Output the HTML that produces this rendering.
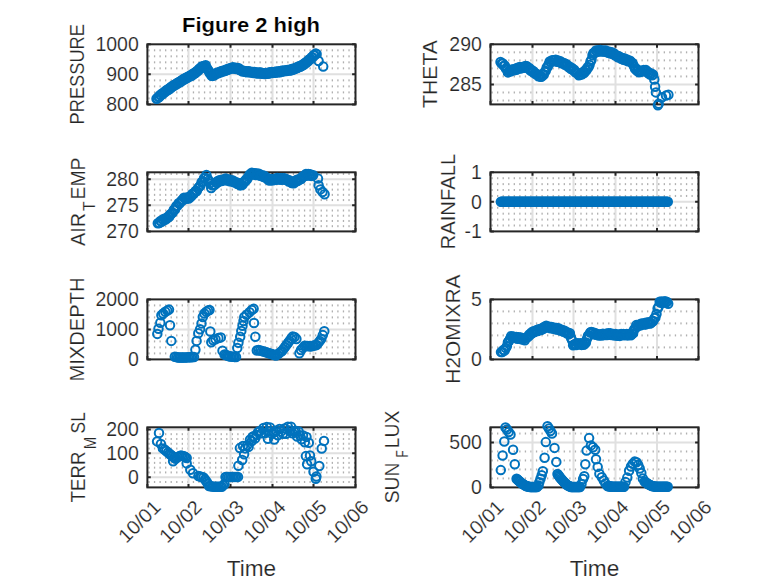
<!DOCTYPE html><html><head><meta charset="utf-8"><style>html,body{margin:0;padding:0;background:#fff;width:778px;height:583px;overflow:hidden}svg{display:block}</style></head><body>
<svg width="778" height="583" viewBox="0 0 778 583" font-family='"Liberation Sans", sans-serif'>
<rect width="778" height="583" fill="#fff"/>
<g fill="#b0b0b0"><rect x="148.35" y="97.39" width="1.3" height="2.0"/><rect x="153.91" y="97.39" width="1.3" height="2.0"/><rect x="159.46" y="97.39" width="1.3" height="2.0"/><rect x="165.02" y="97.39" width="1.3" height="2.0"/><rect x="170.57" y="97.39" width="1.3" height="2.0"/><rect x="176.13" y="97.39" width="1.3" height="2.0"/><rect x="181.69" y="97.39" width="1.3" height="2.0"/><rect x="187.24" y="97.39" width="1.3" height="2.0"/><rect x="192.80" y="97.39" width="1.3" height="2.0"/><rect x="198.35" y="97.39" width="1.3" height="2.0"/><rect x="203.91" y="97.39" width="1.3" height="2.0"/><rect x="209.47" y="97.39" width="1.3" height="2.0"/><rect x="215.02" y="97.39" width="1.3" height="2.0"/><rect x="220.58" y="97.39" width="1.3" height="2.0"/><rect x="226.13" y="97.39" width="1.3" height="2.0"/><rect x="231.69" y="97.39" width="1.3" height="2.0"/><rect x="237.25" y="97.39" width="1.3" height="2.0"/><rect x="242.80" y="97.39" width="1.3" height="2.0"/><rect x="248.36" y="97.39" width="1.3" height="2.0"/><rect x="253.91" y="97.39" width="1.3" height="2.0"/><rect x="259.47" y="97.39" width="1.3" height="2.0"/><rect x="265.03" y="97.39" width="1.3" height="2.0"/><rect x="270.58" y="97.39" width="1.3" height="2.0"/><rect x="276.14" y="97.39" width="1.3" height="2.0"/><rect x="281.69" y="97.39" width="1.3" height="2.0"/><rect x="287.25" y="97.39" width="1.3" height="2.0"/><rect x="292.81" y="97.39" width="1.3" height="2.0"/><rect x="298.36" y="97.39" width="1.3" height="2.0"/><rect x="303.92" y="97.39" width="1.3" height="2.0"/><rect x="309.47" y="97.39" width="1.3" height="2.0"/><rect x="315.03" y="97.39" width="1.3" height="2.0"/><rect x="320.59" y="97.39" width="1.3" height="2.0"/><rect x="326.14" y="97.39" width="1.3" height="2.0"/><rect x="331.70" y="97.39" width="1.3" height="2.0"/><rect x="337.25" y="97.39" width="1.3" height="2.0"/><rect x="342.81" y="97.39" width="1.3" height="2.0"/><rect x="348.37" y="97.39" width="1.3" height="2.0"/><rect x="353.92" y="97.39" width="1.3" height="2.0"/><rect x="148.35" y="91.38" width="1.3" height="2.0"/><rect x="153.91" y="91.38" width="1.3" height="2.0"/><rect x="159.46" y="91.38" width="1.3" height="2.0"/><rect x="165.02" y="91.38" width="1.3" height="2.0"/><rect x="170.57" y="91.38" width="1.3" height="2.0"/><rect x="176.13" y="91.38" width="1.3" height="2.0"/><rect x="181.69" y="91.38" width="1.3" height="2.0"/><rect x="187.24" y="91.38" width="1.3" height="2.0"/><rect x="192.80" y="91.38" width="1.3" height="2.0"/><rect x="198.35" y="91.38" width="1.3" height="2.0"/><rect x="203.91" y="91.38" width="1.3" height="2.0"/><rect x="209.47" y="91.38" width="1.3" height="2.0"/><rect x="215.02" y="91.38" width="1.3" height="2.0"/><rect x="220.58" y="91.38" width="1.3" height="2.0"/><rect x="226.13" y="91.38" width="1.3" height="2.0"/><rect x="231.69" y="91.38" width="1.3" height="2.0"/><rect x="237.25" y="91.38" width="1.3" height="2.0"/><rect x="242.80" y="91.38" width="1.3" height="2.0"/><rect x="248.36" y="91.38" width="1.3" height="2.0"/><rect x="253.91" y="91.38" width="1.3" height="2.0"/><rect x="259.47" y="91.38" width="1.3" height="2.0"/><rect x="265.03" y="91.38" width="1.3" height="2.0"/><rect x="270.58" y="91.38" width="1.3" height="2.0"/><rect x="276.14" y="91.38" width="1.3" height="2.0"/><rect x="281.69" y="91.38" width="1.3" height="2.0"/><rect x="287.25" y="91.38" width="1.3" height="2.0"/><rect x="292.81" y="91.38" width="1.3" height="2.0"/><rect x="298.36" y="91.38" width="1.3" height="2.0"/><rect x="303.92" y="91.38" width="1.3" height="2.0"/><rect x="309.47" y="91.38" width="1.3" height="2.0"/><rect x="315.03" y="91.38" width="1.3" height="2.0"/><rect x="320.59" y="91.38" width="1.3" height="2.0"/><rect x="326.14" y="91.38" width="1.3" height="2.0"/><rect x="331.70" y="91.38" width="1.3" height="2.0"/><rect x="337.25" y="91.38" width="1.3" height="2.0"/><rect x="342.81" y="91.38" width="1.3" height="2.0"/><rect x="348.37" y="91.38" width="1.3" height="2.0"/><rect x="353.92" y="91.38" width="1.3" height="2.0"/><rect x="148.35" y="85.37" width="1.3" height="2.0"/><rect x="153.91" y="85.37" width="1.3" height="2.0"/><rect x="159.46" y="85.37" width="1.3" height="2.0"/><rect x="165.02" y="85.37" width="1.3" height="2.0"/><rect x="170.57" y="85.37" width="1.3" height="2.0"/><rect x="176.13" y="85.37" width="1.3" height="2.0"/><rect x="181.69" y="85.37" width="1.3" height="2.0"/><rect x="187.24" y="85.37" width="1.3" height="2.0"/><rect x="192.80" y="85.37" width="1.3" height="2.0"/><rect x="198.35" y="85.37" width="1.3" height="2.0"/><rect x="203.91" y="85.37" width="1.3" height="2.0"/><rect x="209.47" y="85.37" width="1.3" height="2.0"/><rect x="215.02" y="85.37" width="1.3" height="2.0"/><rect x="220.58" y="85.37" width="1.3" height="2.0"/><rect x="226.13" y="85.37" width="1.3" height="2.0"/><rect x="231.69" y="85.37" width="1.3" height="2.0"/><rect x="237.25" y="85.37" width="1.3" height="2.0"/><rect x="242.80" y="85.37" width="1.3" height="2.0"/><rect x="248.36" y="85.37" width="1.3" height="2.0"/><rect x="253.91" y="85.37" width="1.3" height="2.0"/><rect x="259.47" y="85.37" width="1.3" height="2.0"/><rect x="265.03" y="85.37" width="1.3" height="2.0"/><rect x="270.58" y="85.37" width="1.3" height="2.0"/><rect x="276.14" y="85.37" width="1.3" height="2.0"/><rect x="281.69" y="85.37" width="1.3" height="2.0"/><rect x="287.25" y="85.37" width="1.3" height="2.0"/><rect x="292.81" y="85.37" width="1.3" height="2.0"/><rect x="298.36" y="85.37" width="1.3" height="2.0"/><rect x="303.92" y="85.37" width="1.3" height="2.0"/><rect x="309.47" y="85.37" width="1.3" height="2.0"/><rect x="315.03" y="85.37" width="1.3" height="2.0"/><rect x="320.59" y="85.37" width="1.3" height="2.0"/><rect x="326.14" y="85.37" width="1.3" height="2.0"/><rect x="331.70" y="85.37" width="1.3" height="2.0"/><rect x="337.25" y="85.37" width="1.3" height="2.0"/><rect x="342.81" y="85.37" width="1.3" height="2.0"/><rect x="348.37" y="85.37" width="1.3" height="2.0"/><rect x="353.92" y="85.37" width="1.3" height="2.0"/><rect x="148.35" y="79.36" width="1.3" height="2.0"/><rect x="153.91" y="79.36" width="1.3" height="2.0"/><rect x="159.46" y="79.36" width="1.3" height="2.0"/><rect x="165.02" y="79.36" width="1.3" height="2.0"/><rect x="170.57" y="79.36" width="1.3" height="2.0"/><rect x="176.13" y="79.36" width="1.3" height="2.0"/><rect x="181.69" y="79.36" width="1.3" height="2.0"/><rect x="187.24" y="79.36" width="1.3" height="2.0"/><rect x="192.80" y="79.36" width="1.3" height="2.0"/><rect x="198.35" y="79.36" width="1.3" height="2.0"/><rect x="203.91" y="79.36" width="1.3" height="2.0"/><rect x="209.47" y="79.36" width="1.3" height="2.0"/><rect x="215.02" y="79.36" width="1.3" height="2.0"/><rect x="220.58" y="79.36" width="1.3" height="2.0"/><rect x="226.13" y="79.36" width="1.3" height="2.0"/><rect x="231.69" y="79.36" width="1.3" height="2.0"/><rect x="237.25" y="79.36" width="1.3" height="2.0"/><rect x="242.80" y="79.36" width="1.3" height="2.0"/><rect x="248.36" y="79.36" width="1.3" height="2.0"/><rect x="253.91" y="79.36" width="1.3" height="2.0"/><rect x="259.47" y="79.36" width="1.3" height="2.0"/><rect x="265.03" y="79.36" width="1.3" height="2.0"/><rect x="270.58" y="79.36" width="1.3" height="2.0"/><rect x="276.14" y="79.36" width="1.3" height="2.0"/><rect x="281.69" y="79.36" width="1.3" height="2.0"/><rect x="287.25" y="79.36" width="1.3" height="2.0"/><rect x="292.81" y="79.36" width="1.3" height="2.0"/><rect x="298.36" y="79.36" width="1.3" height="2.0"/><rect x="303.92" y="79.36" width="1.3" height="2.0"/><rect x="309.47" y="79.36" width="1.3" height="2.0"/><rect x="315.03" y="79.36" width="1.3" height="2.0"/><rect x="320.59" y="79.36" width="1.3" height="2.0"/><rect x="326.14" y="79.36" width="1.3" height="2.0"/><rect x="331.70" y="79.36" width="1.3" height="2.0"/><rect x="337.25" y="79.36" width="1.3" height="2.0"/><rect x="342.81" y="79.36" width="1.3" height="2.0"/><rect x="348.37" y="79.36" width="1.3" height="2.0"/><rect x="353.92" y="79.36" width="1.3" height="2.0"/><rect x="148.35" y="67.34" width="1.3" height="2.0"/><rect x="153.91" y="67.34" width="1.3" height="2.0"/><rect x="159.46" y="67.34" width="1.3" height="2.0"/><rect x="165.02" y="67.34" width="1.3" height="2.0"/><rect x="170.57" y="67.34" width="1.3" height="2.0"/><rect x="176.13" y="67.34" width="1.3" height="2.0"/><rect x="181.69" y="67.34" width="1.3" height="2.0"/><rect x="187.24" y="67.34" width="1.3" height="2.0"/><rect x="192.80" y="67.34" width="1.3" height="2.0"/><rect x="198.35" y="67.34" width="1.3" height="2.0"/><rect x="203.91" y="67.34" width="1.3" height="2.0"/><rect x="209.47" y="67.34" width="1.3" height="2.0"/><rect x="215.02" y="67.34" width="1.3" height="2.0"/><rect x="220.58" y="67.34" width="1.3" height="2.0"/><rect x="226.13" y="67.34" width="1.3" height="2.0"/><rect x="231.69" y="67.34" width="1.3" height="2.0"/><rect x="237.25" y="67.34" width="1.3" height="2.0"/><rect x="242.80" y="67.34" width="1.3" height="2.0"/><rect x="248.36" y="67.34" width="1.3" height="2.0"/><rect x="253.91" y="67.34" width="1.3" height="2.0"/><rect x="259.47" y="67.34" width="1.3" height="2.0"/><rect x="265.03" y="67.34" width="1.3" height="2.0"/><rect x="270.58" y="67.34" width="1.3" height="2.0"/><rect x="276.14" y="67.34" width="1.3" height="2.0"/><rect x="281.69" y="67.34" width="1.3" height="2.0"/><rect x="287.25" y="67.34" width="1.3" height="2.0"/><rect x="292.81" y="67.34" width="1.3" height="2.0"/><rect x="298.36" y="67.34" width="1.3" height="2.0"/><rect x="303.92" y="67.34" width="1.3" height="2.0"/><rect x="309.47" y="67.34" width="1.3" height="2.0"/><rect x="315.03" y="67.34" width="1.3" height="2.0"/><rect x="320.59" y="67.34" width="1.3" height="2.0"/><rect x="326.14" y="67.34" width="1.3" height="2.0"/><rect x="331.70" y="67.34" width="1.3" height="2.0"/><rect x="337.25" y="67.34" width="1.3" height="2.0"/><rect x="342.81" y="67.34" width="1.3" height="2.0"/><rect x="348.37" y="67.34" width="1.3" height="2.0"/><rect x="353.92" y="67.34" width="1.3" height="2.0"/><rect x="148.35" y="61.33" width="1.3" height="2.0"/><rect x="153.91" y="61.33" width="1.3" height="2.0"/><rect x="159.46" y="61.33" width="1.3" height="2.0"/><rect x="165.02" y="61.33" width="1.3" height="2.0"/><rect x="170.57" y="61.33" width="1.3" height="2.0"/><rect x="176.13" y="61.33" width="1.3" height="2.0"/><rect x="181.69" y="61.33" width="1.3" height="2.0"/><rect x="187.24" y="61.33" width="1.3" height="2.0"/><rect x="192.80" y="61.33" width="1.3" height="2.0"/><rect x="198.35" y="61.33" width="1.3" height="2.0"/><rect x="203.91" y="61.33" width="1.3" height="2.0"/><rect x="209.47" y="61.33" width="1.3" height="2.0"/><rect x="215.02" y="61.33" width="1.3" height="2.0"/><rect x="220.58" y="61.33" width="1.3" height="2.0"/><rect x="226.13" y="61.33" width="1.3" height="2.0"/><rect x="231.69" y="61.33" width="1.3" height="2.0"/><rect x="237.25" y="61.33" width="1.3" height="2.0"/><rect x="242.80" y="61.33" width="1.3" height="2.0"/><rect x="248.36" y="61.33" width="1.3" height="2.0"/><rect x="253.91" y="61.33" width="1.3" height="2.0"/><rect x="259.47" y="61.33" width="1.3" height="2.0"/><rect x="265.03" y="61.33" width="1.3" height="2.0"/><rect x="270.58" y="61.33" width="1.3" height="2.0"/><rect x="276.14" y="61.33" width="1.3" height="2.0"/><rect x="281.69" y="61.33" width="1.3" height="2.0"/><rect x="287.25" y="61.33" width="1.3" height="2.0"/><rect x="292.81" y="61.33" width="1.3" height="2.0"/><rect x="298.36" y="61.33" width="1.3" height="2.0"/><rect x="303.92" y="61.33" width="1.3" height="2.0"/><rect x="309.47" y="61.33" width="1.3" height="2.0"/><rect x="315.03" y="61.33" width="1.3" height="2.0"/><rect x="320.59" y="61.33" width="1.3" height="2.0"/><rect x="326.14" y="61.33" width="1.3" height="2.0"/><rect x="331.70" y="61.33" width="1.3" height="2.0"/><rect x="337.25" y="61.33" width="1.3" height="2.0"/><rect x="342.81" y="61.33" width="1.3" height="2.0"/><rect x="348.37" y="61.33" width="1.3" height="2.0"/><rect x="353.92" y="61.33" width="1.3" height="2.0"/><rect x="148.35" y="55.32" width="1.3" height="2.0"/><rect x="153.91" y="55.32" width="1.3" height="2.0"/><rect x="159.46" y="55.32" width="1.3" height="2.0"/><rect x="165.02" y="55.32" width="1.3" height="2.0"/><rect x="170.57" y="55.32" width="1.3" height="2.0"/><rect x="176.13" y="55.32" width="1.3" height="2.0"/><rect x="181.69" y="55.32" width="1.3" height="2.0"/><rect x="187.24" y="55.32" width="1.3" height="2.0"/><rect x="192.80" y="55.32" width="1.3" height="2.0"/><rect x="198.35" y="55.32" width="1.3" height="2.0"/><rect x="203.91" y="55.32" width="1.3" height="2.0"/><rect x="209.47" y="55.32" width="1.3" height="2.0"/><rect x="215.02" y="55.32" width="1.3" height="2.0"/><rect x="220.58" y="55.32" width="1.3" height="2.0"/><rect x="226.13" y="55.32" width="1.3" height="2.0"/><rect x="231.69" y="55.32" width="1.3" height="2.0"/><rect x="237.25" y="55.32" width="1.3" height="2.0"/><rect x="242.80" y="55.32" width="1.3" height="2.0"/><rect x="248.36" y="55.32" width="1.3" height="2.0"/><rect x="253.91" y="55.32" width="1.3" height="2.0"/><rect x="259.47" y="55.32" width="1.3" height="2.0"/><rect x="265.03" y="55.32" width="1.3" height="2.0"/><rect x="270.58" y="55.32" width="1.3" height="2.0"/><rect x="276.14" y="55.32" width="1.3" height="2.0"/><rect x="281.69" y="55.32" width="1.3" height="2.0"/><rect x="287.25" y="55.32" width="1.3" height="2.0"/><rect x="292.81" y="55.32" width="1.3" height="2.0"/><rect x="298.36" y="55.32" width="1.3" height="2.0"/><rect x="303.92" y="55.32" width="1.3" height="2.0"/><rect x="309.47" y="55.32" width="1.3" height="2.0"/><rect x="315.03" y="55.32" width="1.3" height="2.0"/><rect x="320.59" y="55.32" width="1.3" height="2.0"/><rect x="326.14" y="55.32" width="1.3" height="2.0"/><rect x="331.70" y="55.32" width="1.3" height="2.0"/><rect x="337.25" y="55.32" width="1.3" height="2.0"/><rect x="342.81" y="55.32" width="1.3" height="2.0"/><rect x="348.37" y="55.32" width="1.3" height="2.0"/><rect x="353.92" y="55.32" width="1.3" height="2.0"/><rect x="148.35" y="49.31" width="1.3" height="2.0"/><rect x="153.91" y="49.31" width="1.3" height="2.0"/><rect x="159.46" y="49.31" width="1.3" height="2.0"/><rect x="165.02" y="49.31" width="1.3" height="2.0"/><rect x="170.57" y="49.31" width="1.3" height="2.0"/><rect x="176.13" y="49.31" width="1.3" height="2.0"/><rect x="181.69" y="49.31" width="1.3" height="2.0"/><rect x="187.24" y="49.31" width="1.3" height="2.0"/><rect x="192.80" y="49.31" width="1.3" height="2.0"/><rect x="198.35" y="49.31" width="1.3" height="2.0"/><rect x="203.91" y="49.31" width="1.3" height="2.0"/><rect x="209.47" y="49.31" width="1.3" height="2.0"/><rect x="215.02" y="49.31" width="1.3" height="2.0"/><rect x="220.58" y="49.31" width="1.3" height="2.0"/><rect x="226.13" y="49.31" width="1.3" height="2.0"/><rect x="231.69" y="49.31" width="1.3" height="2.0"/><rect x="237.25" y="49.31" width="1.3" height="2.0"/><rect x="242.80" y="49.31" width="1.3" height="2.0"/><rect x="248.36" y="49.31" width="1.3" height="2.0"/><rect x="253.91" y="49.31" width="1.3" height="2.0"/><rect x="259.47" y="49.31" width="1.3" height="2.0"/><rect x="265.03" y="49.31" width="1.3" height="2.0"/><rect x="270.58" y="49.31" width="1.3" height="2.0"/><rect x="276.14" y="49.31" width="1.3" height="2.0"/><rect x="281.69" y="49.31" width="1.3" height="2.0"/><rect x="287.25" y="49.31" width="1.3" height="2.0"/><rect x="292.81" y="49.31" width="1.3" height="2.0"/><rect x="298.36" y="49.31" width="1.3" height="2.0"/><rect x="303.92" y="49.31" width="1.3" height="2.0"/><rect x="309.47" y="49.31" width="1.3" height="2.0"/><rect x="315.03" y="49.31" width="1.3" height="2.0"/><rect x="320.59" y="49.31" width="1.3" height="2.0"/><rect x="326.14" y="49.31" width="1.3" height="2.0"/><rect x="331.70" y="49.31" width="1.3" height="2.0"/><rect x="337.25" y="49.31" width="1.3" height="2.0"/><rect x="342.81" y="49.31" width="1.3" height="2.0"/><rect x="348.37" y="49.31" width="1.3" height="2.0"/><rect x="353.92" y="49.31" width="1.3" height="2.0"/></g>
<path d="M147.40 74.35H355.50M188.50 44.30V104.40M230.50 44.30V104.40M272.50 44.30V104.40M313.50 44.30V104.40" stroke="#e0e0e0" stroke-width="2.0" fill="none"/>
<path d="M147.40 104.40h3.4M355.50 104.40h-3.4M147.40 74.35h3.4M355.50 74.35h-3.4M147.40 44.30h3.4M355.50 44.30h-3.4M147.40 44.30v3.4M147.40 104.40v-3.4M188.50 44.30v3.4M188.50 104.40v-3.4M230.50 44.30v3.4M230.50 104.40v-3.4M272.50 44.30v3.4M272.50 104.40v-3.4M313.50 44.30v3.4M313.50 104.40v-3.4M355.50 44.30v3.4M355.50 104.40v-3.4" stroke="#262626" stroke-width="2.0" fill="none"/>
<rect x="147.40" y="44.30" width="208.10" height="60.10" fill="none" stroke="#262626" stroke-width="2.0"/>
<g fill="none" stroke="#0072BD" stroke-width="2.0"><circle cx="156.5" cy="98.7" r="4.25"/><circle cx="157.4" cy="98.4" r="4.25"/><circle cx="158.4" cy="96.8" r="4.25"/><circle cx="159.3" cy="97.0" r="4.25"/><circle cx="160.2" cy="95.0" r="4.25"/><circle cx="161.2" cy="95.0" r="4.25"/><circle cx="162.1" cy="93.4" r="4.25"/><circle cx="163.0" cy="93.7" r="4.25"/><circle cx="164.0" cy="92.5" r="4.25"/><circle cx="164.9" cy="91.4" r="4.25"/><circle cx="165.8" cy="91.6" r="4.25"/><circle cx="166.7" cy="90.0" r="4.25"/><circle cx="167.6" cy="89.8" r="4.25"/><circle cx="168.5" cy="89.7" r="4.25"/><circle cx="169.4" cy="88.2" r="4.25"/><circle cx="170.3" cy="88.5" r="4.25"/><circle cx="171.3" cy="86.8" r="4.25"/><circle cx="172.2" cy="86.9" r="4.25"/><circle cx="173.1" cy="85.5" r="4.25"/><circle cx="174.0" cy="85.8" r="4.25"/><circle cx="174.9" cy="84.8" r="4.25"/><circle cx="175.8" cy="84.0" r="4.25"/><circle cx="176.7" cy="84.2" r="4.25"/><circle cx="177.6" cy="82.7" r="4.25"/><circle cx="178.5" cy="82.6" r="4.25"/><circle cx="179.4" cy="82.5" r="4.25"/><circle cx="180.3" cy="81.2" r="4.25"/><circle cx="181.2" cy="81.6" r="4.25"/><circle cx="182.1" cy="79.9" r="4.25"/><circle cx="183.0" cy="80.1" r="4.25"/><circle cx="183.9" cy="78.8" r="4.25"/><circle cx="184.8" cy="79.2" r="4.25"/><circle cx="185.7" cy="78.3" r="4.25"/><circle cx="186.6" cy="77.5" r="4.25"/><circle cx="187.5" cy="77.9" r="4.25"/><circle cx="188.4" cy="76.4" r="4.25"/><circle cx="189.3" cy="76.3" r="4.25"/><circle cx="190.2" cy="76.3" r="4.25"/><circle cx="191.1" cy="75.0" r="4.25"/><circle cx="192.0" cy="75.5" r="4.25"/><circle cx="192.9" cy="73.8" r="4.25"/><circle cx="193.8" cy="74.1" r="4.25"/><circle cx="194.7" cy="72.8" r="4.25"/><circle cx="195.6" cy="73.0" r="4.25"/><circle cx="196.4" cy="71.8" r="4.25"/><circle cx="197.3" cy="70.7" r="4.25"/><circle cx="198.2" cy="70.7" r="4.25"/><circle cx="199.1" cy="68.9" r="4.25"/><circle cx="199.9" cy="68.5" r="4.25"/><circle cx="200.8" cy="68.2" r="4.25"/><circle cx="201.7" cy="66.5" r="4.25"/><circle cx="202.7" cy="67.2" r="4.25"/><circle cx="203.7" cy="65.9" r="4.25"/><circle cx="204.7" cy="66.3" r="4.25"/><circle cx="205.7" cy="65.3" r="4.25"/><circle cx="206.7" cy="68.0" r="4.25"/><circle cx="207.6" cy="69.2" r="4.25"/><circle cx="208.6" cy="70.6" r="4.25"/><circle cx="209.6" cy="73.1" r="4.25"/><circle cx="210.6" cy="73.7" r="4.25"/><circle cx="211.6" cy="75.8" r="4.25"/><circle cx="212.5" cy="75.9" r="4.25"/><circle cx="213.4" cy="74.6" r="4.25"/><circle cx="214.4" cy="75.2" r="4.25"/><circle cx="215.3" cy="73.6" r="4.25"/><circle cx="216.2" cy="73.9" r="4.25"/><circle cx="217.1" cy="72.7" r="4.25"/><circle cx="218.1" cy="73.3" r="4.25"/><circle cx="219.0" cy="72.5" r="4.25"/><circle cx="219.9" cy="71.8" r="4.25"/><circle cx="220.8" cy="72.3" r="4.25"/><circle cx="221.8" cy="71.0" r="4.25"/><circle cx="222.7" cy="71.2" r="4.25"/><circle cx="223.6" cy="71.3" r="4.25"/><circle cx="224.5" cy="70.2" r="4.25"/><circle cx="225.5" cy="70.8" r="4.25"/><circle cx="226.4" cy="69.4" r="4.25"/><circle cx="227.3" cy="69.8" r="4.25"/><circle cx="228.3" cy="68.7" r="4.25"/><circle cx="229.2" cy="69.4" r="4.25"/><circle cx="230.1" cy="68.6" r="4.25"/><circle cx="231.0" cy="68.0" r="4.25"/><circle cx="232.0" cy="68.5" r="4.25"/><circle cx="232.9" cy="67.2" r="4.25"/><circle cx="233.7" cy="67.9" r="4.25"/><circle cx="234.6" cy="68.5" r="4.25"/><circle cx="235.4" cy="67.8" r="4.25"/><circle cx="236.3" cy="69.0" r="4.25"/><circle cx="237.1" cy="68.0" r="4.25"/><circle cx="238.0" cy="68.9" r="4.25"/><circle cx="238.8" cy="68.3" r="4.25"/><circle cx="239.8" cy="70.0" r="4.25"/><circle cx="240.8" cy="70.2" r="4.25"/><circle cx="241.8" cy="70.6" r="4.25"/><circle cx="242.7" cy="71.6" r="4.25"/><circle cx="243.6" cy="70.7" r="4.25"/><circle cx="244.5" cy="71.3" r="4.25"/><circle cx="245.4" cy="71.9" r="4.25"/><circle cx="246.3" cy="71.2" r="4.25"/><circle cx="247.2" cy="72.2" r="4.25"/><circle cx="248.2" cy="71.2" r="4.25"/><circle cx="249.1" cy="72.1" r="4.25"/><circle cx="250.0" cy="71.4" r="4.25"/><circle cx="250.9" cy="72.6" r="4.25"/><circle cx="251.8" cy="72.3" r="4.25"/><circle cx="252.7" cy="72.1" r="4.25"/><circle cx="253.6" cy="73.0" r="4.25"/><circle cx="254.6" cy="72.1" r="4.25"/><circle cx="255.5" cy="72.7" r="4.25"/><circle cx="256.4" cy="73.2" r="4.25"/><circle cx="257.3" cy="72.5" r="4.25"/><circle cx="258.2" cy="73.5" r="4.25"/><circle cx="259.2" cy="72.5" r="4.25"/><circle cx="260.1" cy="73.3" r="4.25"/><circle cx="261.0" cy="72.6" r="4.25"/><circle cx="261.9" cy="73.7" r="4.25"/><circle cx="262.9" cy="73.4" r="4.25"/><circle cx="263.8" cy="73.2" r="4.25"/><circle cx="264.7" cy="74.1" r="4.25"/><circle cx="265.6" cy="73.0" r="4.25"/><circle cx="266.5" cy="73.4" r="4.25"/><circle cx="267.4" cy="73.7" r="4.25"/><circle cx="268.3" cy="72.8" r="4.25"/><circle cx="269.1" cy="73.6" r="4.25"/><circle cx="270.0" cy="72.3" r="4.25"/><circle cx="270.9" cy="72.9" r="4.25"/><circle cx="271.8" cy="72.0" r="4.25"/><circle cx="272.7" cy="72.9" r="4.25"/><circle cx="273.6" cy="72.4" r="4.25"/><circle cx="274.5" cy="72.0" r="4.25"/><circle cx="275.4" cy="72.7" r="4.25"/><circle cx="276.3" cy="71.6" r="4.25"/><circle cx="277.2" cy="71.9" r="4.25"/><circle cx="278.1" cy="72.3" r="4.25"/><circle cx="279.0" cy="71.3" r="4.25"/><circle cx="279.9" cy="72.2" r="4.25"/><circle cx="280.8" cy="70.9" r="4.25"/><circle cx="281.8" cy="71.5" r="4.25"/><circle cx="282.7" cy="70.5" r="4.25"/><circle cx="283.6" cy="71.4" r="4.25"/><circle cx="284.5" cy="70.8" r="4.25"/><circle cx="285.5" cy="70.4" r="4.25"/><circle cx="286.4" cy="71.1" r="4.25"/><circle cx="287.3" cy="69.9" r="4.25"/><circle cx="288.3" cy="70.2" r="4.25"/><circle cx="289.2" cy="70.6" r="4.25"/><circle cx="290.1" cy="69.6" r="4.25"/><circle cx="291.0" cy="70.4" r="4.25"/><circle cx="292.0" cy="69.1" r="4.25"/><circle cx="292.9" cy="69.7" r="4.25"/><circle cx="293.8" cy="68.5" r="4.25"/><circle cx="294.7" cy="69.1" r="4.25"/><circle cx="295.6" cy="68.2" r="4.25"/><circle cx="296.5" cy="67.5" r="4.25"/><circle cx="297.4" cy="68.0" r="4.25"/><circle cx="298.4" cy="66.5" r="4.25"/><circle cx="299.3" cy="66.6" r="4.25"/><circle cx="300.2" cy="66.7" r="4.25"/><circle cx="301.1" cy="65.4" r="4.25"/><circle cx="302.0" cy="65.9" r="4.25"/><circle cx="302.9" cy="64.4" r="4.25"/><circle cx="303.8" cy="64.7" r="4.25"/><circle cx="304.7" cy="63.1" r="4.25"/><circle cx="305.6" cy="63.4" r="4.25"/><circle cx="306.4" cy="62.2" r="4.25"/><circle cx="307.3" cy="61.2" r="4.25"/><circle cx="308.2" cy="61.3" r="4.25"/><circle cx="309.1" cy="59.5" r="4.25"/><circle cx="309.9" cy="59.2" r="4.25"/><circle cx="310.8" cy="59.0" r="4.25"/><circle cx="311.7" cy="57.3" r="4.25"/><circle cx="312.6" cy="57.4" r="4.25"/><circle cx="313.6" cy="55.3" r="4.25"/><circle cx="314.5" cy="55.2" r="4.25"/><circle cx="315.6" cy="53.6" r="4.25"/><circle cx="316.6" cy="53.9" r="4.25"/><circle cx="318.6" cy="61.0" r="4.25"/><circle cx="323.2" cy="66.6" r="4.25"/></g>
<text x="138.80" y="111.15" font-size="19.5" fill="#262626" stroke="#fff" stroke-width="0.18" text-anchor="end">800</text>
<text x="138.80" y="81.10" font-size="19.5" fill="#262626" stroke="#fff" stroke-width="0.18" text-anchor="end">900</text>
<text x="138.80" y="51.05" font-size="19.5" fill="#262626" stroke="#fff" stroke-width="0.18" text-anchor="end">1000</text>
<text transform="translate(84.00,124.50) rotate(-90)" font-size="20.0" fill="#262626" stroke="#fff" stroke-width="0.18" textLength="100.50" lengthAdjust="spacingAndGlyphs">PRESSURE</text>
<text x="182.00" y="31.5" font-size="20.5" font-weight="bold" fill="#000" stroke="#fff" stroke-width="0.18" textLength="138" lengthAdjust="spacingAndGlyphs">Figure 2 high</text>
<g fill="#b0b0b0"><rect x="491.45" y="99.51" width="1.3" height="2.0"/><rect x="497.01" y="99.51" width="1.3" height="2.0"/><rect x="502.56" y="99.51" width="1.3" height="2.0"/><rect x="508.12" y="99.51" width="1.3" height="2.0"/><rect x="513.67" y="99.51" width="1.3" height="2.0"/><rect x="519.23" y="99.51" width="1.3" height="2.0"/><rect x="524.79" y="99.51" width="1.3" height="2.0"/><rect x="530.34" y="99.51" width="1.3" height="2.0"/><rect x="535.90" y="99.51" width="1.3" height="2.0"/><rect x="541.45" y="99.51" width="1.3" height="2.0"/><rect x="547.01" y="99.51" width="1.3" height="2.0"/><rect x="552.57" y="99.51" width="1.3" height="2.0"/><rect x="558.12" y="99.51" width="1.3" height="2.0"/><rect x="563.68" y="99.51" width="1.3" height="2.0"/><rect x="569.23" y="99.51" width="1.3" height="2.0"/><rect x="574.79" y="99.51" width="1.3" height="2.0"/><rect x="580.35" y="99.51" width="1.3" height="2.0"/><rect x="585.90" y="99.51" width="1.3" height="2.0"/><rect x="591.46" y="99.51" width="1.3" height="2.0"/><rect x="597.01" y="99.51" width="1.3" height="2.0"/><rect x="602.57" y="99.51" width="1.3" height="2.0"/><rect x="608.13" y="99.51" width="1.3" height="2.0"/><rect x="613.68" y="99.51" width="1.3" height="2.0"/><rect x="619.24" y="99.51" width="1.3" height="2.0"/><rect x="624.79" y="99.51" width="1.3" height="2.0"/><rect x="630.35" y="99.51" width="1.3" height="2.0"/><rect x="635.91" y="99.51" width="1.3" height="2.0"/><rect x="641.46" y="99.51" width="1.3" height="2.0"/><rect x="647.02" y="99.51" width="1.3" height="2.0"/><rect x="652.57" y="99.51" width="1.3" height="2.0"/><rect x="658.13" y="99.51" width="1.3" height="2.0"/><rect x="663.69" y="99.51" width="1.3" height="2.0"/><rect x="669.24" y="99.51" width="1.3" height="2.0"/><rect x="674.80" y="99.51" width="1.3" height="2.0"/><rect x="680.35" y="99.51" width="1.3" height="2.0"/><rect x="685.91" y="99.51" width="1.3" height="2.0"/><rect x="691.47" y="99.51" width="1.3" height="2.0"/><rect x="697.02" y="99.51" width="1.3" height="2.0"/><rect x="491.45" y="91.48" width="1.3" height="2.0"/><rect x="497.01" y="91.48" width="1.3" height="2.0"/><rect x="502.56" y="91.48" width="1.3" height="2.0"/><rect x="508.12" y="91.48" width="1.3" height="2.0"/><rect x="513.67" y="91.48" width="1.3" height="2.0"/><rect x="519.23" y="91.48" width="1.3" height="2.0"/><rect x="524.79" y="91.48" width="1.3" height="2.0"/><rect x="530.34" y="91.48" width="1.3" height="2.0"/><rect x="535.90" y="91.48" width="1.3" height="2.0"/><rect x="541.45" y="91.48" width="1.3" height="2.0"/><rect x="547.01" y="91.48" width="1.3" height="2.0"/><rect x="552.57" y="91.48" width="1.3" height="2.0"/><rect x="558.12" y="91.48" width="1.3" height="2.0"/><rect x="563.68" y="91.48" width="1.3" height="2.0"/><rect x="569.23" y="91.48" width="1.3" height="2.0"/><rect x="574.79" y="91.48" width="1.3" height="2.0"/><rect x="580.35" y="91.48" width="1.3" height="2.0"/><rect x="585.90" y="91.48" width="1.3" height="2.0"/><rect x="591.46" y="91.48" width="1.3" height="2.0"/><rect x="597.01" y="91.48" width="1.3" height="2.0"/><rect x="602.57" y="91.48" width="1.3" height="2.0"/><rect x="608.13" y="91.48" width="1.3" height="2.0"/><rect x="613.68" y="91.48" width="1.3" height="2.0"/><rect x="619.24" y="91.48" width="1.3" height="2.0"/><rect x="624.79" y="91.48" width="1.3" height="2.0"/><rect x="630.35" y="91.48" width="1.3" height="2.0"/><rect x="635.91" y="91.48" width="1.3" height="2.0"/><rect x="641.46" y="91.48" width="1.3" height="2.0"/><rect x="647.02" y="91.48" width="1.3" height="2.0"/><rect x="652.57" y="91.48" width="1.3" height="2.0"/><rect x="658.13" y="91.48" width="1.3" height="2.0"/><rect x="663.69" y="91.48" width="1.3" height="2.0"/><rect x="669.24" y="91.48" width="1.3" height="2.0"/><rect x="674.80" y="91.48" width="1.3" height="2.0"/><rect x="680.35" y="91.48" width="1.3" height="2.0"/><rect x="685.91" y="91.48" width="1.3" height="2.0"/><rect x="691.47" y="91.48" width="1.3" height="2.0"/><rect x="697.02" y="91.48" width="1.3" height="2.0"/><rect x="491.45" y="75.42" width="1.3" height="2.0"/><rect x="497.01" y="75.42" width="1.3" height="2.0"/><rect x="502.56" y="75.42" width="1.3" height="2.0"/><rect x="508.12" y="75.42" width="1.3" height="2.0"/><rect x="513.67" y="75.42" width="1.3" height="2.0"/><rect x="519.23" y="75.42" width="1.3" height="2.0"/><rect x="524.79" y="75.42" width="1.3" height="2.0"/><rect x="530.34" y="75.42" width="1.3" height="2.0"/><rect x="535.90" y="75.42" width="1.3" height="2.0"/><rect x="541.45" y="75.42" width="1.3" height="2.0"/><rect x="547.01" y="75.42" width="1.3" height="2.0"/><rect x="552.57" y="75.42" width="1.3" height="2.0"/><rect x="558.12" y="75.42" width="1.3" height="2.0"/><rect x="563.68" y="75.42" width="1.3" height="2.0"/><rect x="569.23" y="75.42" width="1.3" height="2.0"/><rect x="574.79" y="75.42" width="1.3" height="2.0"/><rect x="580.35" y="75.42" width="1.3" height="2.0"/><rect x="585.90" y="75.42" width="1.3" height="2.0"/><rect x="591.46" y="75.42" width="1.3" height="2.0"/><rect x="597.01" y="75.42" width="1.3" height="2.0"/><rect x="602.57" y="75.42" width="1.3" height="2.0"/><rect x="608.13" y="75.42" width="1.3" height="2.0"/><rect x="613.68" y="75.42" width="1.3" height="2.0"/><rect x="619.24" y="75.42" width="1.3" height="2.0"/><rect x="624.79" y="75.42" width="1.3" height="2.0"/><rect x="630.35" y="75.42" width="1.3" height="2.0"/><rect x="635.91" y="75.42" width="1.3" height="2.0"/><rect x="641.46" y="75.42" width="1.3" height="2.0"/><rect x="647.02" y="75.42" width="1.3" height="2.0"/><rect x="652.57" y="75.42" width="1.3" height="2.0"/><rect x="658.13" y="75.42" width="1.3" height="2.0"/><rect x="663.69" y="75.42" width="1.3" height="2.0"/><rect x="669.24" y="75.42" width="1.3" height="2.0"/><rect x="674.80" y="75.42" width="1.3" height="2.0"/><rect x="680.35" y="75.42" width="1.3" height="2.0"/><rect x="685.91" y="75.42" width="1.3" height="2.0"/><rect x="691.47" y="75.42" width="1.3" height="2.0"/><rect x="697.02" y="75.42" width="1.3" height="2.0"/><rect x="491.45" y="67.39" width="1.3" height="2.0"/><rect x="497.01" y="67.39" width="1.3" height="2.0"/><rect x="502.56" y="67.39" width="1.3" height="2.0"/><rect x="508.12" y="67.39" width="1.3" height="2.0"/><rect x="513.67" y="67.39" width="1.3" height="2.0"/><rect x="519.23" y="67.39" width="1.3" height="2.0"/><rect x="524.79" y="67.39" width="1.3" height="2.0"/><rect x="530.34" y="67.39" width="1.3" height="2.0"/><rect x="535.90" y="67.39" width="1.3" height="2.0"/><rect x="541.45" y="67.39" width="1.3" height="2.0"/><rect x="547.01" y="67.39" width="1.3" height="2.0"/><rect x="552.57" y="67.39" width="1.3" height="2.0"/><rect x="558.12" y="67.39" width="1.3" height="2.0"/><rect x="563.68" y="67.39" width="1.3" height="2.0"/><rect x="569.23" y="67.39" width="1.3" height="2.0"/><rect x="574.79" y="67.39" width="1.3" height="2.0"/><rect x="580.35" y="67.39" width="1.3" height="2.0"/><rect x="585.90" y="67.39" width="1.3" height="2.0"/><rect x="591.46" y="67.39" width="1.3" height="2.0"/><rect x="597.01" y="67.39" width="1.3" height="2.0"/><rect x="602.57" y="67.39" width="1.3" height="2.0"/><rect x="608.13" y="67.39" width="1.3" height="2.0"/><rect x="613.68" y="67.39" width="1.3" height="2.0"/><rect x="619.24" y="67.39" width="1.3" height="2.0"/><rect x="624.79" y="67.39" width="1.3" height="2.0"/><rect x="630.35" y="67.39" width="1.3" height="2.0"/><rect x="635.91" y="67.39" width="1.3" height="2.0"/><rect x="641.46" y="67.39" width="1.3" height="2.0"/><rect x="647.02" y="67.39" width="1.3" height="2.0"/><rect x="652.57" y="67.39" width="1.3" height="2.0"/><rect x="658.13" y="67.39" width="1.3" height="2.0"/><rect x="663.69" y="67.39" width="1.3" height="2.0"/><rect x="669.24" y="67.39" width="1.3" height="2.0"/><rect x="674.80" y="67.39" width="1.3" height="2.0"/><rect x="680.35" y="67.39" width="1.3" height="2.0"/><rect x="685.91" y="67.39" width="1.3" height="2.0"/><rect x="691.47" y="67.39" width="1.3" height="2.0"/><rect x="697.02" y="67.39" width="1.3" height="2.0"/><rect x="491.45" y="59.36" width="1.3" height="2.0"/><rect x="497.01" y="59.36" width="1.3" height="2.0"/><rect x="502.56" y="59.36" width="1.3" height="2.0"/><rect x="508.12" y="59.36" width="1.3" height="2.0"/><rect x="513.67" y="59.36" width="1.3" height="2.0"/><rect x="519.23" y="59.36" width="1.3" height="2.0"/><rect x="524.79" y="59.36" width="1.3" height="2.0"/><rect x="530.34" y="59.36" width="1.3" height="2.0"/><rect x="535.90" y="59.36" width="1.3" height="2.0"/><rect x="541.45" y="59.36" width="1.3" height="2.0"/><rect x="547.01" y="59.36" width="1.3" height="2.0"/><rect x="552.57" y="59.36" width="1.3" height="2.0"/><rect x="558.12" y="59.36" width="1.3" height="2.0"/><rect x="563.68" y="59.36" width="1.3" height="2.0"/><rect x="569.23" y="59.36" width="1.3" height="2.0"/><rect x="574.79" y="59.36" width="1.3" height="2.0"/><rect x="580.35" y="59.36" width="1.3" height="2.0"/><rect x="585.90" y="59.36" width="1.3" height="2.0"/><rect x="591.46" y="59.36" width="1.3" height="2.0"/><rect x="597.01" y="59.36" width="1.3" height="2.0"/><rect x="602.57" y="59.36" width="1.3" height="2.0"/><rect x="608.13" y="59.36" width="1.3" height="2.0"/><rect x="613.68" y="59.36" width="1.3" height="2.0"/><rect x="619.24" y="59.36" width="1.3" height="2.0"/><rect x="624.79" y="59.36" width="1.3" height="2.0"/><rect x="630.35" y="59.36" width="1.3" height="2.0"/><rect x="635.91" y="59.36" width="1.3" height="2.0"/><rect x="641.46" y="59.36" width="1.3" height="2.0"/><rect x="647.02" y="59.36" width="1.3" height="2.0"/><rect x="652.57" y="59.36" width="1.3" height="2.0"/><rect x="658.13" y="59.36" width="1.3" height="2.0"/><rect x="663.69" y="59.36" width="1.3" height="2.0"/><rect x="669.24" y="59.36" width="1.3" height="2.0"/><rect x="674.80" y="59.36" width="1.3" height="2.0"/><rect x="680.35" y="59.36" width="1.3" height="2.0"/><rect x="685.91" y="59.36" width="1.3" height="2.0"/><rect x="691.47" y="59.36" width="1.3" height="2.0"/><rect x="697.02" y="59.36" width="1.3" height="2.0"/><rect x="491.45" y="51.33" width="1.3" height="2.0"/><rect x="497.01" y="51.33" width="1.3" height="2.0"/><rect x="502.56" y="51.33" width="1.3" height="2.0"/><rect x="508.12" y="51.33" width="1.3" height="2.0"/><rect x="513.67" y="51.33" width="1.3" height="2.0"/><rect x="519.23" y="51.33" width="1.3" height="2.0"/><rect x="524.79" y="51.33" width="1.3" height="2.0"/><rect x="530.34" y="51.33" width="1.3" height="2.0"/><rect x="535.90" y="51.33" width="1.3" height="2.0"/><rect x="541.45" y="51.33" width="1.3" height="2.0"/><rect x="547.01" y="51.33" width="1.3" height="2.0"/><rect x="552.57" y="51.33" width="1.3" height="2.0"/><rect x="558.12" y="51.33" width="1.3" height="2.0"/><rect x="563.68" y="51.33" width="1.3" height="2.0"/><rect x="569.23" y="51.33" width="1.3" height="2.0"/><rect x="574.79" y="51.33" width="1.3" height="2.0"/><rect x="580.35" y="51.33" width="1.3" height="2.0"/><rect x="585.90" y="51.33" width="1.3" height="2.0"/><rect x="591.46" y="51.33" width="1.3" height="2.0"/><rect x="597.01" y="51.33" width="1.3" height="2.0"/><rect x="602.57" y="51.33" width="1.3" height="2.0"/><rect x="608.13" y="51.33" width="1.3" height="2.0"/><rect x="613.68" y="51.33" width="1.3" height="2.0"/><rect x="619.24" y="51.33" width="1.3" height="2.0"/><rect x="624.79" y="51.33" width="1.3" height="2.0"/><rect x="630.35" y="51.33" width="1.3" height="2.0"/><rect x="635.91" y="51.33" width="1.3" height="2.0"/><rect x="641.46" y="51.33" width="1.3" height="2.0"/><rect x="647.02" y="51.33" width="1.3" height="2.0"/><rect x="652.57" y="51.33" width="1.3" height="2.0"/><rect x="658.13" y="51.33" width="1.3" height="2.0"/><rect x="663.69" y="51.33" width="1.3" height="2.0"/><rect x="669.24" y="51.33" width="1.3" height="2.0"/><rect x="674.80" y="51.33" width="1.3" height="2.0"/><rect x="680.35" y="51.33" width="1.3" height="2.0"/><rect x="685.91" y="51.33" width="1.3" height="2.0"/><rect x="691.47" y="51.33" width="1.3" height="2.0"/><rect x="697.02" y="51.33" width="1.3" height="2.0"/></g>
<path d="M490.50 84.45H698.50M532.50 44.30V104.40M573.50 44.30V104.40M615.50 44.30V104.40M657.00 44.30V104.40" stroke="#e0e0e0" stroke-width="2.0" fill="none"/>
<path d="M490.50 84.45h3.4M698.50 84.45h-3.4M490.50 44.30h3.4M698.50 44.30h-3.4M490.50 44.30v3.4M490.50 104.40v-3.4M532.50 44.30v3.4M532.50 104.40v-3.4M573.50 44.30v3.4M573.50 104.40v-3.4M615.50 44.30v3.4M615.50 104.40v-3.4M657.00 44.30v3.4M657.00 104.40v-3.4M698.50 44.30v3.4M698.50 104.40v-3.4" stroke="#262626" stroke-width="2.0" fill="none"/>
<rect x="490.50" y="44.30" width="208.00" height="60.10" fill="none" stroke="#262626" stroke-width="2.0"/>
<g fill="none" stroke="#0072BD" stroke-width="2.0"><circle cx="500.5" cy="61.9" r="4.25"/><circle cx="501.6" cy="63.6" r="4.25"/><circle cx="502.8" cy="63.4" r="4.25"/><circle cx="503.9" cy="65.8" r="4.25"/><circle cx="504.9" cy="65.8" r="4.25"/><circle cx="505.9" cy="68.6" r="4.25"/><circle cx="506.9" cy="69.2" r="4.25"/><circle cx="507.9" cy="72.4" r="4.25"/><circle cx="508.9" cy="71.4" r="4.25"/><circle cx="509.9" cy="70.5" r="4.25"/><circle cx="510.9" cy="71.4" r="4.25"/><circle cx="511.9" cy="69.5" r="4.25"/><circle cx="512.9" cy="69.8" r="4.25"/><circle cx="514.1" cy="70.2" r="4.25"/><circle cx="515.3" cy="68.7" r="4.25"/><circle cx="516.4" cy="69.8" r="4.25"/><circle cx="517.6" cy="67.8" r="4.25"/><circle cx="518.8" cy="68.6" r="4.25"/><circle cx="519.9" cy="67.1" r="4.25"/><circle cx="521.1" cy="68.4" r="4.25"/><circle cx="522.2" cy="67.4" r="4.25"/><circle cx="523.4" cy="66.7" r="4.25"/><circle cx="524.5" cy="67.7" r="4.25"/><circle cx="525.7" cy="65.9" r="4.25"/><circle cx="526.8" cy="66.3" r="4.25"/><circle cx="528.0" cy="68.1" r="4.25"/><circle cx="529.2" cy="68.0" r="4.25"/><circle cx="530.4" cy="70.5" r="4.25"/><circle cx="531.6" cy="69.9" r="4.25"/><circle cx="532.8" cy="72.1" r="4.25"/><circle cx="533.9" cy="71.6" r="4.25"/><circle cx="535.1" cy="73.9" r="4.25"/><circle cx="536.2" cy="73.9" r="4.25"/><circle cx="537.3" cy="74.2" r="4.25"/><circle cx="538.4" cy="76.2" r="4.25"/><circle cx="539.6" cy="75.4" r="4.25"/><circle cx="540.7" cy="76.8" r="4.25"/><circle cx="541.7" cy="76.5" r="4.25"/><circle cx="542.7" cy="74.3" r="4.25"/><circle cx="543.7" cy="74.7" r="4.25"/><circle cx="544.7" cy="72.0" r="4.25"/><circle cx="545.7" cy="70.9" r="4.25"/><circle cx="546.7" cy="67.5" r="4.25"/><circle cx="547.7" cy="66.9" r="4.25"/><circle cx="548.7" cy="64.1" r="4.25"/><circle cx="549.7" cy="61.5" r="4.25"/><circle cx="550.9" cy="62.2" r="4.25"/><circle cx="552.1" cy="60.2" r="4.25"/><circle cx="553.4" cy="60.4" r="4.25"/><circle cx="554.6" cy="60.6" r="4.25"/><circle cx="555.7" cy="59.8" r="4.25"/><circle cx="556.9" cy="61.7" r="4.25"/><circle cx="558.0" cy="60.4" r="4.25"/><circle cx="559.2" cy="62.0" r="4.25"/><circle cx="560.3" cy="61.2" r="4.25"/><circle cx="561.5" cy="63.2" r="4.25"/><circle cx="562.6" cy="63.0" r="4.25"/><circle cx="563.8" cy="63.0" r="4.25"/><circle cx="564.9" cy="64.7" r="4.25"/><circle cx="566.1" cy="64.0" r="4.25"/><circle cx="567.2" cy="65.5" r="4.25"/><circle cx="568.4" cy="67.1" r="4.25"/><circle cx="569.6" cy="66.6" r="4.25"/><circle cx="570.7" cy="68.9" r="4.25"/><circle cx="571.9" cy="68.0" r="4.25"/><circle cx="573.0" cy="70.0" r="4.25"/><circle cx="574.2" cy="69.8" r="4.25"/><circle cx="575.3" cy="72.2" r="4.25"/><circle cx="576.5" cy="72.5" r="4.25"/><circle cx="577.6" cy="73.0" r="4.25"/><circle cx="578.8" cy="75.2" r="4.25"/><circle cx="579.9" cy="74.6" r="4.25"/><circle cx="581.0" cy="74.4" r="4.25"/><circle cx="582.1" cy="74.2" r="4.25"/><circle cx="583.2" cy="72.1" r="4.25"/><circle cx="584.3" cy="72.7" r="4.25"/><circle cx="585.4" cy="70.1" r="4.25"/><circle cx="586.5" cy="70.3" r="4.25"/><circle cx="587.5" cy="67.4" r="4.25"/><circle cx="588.5" cy="67.3" r="4.25"/><circle cx="589.5" cy="65.0" r="4.25"/><circle cx="590.5" cy="61.5" r="4.25"/><circle cx="591.5" cy="59.8" r="4.25"/><circle cx="592.5" cy="55.3" r="4.25"/><circle cx="593.5" cy="53.0" r="4.25"/><circle cx="594.8" cy="52.7" r="4.25"/><circle cx="596.0" cy="50.5" r="4.25"/><circle cx="597.1" cy="51.9" r="4.25"/><circle cx="598.2" cy="50.2" r="4.25"/><circle cx="599.3" cy="51.3" r="4.25"/><circle cx="600.4" cy="50.1" r="4.25"/><circle cx="601.4" cy="51.6" r="4.25"/><circle cx="602.5" cy="51.0" r="4.25"/><circle cx="603.6" cy="50.5" r="4.25"/><circle cx="604.7" cy="51.8" r="4.25"/><circle cx="605.9" cy="50.6" r="4.25"/><circle cx="607.0" cy="51.7" r="4.25"/><circle cx="608.2" cy="52.7" r="4.25"/><circle cx="609.4" cy="51.8" r="4.25"/><circle cx="610.5" cy="53.6" r="4.25"/><circle cx="611.7" cy="52.2" r="4.25"/><circle cx="612.7" cy="53.8" r="4.25"/><circle cx="613.8" cy="53.2" r="4.25"/><circle cx="614.8" cy="55.3" r="4.25"/><circle cx="615.8" cy="55.3" r="4.25"/><circle cx="616.8" cy="55.4" r="4.25"/><circle cx="617.9" cy="57.2" r="4.25"/><circle cx="618.9" cy="56.3" r="4.25"/><circle cx="620.1" cy="57.5" r="4.25"/><circle cx="621.2" cy="58.7" r="4.25"/><circle cx="622.4" cy="57.9" r="4.25"/><circle cx="623.5" cy="59.8" r="4.25"/><circle cx="624.7" cy="58.6" r="4.25"/><circle cx="625.8" cy="60.2" r="4.25"/><circle cx="627.0" cy="59.5" r="4.25"/><circle cx="628.0" cy="61.3" r="4.25"/><circle cx="629.1" cy="61.0" r="4.25"/><circle cx="630.1" cy="60.8" r="4.25"/><circle cx="631.2" cy="62.3" r="4.25"/><circle cx="632.5" cy="63.0" r="4.25"/><circle cx="633.7" cy="65.8" r="4.25"/><circle cx="635.0" cy="68.7" r="4.25"/><circle cx="636.0" cy="68.5" r="4.25"/><circle cx="637.0" cy="70.9" r="4.25"/><circle cx="638.0" cy="70.2" r="4.25"/><circle cx="639.0" cy="72.3" r="4.25"/><circle cx="640.2" cy="70.7" r="4.25"/><circle cx="641.4" cy="71.8" r="4.25"/><circle cx="642.6" cy="70.8" r="4.25"/><circle cx="643.8" cy="70.0" r="4.25"/><circle cx="645.0" cy="70.8" r="4.25"/><circle cx="646.0" cy="70.1" r="4.25"/><circle cx="647.0" cy="71.5" r="4.25"/><circle cx="648.0" cy="73.0" r="4.25"/><circle cx="649.0" cy="72.6" r="4.25"/><circle cx="650.0" cy="74.6" r="4.25"/><circle cx="651.0" cy="73.5" r="4.25"/><circle cx="652.1" cy="75.2" r="4.25"/><circle cx="653.1" cy="74.6" r="4.25"/><circle cx="654.3" cy="79.5" r="4.25"/><circle cx="655.1" cy="86.8" r="4.25"/><circle cx="655.9" cy="92.4" r="4.25"/><circle cx="657.9" cy="105.3" r="4.25"/><circle cx="658.7" cy="103.7" r="4.25"/><circle cx="662.0" cy="97.3" r="4.25"/><circle cx="666.0" cy="95.6" r="4.25"/><circle cx="668.4" cy="94.8" r="4.25"/></g>
<text x="481.90" y="91.20" font-size="19.5" fill="#262626" stroke="#fff" stroke-width="0.18" text-anchor="end">285</text>
<text x="481.90" y="51.05" font-size="19.5" fill="#262626" stroke="#fff" stroke-width="0.18" text-anchor="end">290</text>
<text transform="translate(437.20,108.00) rotate(-90)" font-size="20.0" fill="#262626" stroke="#fff" stroke-width="0.18" textLength="68.00" lengthAdjust="spacingAndGlyphs">THETA</text>
<g fill="#b0b0b0"><rect x="148.35" y="225.18" width="1.3" height="2.0"/><rect x="153.91" y="225.18" width="1.3" height="2.0"/><rect x="159.46" y="225.18" width="1.3" height="2.0"/><rect x="165.02" y="225.18" width="1.3" height="2.0"/><rect x="170.57" y="225.18" width="1.3" height="2.0"/><rect x="176.13" y="225.18" width="1.3" height="2.0"/><rect x="181.69" y="225.18" width="1.3" height="2.0"/><rect x="187.24" y="225.18" width="1.3" height="2.0"/><rect x="192.80" y="225.18" width="1.3" height="2.0"/><rect x="198.35" y="225.18" width="1.3" height="2.0"/><rect x="203.91" y="225.18" width="1.3" height="2.0"/><rect x="209.47" y="225.18" width="1.3" height="2.0"/><rect x="215.02" y="225.18" width="1.3" height="2.0"/><rect x="220.58" y="225.18" width="1.3" height="2.0"/><rect x="226.13" y="225.18" width="1.3" height="2.0"/><rect x="231.69" y="225.18" width="1.3" height="2.0"/><rect x="237.25" y="225.18" width="1.3" height="2.0"/><rect x="242.80" y="225.18" width="1.3" height="2.0"/><rect x="248.36" y="225.18" width="1.3" height="2.0"/><rect x="253.91" y="225.18" width="1.3" height="2.0"/><rect x="259.47" y="225.18" width="1.3" height="2.0"/><rect x="265.03" y="225.18" width="1.3" height="2.0"/><rect x="270.58" y="225.18" width="1.3" height="2.0"/><rect x="276.14" y="225.18" width="1.3" height="2.0"/><rect x="281.69" y="225.18" width="1.3" height="2.0"/><rect x="287.25" y="225.18" width="1.3" height="2.0"/><rect x="292.81" y="225.18" width="1.3" height="2.0"/><rect x="298.36" y="225.18" width="1.3" height="2.0"/><rect x="303.92" y="225.18" width="1.3" height="2.0"/><rect x="309.47" y="225.18" width="1.3" height="2.0"/><rect x="315.03" y="225.18" width="1.3" height="2.0"/><rect x="320.59" y="225.18" width="1.3" height="2.0"/><rect x="326.14" y="225.18" width="1.3" height="2.0"/><rect x="331.70" y="225.18" width="1.3" height="2.0"/><rect x="337.25" y="225.18" width="1.3" height="2.0"/><rect x="342.81" y="225.18" width="1.3" height="2.0"/><rect x="348.37" y="225.18" width="1.3" height="2.0"/><rect x="353.92" y="225.18" width="1.3" height="2.0"/><rect x="148.35" y="219.96" width="1.3" height="2.0"/><rect x="153.91" y="219.96" width="1.3" height="2.0"/><rect x="159.46" y="219.96" width="1.3" height="2.0"/><rect x="165.02" y="219.96" width="1.3" height="2.0"/><rect x="170.57" y="219.96" width="1.3" height="2.0"/><rect x="176.13" y="219.96" width="1.3" height="2.0"/><rect x="181.69" y="219.96" width="1.3" height="2.0"/><rect x="187.24" y="219.96" width="1.3" height="2.0"/><rect x="192.80" y="219.96" width="1.3" height="2.0"/><rect x="198.35" y="219.96" width="1.3" height="2.0"/><rect x="203.91" y="219.96" width="1.3" height="2.0"/><rect x="209.47" y="219.96" width="1.3" height="2.0"/><rect x="215.02" y="219.96" width="1.3" height="2.0"/><rect x="220.58" y="219.96" width="1.3" height="2.0"/><rect x="226.13" y="219.96" width="1.3" height="2.0"/><rect x="231.69" y="219.96" width="1.3" height="2.0"/><rect x="237.25" y="219.96" width="1.3" height="2.0"/><rect x="242.80" y="219.96" width="1.3" height="2.0"/><rect x="248.36" y="219.96" width="1.3" height="2.0"/><rect x="253.91" y="219.96" width="1.3" height="2.0"/><rect x="259.47" y="219.96" width="1.3" height="2.0"/><rect x="265.03" y="219.96" width="1.3" height="2.0"/><rect x="270.58" y="219.96" width="1.3" height="2.0"/><rect x="276.14" y="219.96" width="1.3" height="2.0"/><rect x="281.69" y="219.96" width="1.3" height="2.0"/><rect x="287.25" y="219.96" width="1.3" height="2.0"/><rect x="292.81" y="219.96" width="1.3" height="2.0"/><rect x="298.36" y="219.96" width="1.3" height="2.0"/><rect x="303.92" y="219.96" width="1.3" height="2.0"/><rect x="309.47" y="219.96" width="1.3" height="2.0"/><rect x="315.03" y="219.96" width="1.3" height="2.0"/><rect x="320.59" y="219.96" width="1.3" height="2.0"/><rect x="326.14" y="219.96" width="1.3" height="2.0"/><rect x="331.70" y="219.96" width="1.3" height="2.0"/><rect x="337.25" y="219.96" width="1.3" height="2.0"/><rect x="342.81" y="219.96" width="1.3" height="2.0"/><rect x="348.37" y="219.96" width="1.3" height="2.0"/><rect x="353.92" y="219.96" width="1.3" height="2.0"/><rect x="148.35" y="214.74" width="1.3" height="2.0"/><rect x="153.91" y="214.74" width="1.3" height="2.0"/><rect x="159.46" y="214.74" width="1.3" height="2.0"/><rect x="165.02" y="214.74" width="1.3" height="2.0"/><rect x="170.57" y="214.74" width="1.3" height="2.0"/><rect x="176.13" y="214.74" width="1.3" height="2.0"/><rect x="181.69" y="214.74" width="1.3" height="2.0"/><rect x="187.24" y="214.74" width="1.3" height="2.0"/><rect x="192.80" y="214.74" width="1.3" height="2.0"/><rect x="198.35" y="214.74" width="1.3" height="2.0"/><rect x="203.91" y="214.74" width="1.3" height="2.0"/><rect x="209.47" y="214.74" width="1.3" height="2.0"/><rect x="215.02" y="214.74" width="1.3" height="2.0"/><rect x="220.58" y="214.74" width="1.3" height="2.0"/><rect x="226.13" y="214.74" width="1.3" height="2.0"/><rect x="231.69" y="214.74" width="1.3" height="2.0"/><rect x="237.25" y="214.74" width="1.3" height="2.0"/><rect x="242.80" y="214.74" width="1.3" height="2.0"/><rect x="248.36" y="214.74" width="1.3" height="2.0"/><rect x="253.91" y="214.74" width="1.3" height="2.0"/><rect x="259.47" y="214.74" width="1.3" height="2.0"/><rect x="265.03" y="214.74" width="1.3" height="2.0"/><rect x="270.58" y="214.74" width="1.3" height="2.0"/><rect x="276.14" y="214.74" width="1.3" height="2.0"/><rect x="281.69" y="214.74" width="1.3" height="2.0"/><rect x="287.25" y="214.74" width="1.3" height="2.0"/><rect x="292.81" y="214.74" width="1.3" height="2.0"/><rect x="298.36" y="214.74" width="1.3" height="2.0"/><rect x="303.92" y="214.74" width="1.3" height="2.0"/><rect x="309.47" y="214.74" width="1.3" height="2.0"/><rect x="315.03" y="214.74" width="1.3" height="2.0"/><rect x="320.59" y="214.74" width="1.3" height="2.0"/><rect x="326.14" y="214.74" width="1.3" height="2.0"/><rect x="331.70" y="214.74" width="1.3" height="2.0"/><rect x="337.25" y="214.74" width="1.3" height="2.0"/><rect x="342.81" y="214.74" width="1.3" height="2.0"/><rect x="348.37" y="214.74" width="1.3" height="2.0"/><rect x="353.92" y="214.74" width="1.3" height="2.0"/><rect x="148.35" y="209.52" width="1.3" height="2.0"/><rect x="153.91" y="209.52" width="1.3" height="2.0"/><rect x="159.46" y="209.52" width="1.3" height="2.0"/><rect x="165.02" y="209.52" width="1.3" height="2.0"/><rect x="170.57" y="209.52" width="1.3" height="2.0"/><rect x="176.13" y="209.52" width="1.3" height="2.0"/><rect x="181.69" y="209.52" width="1.3" height="2.0"/><rect x="187.24" y="209.52" width="1.3" height="2.0"/><rect x="192.80" y="209.52" width="1.3" height="2.0"/><rect x="198.35" y="209.52" width="1.3" height="2.0"/><rect x="203.91" y="209.52" width="1.3" height="2.0"/><rect x="209.47" y="209.52" width="1.3" height="2.0"/><rect x="215.02" y="209.52" width="1.3" height="2.0"/><rect x="220.58" y="209.52" width="1.3" height="2.0"/><rect x="226.13" y="209.52" width="1.3" height="2.0"/><rect x="231.69" y="209.52" width="1.3" height="2.0"/><rect x="237.25" y="209.52" width="1.3" height="2.0"/><rect x="242.80" y="209.52" width="1.3" height="2.0"/><rect x="248.36" y="209.52" width="1.3" height="2.0"/><rect x="253.91" y="209.52" width="1.3" height="2.0"/><rect x="259.47" y="209.52" width="1.3" height="2.0"/><rect x="265.03" y="209.52" width="1.3" height="2.0"/><rect x="270.58" y="209.52" width="1.3" height="2.0"/><rect x="276.14" y="209.52" width="1.3" height="2.0"/><rect x="281.69" y="209.52" width="1.3" height="2.0"/><rect x="287.25" y="209.52" width="1.3" height="2.0"/><rect x="292.81" y="209.52" width="1.3" height="2.0"/><rect x="298.36" y="209.52" width="1.3" height="2.0"/><rect x="303.92" y="209.52" width="1.3" height="2.0"/><rect x="309.47" y="209.52" width="1.3" height="2.0"/><rect x="315.03" y="209.52" width="1.3" height="2.0"/><rect x="320.59" y="209.52" width="1.3" height="2.0"/><rect x="326.14" y="209.52" width="1.3" height="2.0"/><rect x="331.70" y="209.52" width="1.3" height="2.0"/><rect x="337.25" y="209.52" width="1.3" height="2.0"/><rect x="342.81" y="209.52" width="1.3" height="2.0"/><rect x="348.37" y="209.52" width="1.3" height="2.0"/><rect x="353.92" y="209.52" width="1.3" height="2.0"/><rect x="148.35" y="199.08" width="1.3" height="2.0"/><rect x="153.91" y="199.08" width="1.3" height="2.0"/><rect x="159.46" y="199.08" width="1.3" height="2.0"/><rect x="165.02" y="199.08" width="1.3" height="2.0"/><rect x="170.57" y="199.08" width="1.3" height="2.0"/><rect x="176.13" y="199.08" width="1.3" height="2.0"/><rect x="181.69" y="199.08" width="1.3" height="2.0"/><rect x="187.24" y="199.08" width="1.3" height="2.0"/><rect x="192.80" y="199.08" width="1.3" height="2.0"/><rect x="198.35" y="199.08" width="1.3" height="2.0"/><rect x="203.91" y="199.08" width="1.3" height="2.0"/><rect x="209.47" y="199.08" width="1.3" height="2.0"/><rect x="215.02" y="199.08" width="1.3" height="2.0"/><rect x="220.58" y="199.08" width="1.3" height="2.0"/><rect x="226.13" y="199.08" width="1.3" height="2.0"/><rect x="231.69" y="199.08" width="1.3" height="2.0"/><rect x="237.25" y="199.08" width="1.3" height="2.0"/><rect x="242.80" y="199.08" width="1.3" height="2.0"/><rect x="248.36" y="199.08" width="1.3" height="2.0"/><rect x="253.91" y="199.08" width="1.3" height="2.0"/><rect x="259.47" y="199.08" width="1.3" height="2.0"/><rect x="265.03" y="199.08" width="1.3" height="2.0"/><rect x="270.58" y="199.08" width="1.3" height="2.0"/><rect x="276.14" y="199.08" width="1.3" height="2.0"/><rect x="281.69" y="199.08" width="1.3" height="2.0"/><rect x="287.25" y="199.08" width="1.3" height="2.0"/><rect x="292.81" y="199.08" width="1.3" height="2.0"/><rect x="298.36" y="199.08" width="1.3" height="2.0"/><rect x="303.92" y="199.08" width="1.3" height="2.0"/><rect x="309.47" y="199.08" width="1.3" height="2.0"/><rect x="315.03" y="199.08" width="1.3" height="2.0"/><rect x="320.59" y="199.08" width="1.3" height="2.0"/><rect x="326.14" y="199.08" width="1.3" height="2.0"/><rect x="331.70" y="199.08" width="1.3" height="2.0"/><rect x="337.25" y="199.08" width="1.3" height="2.0"/><rect x="342.81" y="199.08" width="1.3" height="2.0"/><rect x="348.37" y="199.08" width="1.3" height="2.0"/><rect x="353.92" y="199.08" width="1.3" height="2.0"/><rect x="148.35" y="193.86" width="1.3" height="2.0"/><rect x="153.91" y="193.86" width="1.3" height="2.0"/><rect x="159.46" y="193.86" width="1.3" height="2.0"/><rect x="165.02" y="193.86" width="1.3" height="2.0"/><rect x="170.57" y="193.86" width="1.3" height="2.0"/><rect x="176.13" y="193.86" width="1.3" height="2.0"/><rect x="181.69" y="193.86" width="1.3" height="2.0"/><rect x="187.24" y="193.86" width="1.3" height="2.0"/><rect x="192.80" y="193.86" width="1.3" height="2.0"/><rect x="198.35" y="193.86" width="1.3" height="2.0"/><rect x="203.91" y="193.86" width="1.3" height="2.0"/><rect x="209.47" y="193.86" width="1.3" height="2.0"/><rect x="215.02" y="193.86" width="1.3" height="2.0"/><rect x="220.58" y="193.86" width="1.3" height="2.0"/><rect x="226.13" y="193.86" width="1.3" height="2.0"/><rect x="231.69" y="193.86" width="1.3" height="2.0"/><rect x="237.25" y="193.86" width="1.3" height="2.0"/><rect x="242.80" y="193.86" width="1.3" height="2.0"/><rect x="248.36" y="193.86" width="1.3" height="2.0"/><rect x="253.91" y="193.86" width="1.3" height="2.0"/><rect x="259.47" y="193.86" width="1.3" height="2.0"/><rect x="265.03" y="193.86" width="1.3" height="2.0"/><rect x="270.58" y="193.86" width="1.3" height="2.0"/><rect x="276.14" y="193.86" width="1.3" height="2.0"/><rect x="281.69" y="193.86" width="1.3" height="2.0"/><rect x="287.25" y="193.86" width="1.3" height="2.0"/><rect x="292.81" y="193.86" width="1.3" height="2.0"/><rect x="298.36" y="193.86" width="1.3" height="2.0"/><rect x="303.92" y="193.86" width="1.3" height="2.0"/><rect x="309.47" y="193.86" width="1.3" height="2.0"/><rect x="315.03" y="193.86" width="1.3" height="2.0"/><rect x="320.59" y="193.86" width="1.3" height="2.0"/><rect x="326.14" y="193.86" width="1.3" height="2.0"/><rect x="331.70" y="193.86" width="1.3" height="2.0"/><rect x="337.25" y="193.86" width="1.3" height="2.0"/><rect x="342.81" y="193.86" width="1.3" height="2.0"/><rect x="348.37" y="193.86" width="1.3" height="2.0"/><rect x="353.92" y="193.86" width="1.3" height="2.0"/><rect x="148.35" y="188.64" width="1.3" height="2.0"/><rect x="153.91" y="188.64" width="1.3" height="2.0"/><rect x="159.46" y="188.64" width="1.3" height="2.0"/><rect x="165.02" y="188.64" width="1.3" height="2.0"/><rect x="170.57" y="188.64" width="1.3" height="2.0"/><rect x="176.13" y="188.64" width="1.3" height="2.0"/><rect x="181.69" y="188.64" width="1.3" height="2.0"/><rect x="187.24" y="188.64" width="1.3" height="2.0"/><rect x="192.80" y="188.64" width="1.3" height="2.0"/><rect x="198.35" y="188.64" width="1.3" height="2.0"/><rect x="203.91" y="188.64" width="1.3" height="2.0"/><rect x="209.47" y="188.64" width="1.3" height="2.0"/><rect x="215.02" y="188.64" width="1.3" height="2.0"/><rect x="220.58" y="188.64" width="1.3" height="2.0"/><rect x="226.13" y="188.64" width="1.3" height="2.0"/><rect x="231.69" y="188.64" width="1.3" height="2.0"/><rect x="237.25" y="188.64" width="1.3" height="2.0"/><rect x="242.80" y="188.64" width="1.3" height="2.0"/><rect x="248.36" y="188.64" width="1.3" height="2.0"/><rect x="253.91" y="188.64" width="1.3" height="2.0"/><rect x="259.47" y="188.64" width="1.3" height="2.0"/><rect x="265.03" y="188.64" width="1.3" height="2.0"/><rect x="270.58" y="188.64" width="1.3" height="2.0"/><rect x="276.14" y="188.64" width="1.3" height="2.0"/><rect x="281.69" y="188.64" width="1.3" height="2.0"/><rect x="287.25" y="188.64" width="1.3" height="2.0"/><rect x="292.81" y="188.64" width="1.3" height="2.0"/><rect x="298.36" y="188.64" width="1.3" height="2.0"/><rect x="303.92" y="188.64" width="1.3" height="2.0"/><rect x="309.47" y="188.64" width="1.3" height="2.0"/><rect x="315.03" y="188.64" width="1.3" height="2.0"/><rect x="320.59" y="188.64" width="1.3" height="2.0"/><rect x="326.14" y="188.64" width="1.3" height="2.0"/><rect x="331.70" y="188.64" width="1.3" height="2.0"/><rect x="337.25" y="188.64" width="1.3" height="2.0"/><rect x="342.81" y="188.64" width="1.3" height="2.0"/><rect x="348.37" y="188.64" width="1.3" height="2.0"/><rect x="353.92" y="188.64" width="1.3" height="2.0"/><rect x="148.35" y="183.42" width="1.3" height="2.0"/><rect x="153.91" y="183.42" width="1.3" height="2.0"/><rect x="159.46" y="183.42" width="1.3" height="2.0"/><rect x="165.02" y="183.42" width="1.3" height="2.0"/><rect x="170.57" y="183.42" width="1.3" height="2.0"/><rect x="176.13" y="183.42" width="1.3" height="2.0"/><rect x="181.69" y="183.42" width="1.3" height="2.0"/><rect x="187.24" y="183.42" width="1.3" height="2.0"/><rect x="192.80" y="183.42" width="1.3" height="2.0"/><rect x="198.35" y="183.42" width="1.3" height="2.0"/><rect x="203.91" y="183.42" width="1.3" height="2.0"/><rect x="209.47" y="183.42" width="1.3" height="2.0"/><rect x="215.02" y="183.42" width="1.3" height="2.0"/><rect x="220.58" y="183.42" width="1.3" height="2.0"/><rect x="226.13" y="183.42" width="1.3" height="2.0"/><rect x="231.69" y="183.42" width="1.3" height="2.0"/><rect x="237.25" y="183.42" width="1.3" height="2.0"/><rect x="242.80" y="183.42" width="1.3" height="2.0"/><rect x="248.36" y="183.42" width="1.3" height="2.0"/><rect x="253.91" y="183.42" width="1.3" height="2.0"/><rect x="259.47" y="183.42" width="1.3" height="2.0"/><rect x="265.03" y="183.42" width="1.3" height="2.0"/><rect x="270.58" y="183.42" width="1.3" height="2.0"/><rect x="276.14" y="183.42" width="1.3" height="2.0"/><rect x="281.69" y="183.42" width="1.3" height="2.0"/><rect x="287.25" y="183.42" width="1.3" height="2.0"/><rect x="292.81" y="183.42" width="1.3" height="2.0"/><rect x="298.36" y="183.42" width="1.3" height="2.0"/><rect x="303.92" y="183.42" width="1.3" height="2.0"/><rect x="309.47" y="183.42" width="1.3" height="2.0"/><rect x="315.03" y="183.42" width="1.3" height="2.0"/><rect x="320.59" y="183.42" width="1.3" height="2.0"/><rect x="326.14" y="183.42" width="1.3" height="2.0"/><rect x="331.70" y="183.42" width="1.3" height="2.0"/><rect x="337.25" y="183.42" width="1.3" height="2.0"/><rect x="342.81" y="183.42" width="1.3" height="2.0"/><rect x="348.37" y="183.42" width="1.3" height="2.0"/><rect x="353.92" y="183.42" width="1.3" height="2.0"/><rect x="148.35" y="172.98" width="1.3" height="2.0"/><rect x="153.91" y="172.98" width="1.3" height="2.0"/><rect x="159.46" y="172.98" width="1.3" height="2.0"/><rect x="165.02" y="172.98" width="1.3" height="2.0"/><rect x="170.57" y="172.98" width="1.3" height="2.0"/><rect x="176.13" y="172.98" width="1.3" height="2.0"/><rect x="181.69" y="172.98" width="1.3" height="2.0"/><rect x="187.24" y="172.98" width="1.3" height="2.0"/><rect x="192.80" y="172.98" width="1.3" height="2.0"/><rect x="198.35" y="172.98" width="1.3" height="2.0"/><rect x="203.91" y="172.98" width="1.3" height="2.0"/><rect x="209.47" y="172.98" width="1.3" height="2.0"/><rect x="215.02" y="172.98" width="1.3" height="2.0"/><rect x="220.58" y="172.98" width="1.3" height="2.0"/><rect x="226.13" y="172.98" width="1.3" height="2.0"/><rect x="231.69" y="172.98" width="1.3" height="2.0"/><rect x="237.25" y="172.98" width="1.3" height="2.0"/><rect x="242.80" y="172.98" width="1.3" height="2.0"/><rect x="248.36" y="172.98" width="1.3" height="2.0"/><rect x="253.91" y="172.98" width="1.3" height="2.0"/><rect x="259.47" y="172.98" width="1.3" height="2.0"/><rect x="265.03" y="172.98" width="1.3" height="2.0"/><rect x="270.58" y="172.98" width="1.3" height="2.0"/><rect x="276.14" y="172.98" width="1.3" height="2.0"/><rect x="281.69" y="172.98" width="1.3" height="2.0"/><rect x="287.25" y="172.98" width="1.3" height="2.0"/><rect x="292.81" y="172.98" width="1.3" height="2.0"/><rect x="298.36" y="172.98" width="1.3" height="2.0"/><rect x="303.92" y="172.98" width="1.3" height="2.0"/><rect x="309.47" y="172.98" width="1.3" height="2.0"/><rect x="315.03" y="172.98" width="1.3" height="2.0"/><rect x="320.59" y="172.98" width="1.3" height="2.0"/><rect x="326.14" y="172.98" width="1.3" height="2.0"/><rect x="331.70" y="172.98" width="1.3" height="2.0"/><rect x="337.25" y="172.98" width="1.3" height="2.0"/><rect x="342.81" y="172.98" width="1.3" height="2.0"/><rect x="348.37" y="172.98" width="1.3" height="2.0"/><rect x="353.92" y="172.98" width="1.3" height="2.0"/></g>
<path d="M147.40 205.30H355.50M147.40 179.20H355.50M188.50 172.30V231.40M230.50 172.30V231.40M272.50 172.30V231.40M313.50 172.30V231.40" stroke="#e0e0e0" stroke-width="2.0" fill="none"/>
<path d="M147.40 231.40h3.4M355.50 231.40h-3.4M147.40 205.30h3.4M355.50 205.30h-3.4M147.40 179.20h3.4M355.50 179.20h-3.4M147.40 172.30v3.4M147.40 231.40v-3.4M188.50 172.30v3.4M188.50 231.40v-3.4M230.50 172.30v3.4M230.50 231.40v-3.4M272.50 172.30v3.4M272.50 231.40v-3.4M313.50 172.30v3.4M313.50 231.40v-3.4M355.50 172.30v3.4M355.50 231.40v-3.4" stroke="#262626" stroke-width="2.0" fill="none"/>
<rect x="147.40" y="172.30" width="208.10" height="59.10" fill="none" stroke="#262626" stroke-width="2.0"/>
<g fill="none" stroke="#0072BD" stroke-width="2.0"><circle cx="157.8" cy="223.2" r="4.25"/><circle cx="159.2" cy="223.1" r="4.25"/><circle cx="160.5" cy="221.0" r="4.25"/><circle cx="161.6" cy="221.9" r="4.25"/><circle cx="162.7" cy="219.6" r="4.25"/><circle cx="163.8" cy="220.2" r="4.25"/><circle cx="164.9" cy="218.4" r="4.25"/><circle cx="166.0" cy="219.4" r="4.25"/><circle cx="167.1" cy="217.9" r="4.25"/><circle cx="168.1" cy="216.6" r="4.25"/><circle cx="169.2" cy="216.9" r="4.25"/><circle cx="170.2" cy="214.5" r="4.25"/><circle cx="171.4" cy="213.6" r="4.25"/><circle cx="172.6" cy="212.6" r="4.25"/><circle cx="173.8" cy="209.7" r="4.25"/><circle cx="175.0" cy="209.5" r="4.25"/><circle cx="176.2" cy="206.3" r="4.25"/><circle cx="177.4" cy="205.9" r="4.25"/><circle cx="178.6" cy="203.2" r="4.25"/><circle cx="179.8" cy="203.2" r="4.25"/><circle cx="180.8" cy="201.6" r="4.25"/><circle cx="181.9" cy="200.1" r="4.25"/><circle cx="182.9" cy="200.3" r="4.25"/><circle cx="184.0" cy="197.7" r="4.25"/><circle cx="185.2" cy="198.2" r="4.25"/><circle cx="186.4" cy="198.8" r="4.25"/><circle cx="187.6" cy="197.3" r="4.25"/><circle cx="188.8" cy="198.6" r="4.25"/><circle cx="190.0" cy="196.7" r="4.25"/><circle cx="191.0" cy="196.5" r="4.25"/><circle cx="192.0" cy="194.1" r="4.25"/><circle cx="193.2" cy="194.4" r="4.25"/><circle cx="194.4" cy="192.6" r="4.25"/><circle cx="195.6" cy="190.9" r="4.25"/><circle cx="196.8" cy="191.0" r="4.25"/><circle cx="198.0" cy="188.3" r="4.25"/><circle cx="199.2" cy="186.9" r="4.25"/><circle cx="200.4" cy="185.5" r="4.25"/><circle cx="201.6" cy="182.2" r="4.25"/><circle cx="202.8" cy="181.5" r="4.25"/><circle cx="204.0" cy="178.2" r="4.25"/><circle cx="205.2" cy="177.7" r="4.25"/><circle cx="206.4" cy="174.9" r="4.25"/><circle cx="207.6" cy="178.8" r="4.25"/><circle cx="208.8" cy="180.6" r="4.25"/><circle cx="210.0" cy="183.4" r="4.25"/><circle cx="211.2" cy="188.0" r="4.25"/><circle cx="212.4" cy="185.4" r="4.25"/><circle cx="213.6" cy="185.0" r="4.25"/><circle cx="214.8" cy="184.7" r="4.25"/><circle cx="216.0" cy="182.3" r="4.25"/><circle cx="217.2" cy="182.7" r="4.25"/><circle cx="218.2" cy="180.7" r="4.25"/><circle cx="219.3" cy="181.4" r="4.25"/><circle cx="220.3" cy="179.9" r="4.25"/><circle cx="221.4" cy="181.1" r="4.25"/><circle cx="222.4" cy="180.2" r="4.25"/><circle cx="223.5" cy="179.4" r="4.25"/><circle cx="224.6" cy="180.3" r="4.25"/><circle cx="225.6" cy="178.5" r="4.25"/><circle cx="226.7" cy="179.5" r="4.25"/><circle cx="227.7" cy="180.5" r="4.25"/><circle cx="228.8" cy="179.6" r="4.25"/><circle cx="229.8" cy="181.3" r="4.25"/><circle cx="230.8" cy="179.9" r="4.25"/><circle cx="231.9" cy="181.3" r="4.25"/><circle cx="232.9" cy="180.4" r="4.25"/><circle cx="234.0" cy="182.2" r="4.25"/><circle cx="235.0" cy="182.1" r="4.25"/><circle cx="236.1" cy="182.2" r="4.25"/><circle cx="237.1" cy="183.9" r="4.25"/><circle cx="238.1" cy="182.9" r="4.25"/><circle cx="239.1" cy="184.2" r="4.25"/><circle cx="240.2" cy="185.4" r="4.25"/><circle cx="241.2" cy="184.7" r="4.25"/><circle cx="242.4" cy="184.9" r="4.25"/><circle cx="243.6" cy="182.0" r="4.25"/><circle cx="244.8" cy="181.9" r="4.25"/><circle cx="246.0" cy="179.5" r="4.25"/><circle cx="247.2" cy="179.2" r="4.25"/><circle cx="248.4" cy="176.8" r="4.25"/><circle cx="249.6" cy="174.6" r="4.25"/><circle cx="250.8" cy="174.0" r="4.25"/><circle cx="251.8" cy="172.7" r="4.25"/><circle cx="252.9" cy="173.5" r="4.25"/><circle cx="253.9" cy="174.4" r="4.25"/><circle cx="254.9" cy="173.3" r="4.25"/><circle cx="255.9" cy="175.0" r="4.25"/><circle cx="257.0" cy="173.4" r="4.25"/><circle cx="258.0" cy="174.7" r="4.25"/><circle cx="259.0" cy="173.8" r="4.25"/><circle cx="260.1" cy="175.7" r="4.25"/><circle cx="261.1" cy="175.4" r="4.25"/><circle cx="262.1" cy="175.3" r="4.25"/><circle cx="263.1" cy="176.9" r="4.25"/><circle cx="264.2" cy="175.7" r="4.25"/><circle cx="265.2" cy="176.8" r="4.25"/><circle cx="266.4" cy="178.4" r="4.25"/><circle cx="267.6" cy="178.1" r="4.25"/><circle cx="268.8" cy="180.4" r="4.25"/><circle cx="270.0" cy="179.6" r="4.25"/><circle cx="271.0" cy="180.4" r="4.25"/><circle cx="272.1" cy="179.0" r="4.25"/><circle cx="273.1" cy="180.3" r="4.25"/><circle cx="274.1" cy="179.4" r="4.25"/><circle cx="275.1" cy="178.7" r="4.25"/><circle cx="276.2" cy="179.7" r="4.25"/><circle cx="277.2" cy="177.9" r="4.25"/><circle cx="278.2" cy="178.7" r="4.25"/><circle cx="279.3" cy="179.5" r="4.25"/><circle cx="280.4" cy="178.3" r="4.25"/><circle cx="281.4" cy="179.8" r="4.25"/><circle cx="282.4" cy="178.2" r="4.25"/><circle cx="283.5" cy="179.3" r="4.25"/><circle cx="284.6" cy="178.2" r="4.25"/><circle cx="285.6" cy="179.8" r="4.25"/><circle cx="286.6" cy="179.7" r="4.25"/><circle cx="287.7" cy="179.8" r="4.25"/><circle cx="288.7" cy="181.6" r="4.25"/><circle cx="289.7" cy="180.5" r="4.25"/><circle cx="290.7" cy="181.8" r="4.25"/><circle cx="291.8" cy="183.0" r="4.25"/><circle cx="292.8" cy="182.3" r="4.25"/><circle cx="293.8" cy="183.2" r="4.25"/><circle cx="294.9" cy="181.0" r="4.25"/><circle cx="295.9" cy="181.5" r="4.25"/><circle cx="296.9" cy="179.8" r="4.25"/><circle cx="297.9" cy="180.9" r="4.25"/><circle cx="299.0" cy="179.7" r="4.25"/><circle cx="300.0" cy="178.8" r="4.25"/><circle cx="301.2" cy="179.1" r="4.25"/><circle cx="302.4" cy="176.6" r="4.25"/><circle cx="303.6" cy="176.3" r="4.25"/><circle cx="304.8" cy="176.1" r="4.25"/><circle cx="306.0" cy="173.9" r="4.25"/><circle cx="307.0" cy="175.5" r="4.25"/><circle cx="308.1" cy="173.9" r="4.25"/><circle cx="309.1" cy="175.2" r="4.25"/><circle cx="310.1" cy="174.2" r="4.25"/><circle cx="311.1" cy="175.9" r="4.25"/><circle cx="312.2" cy="175.4" r="4.25"/><circle cx="313.2" cy="175.2" r="4.25"/><circle cx="318.0" cy="178.6" r="4.25"/><circle cx="318.6" cy="185.2" r="4.25"/><circle cx="320.4" cy="189.4" r="4.25"/><circle cx="322.5" cy="192.0" r="4.25"/><circle cx="324.6" cy="194.2" r="4.25"/></g>
<text x="138.80" y="238.15" font-size="19.5" fill="#262626" stroke="#fff" stroke-width="0.18" text-anchor="end">270</text>
<text x="138.80" y="212.05" font-size="19.5" fill="#262626" stroke="#fff" stroke-width="0.18" text-anchor="end">275</text>
<text x="138.80" y="185.95" font-size="19.5" fill="#262626" stroke="#fff" stroke-width="0.18" text-anchor="end">280</text>
<text transform="translate(85.30,246.00) rotate(-90)" font-size="20.0" fill="#262626" stroke="#fff" stroke-width="0.18" textLength="33.10" lengthAdjust="spacingAndGlyphs">AIR</text>
<text transform="translate(95.30,211.10) rotate(-90)" font-size="16.5" fill="#262626" stroke="#fff" stroke-width="0.18" textLength="9.50" lengthAdjust="spacingAndGlyphs">T</text>
<text transform="translate(85.30,199.50) rotate(-90)" font-size="20.0" fill="#262626" stroke="#fff" stroke-width="0.18" textLength="42.00" lengthAdjust="spacingAndGlyphs">EMP</text>
<g fill="#b0b0b0"><rect x="491.45" y="224.49" width="1.3" height="2.0"/><rect x="497.01" y="224.49" width="1.3" height="2.0"/><rect x="502.56" y="224.49" width="1.3" height="2.0"/><rect x="508.12" y="224.49" width="1.3" height="2.0"/><rect x="513.67" y="224.49" width="1.3" height="2.0"/><rect x="519.23" y="224.49" width="1.3" height="2.0"/><rect x="524.79" y="224.49" width="1.3" height="2.0"/><rect x="530.34" y="224.49" width="1.3" height="2.0"/><rect x="535.90" y="224.49" width="1.3" height="2.0"/><rect x="541.45" y="224.49" width="1.3" height="2.0"/><rect x="547.01" y="224.49" width="1.3" height="2.0"/><rect x="552.57" y="224.49" width="1.3" height="2.0"/><rect x="558.12" y="224.49" width="1.3" height="2.0"/><rect x="563.68" y="224.49" width="1.3" height="2.0"/><rect x="569.23" y="224.49" width="1.3" height="2.0"/><rect x="574.79" y="224.49" width="1.3" height="2.0"/><rect x="580.35" y="224.49" width="1.3" height="2.0"/><rect x="585.90" y="224.49" width="1.3" height="2.0"/><rect x="591.46" y="224.49" width="1.3" height="2.0"/><rect x="597.01" y="224.49" width="1.3" height="2.0"/><rect x="602.57" y="224.49" width="1.3" height="2.0"/><rect x="608.13" y="224.49" width="1.3" height="2.0"/><rect x="613.68" y="224.49" width="1.3" height="2.0"/><rect x="619.24" y="224.49" width="1.3" height="2.0"/><rect x="624.79" y="224.49" width="1.3" height="2.0"/><rect x="630.35" y="224.49" width="1.3" height="2.0"/><rect x="635.91" y="224.49" width="1.3" height="2.0"/><rect x="641.46" y="224.49" width="1.3" height="2.0"/><rect x="647.02" y="224.49" width="1.3" height="2.0"/><rect x="652.57" y="224.49" width="1.3" height="2.0"/><rect x="658.13" y="224.49" width="1.3" height="2.0"/><rect x="663.69" y="224.49" width="1.3" height="2.0"/><rect x="669.24" y="224.49" width="1.3" height="2.0"/><rect x="674.80" y="224.49" width="1.3" height="2.0"/><rect x="680.35" y="224.49" width="1.3" height="2.0"/><rect x="685.91" y="224.49" width="1.3" height="2.0"/><rect x="691.47" y="224.49" width="1.3" height="2.0"/><rect x="697.02" y="224.49" width="1.3" height="2.0"/><rect x="491.45" y="218.58" width="1.3" height="2.0"/><rect x="497.01" y="218.58" width="1.3" height="2.0"/><rect x="502.56" y="218.58" width="1.3" height="2.0"/><rect x="508.12" y="218.58" width="1.3" height="2.0"/><rect x="513.67" y="218.58" width="1.3" height="2.0"/><rect x="519.23" y="218.58" width="1.3" height="2.0"/><rect x="524.79" y="218.58" width="1.3" height="2.0"/><rect x="530.34" y="218.58" width="1.3" height="2.0"/><rect x="535.90" y="218.58" width="1.3" height="2.0"/><rect x="541.45" y="218.58" width="1.3" height="2.0"/><rect x="547.01" y="218.58" width="1.3" height="2.0"/><rect x="552.57" y="218.58" width="1.3" height="2.0"/><rect x="558.12" y="218.58" width="1.3" height="2.0"/><rect x="563.68" y="218.58" width="1.3" height="2.0"/><rect x="569.23" y="218.58" width="1.3" height="2.0"/><rect x="574.79" y="218.58" width="1.3" height="2.0"/><rect x="580.35" y="218.58" width="1.3" height="2.0"/><rect x="585.90" y="218.58" width="1.3" height="2.0"/><rect x="591.46" y="218.58" width="1.3" height="2.0"/><rect x="597.01" y="218.58" width="1.3" height="2.0"/><rect x="602.57" y="218.58" width="1.3" height="2.0"/><rect x="608.13" y="218.58" width="1.3" height="2.0"/><rect x="613.68" y="218.58" width="1.3" height="2.0"/><rect x="619.24" y="218.58" width="1.3" height="2.0"/><rect x="624.79" y="218.58" width="1.3" height="2.0"/><rect x="630.35" y="218.58" width="1.3" height="2.0"/><rect x="635.91" y="218.58" width="1.3" height="2.0"/><rect x="641.46" y="218.58" width="1.3" height="2.0"/><rect x="647.02" y="218.58" width="1.3" height="2.0"/><rect x="652.57" y="218.58" width="1.3" height="2.0"/><rect x="658.13" y="218.58" width="1.3" height="2.0"/><rect x="663.69" y="218.58" width="1.3" height="2.0"/><rect x="669.24" y="218.58" width="1.3" height="2.0"/><rect x="674.80" y="218.58" width="1.3" height="2.0"/><rect x="680.35" y="218.58" width="1.3" height="2.0"/><rect x="685.91" y="218.58" width="1.3" height="2.0"/><rect x="691.47" y="218.58" width="1.3" height="2.0"/><rect x="697.02" y="218.58" width="1.3" height="2.0"/><rect x="491.45" y="212.67" width="1.3" height="2.0"/><rect x="497.01" y="212.67" width="1.3" height="2.0"/><rect x="502.56" y="212.67" width="1.3" height="2.0"/><rect x="508.12" y="212.67" width="1.3" height="2.0"/><rect x="513.67" y="212.67" width="1.3" height="2.0"/><rect x="519.23" y="212.67" width="1.3" height="2.0"/><rect x="524.79" y="212.67" width="1.3" height="2.0"/><rect x="530.34" y="212.67" width="1.3" height="2.0"/><rect x="535.90" y="212.67" width="1.3" height="2.0"/><rect x="541.45" y="212.67" width="1.3" height="2.0"/><rect x="547.01" y="212.67" width="1.3" height="2.0"/><rect x="552.57" y="212.67" width="1.3" height="2.0"/><rect x="558.12" y="212.67" width="1.3" height="2.0"/><rect x="563.68" y="212.67" width="1.3" height="2.0"/><rect x="569.23" y="212.67" width="1.3" height="2.0"/><rect x="574.79" y="212.67" width="1.3" height="2.0"/><rect x="580.35" y="212.67" width="1.3" height="2.0"/><rect x="585.90" y="212.67" width="1.3" height="2.0"/><rect x="591.46" y="212.67" width="1.3" height="2.0"/><rect x="597.01" y="212.67" width="1.3" height="2.0"/><rect x="602.57" y="212.67" width="1.3" height="2.0"/><rect x="608.13" y="212.67" width="1.3" height="2.0"/><rect x="613.68" y="212.67" width="1.3" height="2.0"/><rect x="619.24" y="212.67" width="1.3" height="2.0"/><rect x="624.79" y="212.67" width="1.3" height="2.0"/><rect x="630.35" y="212.67" width="1.3" height="2.0"/><rect x="635.91" y="212.67" width="1.3" height="2.0"/><rect x="641.46" y="212.67" width="1.3" height="2.0"/><rect x="647.02" y="212.67" width="1.3" height="2.0"/><rect x="652.57" y="212.67" width="1.3" height="2.0"/><rect x="658.13" y="212.67" width="1.3" height="2.0"/><rect x="663.69" y="212.67" width="1.3" height="2.0"/><rect x="669.24" y="212.67" width="1.3" height="2.0"/><rect x="674.80" y="212.67" width="1.3" height="2.0"/><rect x="680.35" y="212.67" width="1.3" height="2.0"/><rect x="685.91" y="212.67" width="1.3" height="2.0"/><rect x="691.47" y="212.67" width="1.3" height="2.0"/><rect x="697.02" y="212.67" width="1.3" height="2.0"/><rect x="491.45" y="206.76" width="1.3" height="2.0"/><rect x="497.01" y="206.76" width="1.3" height="2.0"/><rect x="502.56" y="206.76" width="1.3" height="2.0"/><rect x="508.12" y="206.76" width="1.3" height="2.0"/><rect x="513.67" y="206.76" width="1.3" height="2.0"/><rect x="519.23" y="206.76" width="1.3" height="2.0"/><rect x="524.79" y="206.76" width="1.3" height="2.0"/><rect x="530.34" y="206.76" width="1.3" height="2.0"/><rect x="535.90" y="206.76" width="1.3" height="2.0"/><rect x="541.45" y="206.76" width="1.3" height="2.0"/><rect x="547.01" y="206.76" width="1.3" height="2.0"/><rect x="552.57" y="206.76" width="1.3" height="2.0"/><rect x="558.12" y="206.76" width="1.3" height="2.0"/><rect x="563.68" y="206.76" width="1.3" height="2.0"/><rect x="569.23" y="206.76" width="1.3" height="2.0"/><rect x="574.79" y="206.76" width="1.3" height="2.0"/><rect x="580.35" y="206.76" width="1.3" height="2.0"/><rect x="585.90" y="206.76" width="1.3" height="2.0"/><rect x="591.46" y="206.76" width="1.3" height="2.0"/><rect x="597.01" y="206.76" width="1.3" height="2.0"/><rect x="602.57" y="206.76" width="1.3" height="2.0"/><rect x="608.13" y="206.76" width="1.3" height="2.0"/><rect x="613.68" y="206.76" width="1.3" height="2.0"/><rect x="619.24" y="206.76" width="1.3" height="2.0"/><rect x="624.79" y="206.76" width="1.3" height="2.0"/><rect x="630.35" y="206.76" width="1.3" height="2.0"/><rect x="635.91" y="206.76" width="1.3" height="2.0"/><rect x="641.46" y="206.76" width="1.3" height="2.0"/><rect x="647.02" y="206.76" width="1.3" height="2.0"/><rect x="652.57" y="206.76" width="1.3" height="2.0"/><rect x="658.13" y="206.76" width="1.3" height="2.0"/><rect x="663.69" y="206.76" width="1.3" height="2.0"/><rect x="669.24" y="206.76" width="1.3" height="2.0"/><rect x="674.80" y="206.76" width="1.3" height="2.0"/><rect x="680.35" y="206.76" width="1.3" height="2.0"/><rect x="685.91" y="206.76" width="1.3" height="2.0"/><rect x="691.47" y="206.76" width="1.3" height="2.0"/><rect x="697.02" y="206.76" width="1.3" height="2.0"/><rect x="491.45" y="194.94" width="1.3" height="2.0"/><rect x="497.01" y="194.94" width="1.3" height="2.0"/><rect x="502.56" y="194.94" width="1.3" height="2.0"/><rect x="508.12" y="194.94" width="1.3" height="2.0"/><rect x="513.67" y="194.94" width="1.3" height="2.0"/><rect x="519.23" y="194.94" width="1.3" height="2.0"/><rect x="524.79" y="194.94" width="1.3" height="2.0"/><rect x="530.34" y="194.94" width="1.3" height="2.0"/><rect x="535.90" y="194.94" width="1.3" height="2.0"/><rect x="541.45" y="194.94" width="1.3" height="2.0"/><rect x="547.01" y="194.94" width="1.3" height="2.0"/><rect x="552.57" y="194.94" width="1.3" height="2.0"/><rect x="558.12" y="194.94" width="1.3" height="2.0"/><rect x="563.68" y="194.94" width="1.3" height="2.0"/><rect x="569.23" y="194.94" width="1.3" height="2.0"/><rect x="574.79" y="194.94" width="1.3" height="2.0"/><rect x="580.35" y="194.94" width="1.3" height="2.0"/><rect x="585.90" y="194.94" width="1.3" height="2.0"/><rect x="591.46" y="194.94" width="1.3" height="2.0"/><rect x="597.01" y="194.94" width="1.3" height="2.0"/><rect x="602.57" y="194.94" width="1.3" height="2.0"/><rect x="608.13" y="194.94" width="1.3" height="2.0"/><rect x="613.68" y="194.94" width="1.3" height="2.0"/><rect x="619.24" y="194.94" width="1.3" height="2.0"/><rect x="624.79" y="194.94" width="1.3" height="2.0"/><rect x="630.35" y="194.94" width="1.3" height="2.0"/><rect x="635.91" y="194.94" width="1.3" height="2.0"/><rect x="641.46" y="194.94" width="1.3" height="2.0"/><rect x="647.02" y="194.94" width="1.3" height="2.0"/><rect x="652.57" y="194.94" width="1.3" height="2.0"/><rect x="658.13" y="194.94" width="1.3" height="2.0"/><rect x="663.69" y="194.94" width="1.3" height="2.0"/><rect x="669.24" y="194.94" width="1.3" height="2.0"/><rect x="674.80" y="194.94" width="1.3" height="2.0"/><rect x="680.35" y="194.94" width="1.3" height="2.0"/><rect x="685.91" y="194.94" width="1.3" height="2.0"/><rect x="691.47" y="194.94" width="1.3" height="2.0"/><rect x="697.02" y="194.94" width="1.3" height="2.0"/><rect x="491.45" y="189.03" width="1.3" height="2.0"/><rect x="497.01" y="189.03" width="1.3" height="2.0"/><rect x="502.56" y="189.03" width="1.3" height="2.0"/><rect x="508.12" y="189.03" width="1.3" height="2.0"/><rect x="513.67" y="189.03" width="1.3" height="2.0"/><rect x="519.23" y="189.03" width="1.3" height="2.0"/><rect x="524.79" y="189.03" width="1.3" height="2.0"/><rect x="530.34" y="189.03" width="1.3" height="2.0"/><rect x="535.90" y="189.03" width="1.3" height="2.0"/><rect x="541.45" y="189.03" width="1.3" height="2.0"/><rect x="547.01" y="189.03" width="1.3" height="2.0"/><rect x="552.57" y="189.03" width="1.3" height="2.0"/><rect x="558.12" y="189.03" width="1.3" height="2.0"/><rect x="563.68" y="189.03" width="1.3" height="2.0"/><rect x="569.23" y="189.03" width="1.3" height="2.0"/><rect x="574.79" y="189.03" width="1.3" height="2.0"/><rect x="580.35" y="189.03" width="1.3" height="2.0"/><rect x="585.90" y="189.03" width="1.3" height="2.0"/><rect x="591.46" y="189.03" width="1.3" height="2.0"/><rect x="597.01" y="189.03" width="1.3" height="2.0"/><rect x="602.57" y="189.03" width="1.3" height="2.0"/><rect x="608.13" y="189.03" width="1.3" height="2.0"/><rect x="613.68" y="189.03" width="1.3" height="2.0"/><rect x="619.24" y="189.03" width="1.3" height="2.0"/><rect x="624.79" y="189.03" width="1.3" height="2.0"/><rect x="630.35" y="189.03" width="1.3" height="2.0"/><rect x="635.91" y="189.03" width="1.3" height="2.0"/><rect x="641.46" y="189.03" width="1.3" height="2.0"/><rect x="647.02" y="189.03" width="1.3" height="2.0"/><rect x="652.57" y="189.03" width="1.3" height="2.0"/><rect x="658.13" y="189.03" width="1.3" height="2.0"/><rect x="663.69" y="189.03" width="1.3" height="2.0"/><rect x="669.24" y="189.03" width="1.3" height="2.0"/><rect x="674.80" y="189.03" width="1.3" height="2.0"/><rect x="680.35" y="189.03" width="1.3" height="2.0"/><rect x="685.91" y="189.03" width="1.3" height="2.0"/><rect x="691.47" y="189.03" width="1.3" height="2.0"/><rect x="697.02" y="189.03" width="1.3" height="2.0"/><rect x="491.45" y="183.12" width="1.3" height="2.0"/><rect x="497.01" y="183.12" width="1.3" height="2.0"/><rect x="502.56" y="183.12" width="1.3" height="2.0"/><rect x="508.12" y="183.12" width="1.3" height="2.0"/><rect x="513.67" y="183.12" width="1.3" height="2.0"/><rect x="519.23" y="183.12" width="1.3" height="2.0"/><rect x="524.79" y="183.12" width="1.3" height="2.0"/><rect x="530.34" y="183.12" width="1.3" height="2.0"/><rect x="535.90" y="183.12" width="1.3" height="2.0"/><rect x="541.45" y="183.12" width="1.3" height="2.0"/><rect x="547.01" y="183.12" width="1.3" height="2.0"/><rect x="552.57" y="183.12" width="1.3" height="2.0"/><rect x="558.12" y="183.12" width="1.3" height="2.0"/><rect x="563.68" y="183.12" width="1.3" height="2.0"/><rect x="569.23" y="183.12" width="1.3" height="2.0"/><rect x="574.79" y="183.12" width="1.3" height="2.0"/><rect x="580.35" y="183.12" width="1.3" height="2.0"/><rect x="585.90" y="183.12" width="1.3" height="2.0"/><rect x="591.46" y="183.12" width="1.3" height="2.0"/><rect x="597.01" y="183.12" width="1.3" height="2.0"/><rect x="602.57" y="183.12" width="1.3" height="2.0"/><rect x="608.13" y="183.12" width="1.3" height="2.0"/><rect x="613.68" y="183.12" width="1.3" height="2.0"/><rect x="619.24" y="183.12" width="1.3" height="2.0"/><rect x="624.79" y="183.12" width="1.3" height="2.0"/><rect x="630.35" y="183.12" width="1.3" height="2.0"/><rect x="635.91" y="183.12" width="1.3" height="2.0"/><rect x="641.46" y="183.12" width="1.3" height="2.0"/><rect x="647.02" y="183.12" width="1.3" height="2.0"/><rect x="652.57" y="183.12" width="1.3" height="2.0"/><rect x="658.13" y="183.12" width="1.3" height="2.0"/><rect x="663.69" y="183.12" width="1.3" height="2.0"/><rect x="669.24" y="183.12" width="1.3" height="2.0"/><rect x="674.80" y="183.12" width="1.3" height="2.0"/><rect x="680.35" y="183.12" width="1.3" height="2.0"/><rect x="685.91" y="183.12" width="1.3" height="2.0"/><rect x="691.47" y="183.12" width="1.3" height="2.0"/><rect x="697.02" y="183.12" width="1.3" height="2.0"/><rect x="491.45" y="177.21" width="1.3" height="2.0"/><rect x="497.01" y="177.21" width="1.3" height="2.0"/><rect x="502.56" y="177.21" width="1.3" height="2.0"/><rect x="508.12" y="177.21" width="1.3" height="2.0"/><rect x="513.67" y="177.21" width="1.3" height="2.0"/><rect x="519.23" y="177.21" width="1.3" height="2.0"/><rect x="524.79" y="177.21" width="1.3" height="2.0"/><rect x="530.34" y="177.21" width="1.3" height="2.0"/><rect x="535.90" y="177.21" width="1.3" height="2.0"/><rect x="541.45" y="177.21" width="1.3" height="2.0"/><rect x="547.01" y="177.21" width="1.3" height="2.0"/><rect x="552.57" y="177.21" width="1.3" height="2.0"/><rect x="558.12" y="177.21" width="1.3" height="2.0"/><rect x="563.68" y="177.21" width="1.3" height="2.0"/><rect x="569.23" y="177.21" width="1.3" height="2.0"/><rect x="574.79" y="177.21" width="1.3" height="2.0"/><rect x="580.35" y="177.21" width="1.3" height="2.0"/><rect x="585.90" y="177.21" width="1.3" height="2.0"/><rect x="591.46" y="177.21" width="1.3" height="2.0"/><rect x="597.01" y="177.21" width="1.3" height="2.0"/><rect x="602.57" y="177.21" width="1.3" height="2.0"/><rect x="608.13" y="177.21" width="1.3" height="2.0"/><rect x="613.68" y="177.21" width="1.3" height="2.0"/><rect x="619.24" y="177.21" width="1.3" height="2.0"/><rect x="624.79" y="177.21" width="1.3" height="2.0"/><rect x="630.35" y="177.21" width="1.3" height="2.0"/><rect x="635.91" y="177.21" width="1.3" height="2.0"/><rect x="641.46" y="177.21" width="1.3" height="2.0"/><rect x="647.02" y="177.21" width="1.3" height="2.0"/><rect x="652.57" y="177.21" width="1.3" height="2.0"/><rect x="658.13" y="177.21" width="1.3" height="2.0"/><rect x="663.69" y="177.21" width="1.3" height="2.0"/><rect x="669.24" y="177.21" width="1.3" height="2.0"/><rect x="674.80" y="177.21" width="1.3" height="2.0"/><rect x="680.35" y="177.21" width="1.3" height="2.0"/><rect x="685.91" y="177.21" width="1.3" height="2.0"/><rect x="691.47" y="177.21" width="1.3" height="2.0"/><rect x="697.02" y="177.21" width="1.3" height="2.0"/></g>
<path d="M490.50 201.85H698.50M532.50 172.30V231.40M573.50 172.30V231.40M615.50 172.30V231.40M657.00 172.30V231.40" stroke="#e0e0e0" stroke-width="2.0" fill="none"/>
<path d="M490.50 231.40h3.4M698.50 231.40h-3.4M490.50 201.85h3.4M698.50 201.85h-3.4M490.50 172.30h3.4M698.50 172.30h-3.4M490.50 172.30v3.4M490.50 231.40v-3.4M532.50 172.30v3.4M532.50 231.40v-3.4M573.50 172.30v3.4M573.50 231.40v-3.4M615.50 172.30v3.4M615.50 231.40v-3.4M657.00 172.30v3.4M657.00 231.40v-3.4M698.50 172.30v3.4M698.50 231.40v-3.4" stroke="#262626" stroke-width="2.0" fill="none"/>
<rect x="490.50" y="172.30" width="208.00" height="59.10" fill="none" stroke="#262626" stroke-width="2.0"/>
<g fill="none" stroke="#0072BD" stroke-width="2.0"><circle cx="500.9" cy="201.8" r="4.25"/><circle cx="501.8" cy="201.8" r="4.25"/><circle cx="502.6" cy="201.8" r="4.25"/><circle cx="503.6" cy="201.8" r="4.25"/><circle cx="504.5" cy="201.8" r="4.25"/><circle cx="505.4" cy="201.8" r="4.25"/><circle cx="506.3" cy="201.8" r="4.25"/><circle cx="507.2" cy="201.8" r="4.25"/><circle cx="508.1" cy="201.8" r="4.25"/><circle cx="509.0" cy="201.8" r="4.25"/><circle cx="509.9" cy="201.8" r="4.25"/><circle cx="510.8" cy="201.8" r="4.25"/><circle cx="511.7" cy="201.8" r="4.25"/><circle cx="512.6" cy="201.8" r="4.25"/><circle cx="513.5" cy="201.8" r="4.25"/><circle cx="514.4" cy="201.8" r="4.25"/><circle cx="515.3" cy="201.8" r="4.25"/><circle cx="516.2" cy="201.8" r="4.25"/><circle cx="517.1" cy="201.8" r="4.25"/><circle cx="518.0" cy="201.8" r="4.25"/><circle cx="518.9" cy="201.8" r="4.25"/><circle cx="519.8" cy="201.8" r="4.25"/><circle cx="520.7" cy="201.8" r="4.25"/><circle cx="521.6" cy="201.8" r="4.25"/><circle cx="522.5" cy="201.8" r="4.25"/><circle cx="523.4" cy="201.8" r="4.25"/><circle cx="524.3" cy="201.8" r="4.25"/><circle cx="525.2" cy="201.8" r="4.25"/><circle cx="526.1" cy="201.8" r="4.25"/><circle cx="527.0" cy="201.8" r="4.25"/><circle cx="527.9" cy="201.8" r="4.25"/><circle cx="528.8" cy="201.8" r="4.25"/><circle cx="529.7" cy="201.8" r="4.25"/><circle cx="530.6" cy="201.8" r="4.25"/><circle cx="531.5" cy="201.8" r="4.25"/><circle cx="532.4" cy="201.8" r="4.25"/><circle cx="533.3" cy="201.8" r="4.25"/><circle cx="534.2" cy="201.8" r="4.25"/><circle cx="535.1" cy="201.8" r="4.25"/><circle cx="536.0" cy="201.8" r="4.25"/><circle cx="536.9" cy="201.8" r="4.25"/><circle cx="537.8" cy="201.8" r="4.25"/><circle cx="538.7" cy="201.8" r="4.25"/><circle cx="539.6" cy="201.8" r="4.25"/><circle cx="540.5" cy="201.8" r="4.25"/><circle cx="541.5" cy="201.8" r="4.25"/><circle cx="542.4" cy="201.8" r="4.25"/><circle cx="543.2" cy="201.8" r="4.25"/><circle cx="544.1" cy="201.8" r="4.25"/><circle cx="545.1" cy="201.8" r="4.25"/><circle cx="546.0" cy="201.8" r="4.25"/><circle cx="546.9" cy="201.8" r="4.25"/><circle cx="547.8" cy="201.8" r="4.25"/><circle cx="548.7" cy="201.8" r="4.25"/><circle cx="549.6" cy="201.8" r="4.25"/><circle cx="550.5" cy="201.8" r="4.25"/><circle cx="551.4" cy="201.8" r="4.25"/><circle cx="552.3" cy="201.8" r="4.25"/><circle cx="553.2" cy="201.8" r="4.25"/><circle cx="554.1" cy="201.8" r="4.25"/><circle cx="555.0" cy="201.8" r="4.25"/><circle cx="555.9" cy="201.8" r="4.25"/><circle cx="556.8" cy="201.8" r="4.25"/><circle cx="557.7" cy="201.8" r="4.25"/><circle cx="558.6" cy="201.8" r="4.25"/><circle cx="559.5" cy="201.8" r="4.25"/><circle cx="560.4" cy="201.8" r="4.25"/><circle cx="561.3" cy="201.8" r="4.25"/><circle cx="562.2" cy="201.8" r="4.25"/><circle cx="563.1" cy="201.8" r="4.25"/><circle cx="564.0" cy="201.8" r="4.25"/><circle cx="564.9" cy="201.8" r="4.25"/><circle cx="565.8" cy="201.8" r="4.25"/><circle cx="566.7" cy="201.8" r="4.25"/><circle cx="567.6" cy="201.8" r="4.25"/><circle cx="568.5" cy="201.8" r="4.25"/><circle cx="569.4" cy="201.8" r="4.25"/><circle cx="570.3" cy="201.8" r="4.25"/><circle cx="571.2" cy="201.8" r="4.25"/><circle cx="572.1" cy="201.8" r="4.25"/><circle cx="573.0" cy="201.8" r="4.25"/><circle cx="573.9" cy="201.8" r="4.25"/><circle cx="574.8" cy="201.8" r="4.25"/><circle cx="575.7" cy="201.8" r="4.25"/><circle cx="576.6" cy="201.8" r="4.25"/><circle cx="577.5" cy="201.8" r="4.25"/><circle cx="578.4" cy="201.8" r="4.25"/><circle cx="579.3" cy="201.8" r="4.25"/><circle cx="580.2" cy="201.8" r="4.25"/><circle cx="581.1" cy="201.8" r="4.25"/><circle cx="582.0" cy="201.8" r="4.25"/><circle cx="583.0" cy="201.8" r="4.25"/><circle cx="583.9" cy="201.8" r="4.25"/><circle cx="584.8" cy="201.8" r="4.25"/><circle cx="585.6" cy="201.8" r="4.25"/><circle cx="586.6" cy="201.8" r="4.25"/><circle cx="587.5" cy="201.8" r="4.25"/><circle cx="588.4" cy="201.8" r="4.25"/><circle cx="589.3" cy="201.8" r="4.25"/><circle cx="590.2" cy="201.8" r="4.25"/><circle cx="591.1" cy="201.8" r="4.25"/><circle cx="592.0" cy="201.8" r="4.25"/><circle cx="592.9" cy="201.8" r="4.25"/><circle cx="593.8" cy="201.8" r="4.25"/><circle cx="594.7" cy="201.8" r="4.25"/><circle cx="595.6" cy="201.8" r="4.25"/><circle cx="596.5" cy="201.8" r="4.25"/><circle cx="597.4" cy="201.8" r="4.25"/><circle cx="598.3" cy="201.8" r="4.25"/><circle cx="599.2" cy="201.8" r="4.25"/><circle cx="600.1" cy="201.8" r="4.25"/><circle cx="601.0" cy="201.8" r="4.25"/><circle cx="601.9" cy="201.8" r="4.25"/><circle cx="602.8" cy="201.8" r="4.25"/><circle cx="603.7" cy="201.8" r="4.25"/><circle cx="604.6" cy="201.8" r="4.25"/><circle cx="605.5" cy="201.8" r="4.25"/><circle cx="606.4" cy="201.8" r="4.25"/><circle cx="607.3" cy="201.8" r="4.25"/><circle cx="608.2" cy="201.8" r="4.25"/><circle cx="609.1" cy="201.8" r="4.25"/><circle cx="610.0" cy="201.8" r="4.25"/><circle cx="610.9" cy="201.8" r="4.25"/><circle cx="611.8" cy="201.8" r="4.25"/><circle cx="612.7" cy="201.8" r="4.25"/><circle cx="613.6" cy="201.8" r="4.25"/><circle cx="614.5" cy="201.8" r="4.25"/><circle cx="615.4" cy="201.8" r="4.25"/><circle cx="616.3" cy="201.8" r="4.25"/><circle cx="617.2" cy="201.8" r="4.25"/><circle cx="618.1" cy="201.8" r="4.25"/><circle cx="619.0" cy="201.8" r="4.25"/><circle cx="619.9" cy="201.8" r="4.25"/><circle cx="620.8" cy="201.8" r="4.25"/><circle cx="621.7" cy="201.8" r="4.25"/><circle cx="622.6" cy="201.8" r="4.25"/><circle cx="623.5" cy="201.8" r="4.25"/><circle cx="624.5" cy="201.8" r="4.25"/><circle cx="625.4" cy="201.8" r="4.25"/><circle cx="626.2" cy="201.8" r="4.25"/><circle cx="627.1" cy="201.8" r="4.25"/><circle cx="628.0" cy="201.8" r="4.25"/><circle cx="629.0" cy="201.8" r="4.25"/><circle cx="629.9" cy="201.8" r="4.25"/><circle cx="630.8" cy="201.8" r="4.25"/><circle cx="631.7" cy="201.8" r="4.25"/><circle cx="632.6" cy="201.8" r="4.25"/><circle cx="633.5" cy="201.8" r="4.25"/><circle cx="634.4" cy="201.8" r="4.25"/><circle cx="635.3" cy="201.8" r="4.25"/><circle cx="636.2" cy="201.8" r="4.25"/><circle cx="637.1" cy="201.8" r="4.25"/><circle cx="638.0" cy="201.8" r="4.25"/><circle cx="638.9" cy="201.8" r="4.25"/><circle cx="639.8" cy="201.8" r="4.25"/><circle cx="640.7" cy="201.8" r="4.25"/><circle cx="641.6" cy="201.8" r="4.25"/><circle cx="642.5" cy="201.8" r="4.25"/><circle cx="643.4" cy="201.8" r="4.25"/><circle cx="644.3" cy="201.8" r="4.25"/><circle cx="645.2" cy="201.8" r="4.25"/><circle cx="646.1" cy="201.8" r="4.25"/><circle cx="647.0" cy="201.8" r="4.25"/><circle cx="647.9" cy="201.8" r="4.25"/><circle cx="648.8" cy="201.8" r="4.25"/><circle cx="649.7" cy="201.8" r="4.25"/><circle cx="650.6" cy="201.8" r="4.25"/><circle cx="651.5" cy="201.8" r="4.25"/><circle cx="652.4" cy="201.8" r="4.25"/><circle cx="653.3" cy="201.8" r="4.25"/><circle cx="654.2" cy="201.8" r="4.25"/><circle cx="655.1" cy="201.8" r="4.25"/><circle cx="656.0" cy="201.8" r="4.25"/><circle cx="656.9" cy="201.8" r="4.25"/><circle cx="657.8" cy="201.8" r="4.25"/><circle cx="658.7" cy="201.8" r="4.25"/><circle cx="659.6" cy="201.8" r="4.25"/><circle cx="660.5" cy="201.8" r="4.25"/><circle cx="661.4" cy="201.8" r="4.25"/><circle cx="662.3" cy="201.8" r="4.25"/><circle cx="663.2" cy="201.8" r="4.25"/><circle cx="664.1" cy="201.8" r="4.25"/><circle cx="665.0" cy="201.8" r="4.25"/><circle cx="666.0" cy="201.8" r="4.25"/><circle cx="666.9" cy="201.8" r="4.25"/><circle cx="667.8" cy="201.8" r="4.25"/></g>
<text x="481.90" y="238.15" font-size="19.5" fill="#262626" stroke="#fff" stroke-width="0.18" text-anchor="end">-1</text>
<text x="481.90" y="208.60" font-size="19.5" fill="#262626" stroke="#fff" stroke-width="0.18" text-anchor="end">0</text>
<text x="481.90" y="179.05" font-size="19.5" fill="#262626" stroke="#fff" stroke-width="0.18" text-anchor="end">1</text>
<text transform="translate(455.20,249.50) rotate(-90)" font-size="20.0" fill="#262626" stroke="#fff" stroke-width="0.18" textLength="95.70" lengthAdjust="spacingAndGlyphs">RAINFALL</text>
<g fill="#b0b0b0"><rect x="148.35" y="352.40" width="1.3" height="2.0"/><rect x="153.91" y="352.40" width="1.3" height="2.0"/><rect x="159.46" y="352.40" width="1.3" height="2.0"/><rect x="165.02" y="352.40" width="1.3" height="2.0"/><rect x="170.57" y="352.40" width="1.3" height="2.0"/><rect x="176.13" y="352.40" width="1.3" height="2.0"/><rect x="181.69" y="352.40" width="1.3" height="2.0"/><rect x="187.24" y="352.40" width="1.3" height="2.0"/><rect x="192.80" y="352.40" width="1.3" height="2.0"/><rect x="198.35" y="352.40" width="1.3" height="2.0"/><rect x="203.91" y="352.40" width="1.3" height="2.0"/><rect x="209.47" y="352.40" width="1.3" height="2.0"/><rect x="215.02" y="352.40" width="1.3" height="2.0"/><rect x="220.58" y="352.40" width="1.3" height="2.0"/><rect x="226.13" y="352.40" width="1.3" height="2.0"/><rect x="231.69" y="352.40" width="1.3" height="2.0"/><rect x="237.25" y="352.40" width="1.3" height="2.0"/><rect x="242.80" y="352.40" width="1.3" height="2.0"/><rect x="248.36" y="352.40" width="1.3" height="2.0"/><rect x="253.91" y="352.40" width="1.3" height="2.0"/><rect x="259.47" y="352.40" width="1.3" height="2.0"/><rect x="265.03" y="352.40" width="1.3" height="2.0"/><rect x="270.58" y="352.40" width="1.3" height="2.0"/><rect x="276.14" y="352.40" width="1.3" height="2.0"/><rect x="281.69" y="352.40" width="1.3" height="2.0"/><rect x="287.25" y="352.40" width="1.3" height="2.0"/><rect x="292.81" y="352.40" width="1.3" height="2.0"/><rect x="298.36" y="352.40" width="1.3" height="2.0"/><rect x="303.92" y="352.40" width="1.3" height="2.0"/><rect x="309.47" y="352.40" width="1.3" height="2.0"/><rect x="315.03" y="352.40" width="1.3" height="2.0"/><rect x="320.59" y="352.40" width="1.3" height="2.0"/><rect x="326.14" y="352.40" width="1.3" height="2.0"/><rect x="331.70" y="352.40" width="1.3" height="2.0"/><rect x="337.25" y="352.40" width="1.3" height="2.0"/><rect x="342.81" y="352.40" width="1.3" height="2.0"/><rect x="348.37" y="352.40" width="1.3" height="2.0"/><rect x="353.92" y="352.40" width="1.3" height="2.0"/><rect x="148.35" y="346.40" width="1.3" height="2.0"/><rect x="153.91" y="346.40" width="1.3" height="2.0"/><rect x="159.46" y="346.40" width="1.3" height="2.0"/><rect x="165.02" y="346.40" width="1.3" height="2.0"/><rect x="170.57" y="346.40" width="1.3" height="2.0"/><rect x="176.13" y="346.40" width="1.3" height="2.0"/><rect x="181.69" y="346.40" width="1.3" height="2.0"/><rect x="187.24" y="346.40" width="1.3" height="2.0"/><rect x="192.80" y="346.40" width="1.3" height="2.0"/><rect x="198.35" y="346.40" width="1.3" height="2.0"/><rect x="203.91" y="346.40" width="1.3" height="2.0"/><rect x="209.47" y="346.40" width="1.3" height="2.0"/><rect x="215.02" y="346.40" width="1.3" height="2.0"/><rect x="220.58" y="346.40" width="1.3" height="2.0"/><rect x="226.13" y="346.40" width="1.3" height="2.0"/><rect x="231.69" y="346.40" width="1.3" height="2.0"/><rect x="237.25" y="346.40" width="1.3" height="2.0"/><rect x="242.80" y="346.40" width="1.3" height="2.0"/><rect x="248.36" y="346.40" width="1.3" height="2.0"/><rect x="253.91" y="346.40" width="1.3" height="2.0"/><rect x="259.47" y="346.40" width="1.3" height="2.0"/><rect x="265.03" y="346.40" width="1.3" height="2.0"/><rect x="270.58" y="346.40" width="1.3" height="2.0"/><rect x="276.14" y="346.40" width="1.3" height="2.0"/><rect x="281.69" y="346.40" width="1.3" height="2.0"/><rect x="287.25" y="346.40" width="1.3" height="2.0"/><rect x="292.81" y="346.40" width="1.3" height="2.0"/><rect x="298.36" y="346.40" width="1.3" height="2.0"/><rect x="303.92" y="346.40" width="1.3" height="2.0"/><rect x="309.47" y="346.40" width="1.3" height="2.0"/><rect x="315.03" y="346.40" width="1.3" height="2.0"/><rect x="320.59" y="346.40" width="1.3" height="2.0"/><rect x="326.14" y="346.40" width="1.3" height="2.0"/><rect x="331.70" y="346.40" width="1.3" height="2.0"/><rect x="337.25" y="346.40" width="1.3" height="2.0"/><rect x="342.81" y="346.40" width="1.3" height="2.0"/><rect x="348.37" y="346.40" width="1.3" height="2.0"/><rect x="353.92" y="346.40" width="1.3" height="2.0"/><rect x="148.35" y="340.40" width="1.3" height="2.0"/><rect x="153.91" y="340.40" width="1.3" height="2.0"/><rect x="159.46" y="340.40" width="1.3" height="2.0"/><rect x="165.02" y="340.40" width="1.3" height="2.0"/><rect x="170.57" y="340.40" width="1.3" height="2.0"/><rect x="176.13" y="340.40" width="1.3" height="2.0"/><rect x="181.69" y="340.40" width="1.3" height="2.0"/><rect x="187.24" y="340.40" width="1.3" height="2.0"/><rect x="192.80" y="340.40" width="1.3" height="2.0"/><rect x="198.35" y="340.40" width="1.3" height="2.0"/><rect x="203.91" y="340.40" width="1.3" height="2.0"/><rect x="209.47" y="340.40" width="1.3" height="2.0"/><rect x="215.02" y="340.40" width="1.3" height="2.0"/><rect x="220.58" y="340.40" width="1.3" height="2.0"/><rect x="226.13" y="340.40" width="1.3" height="2.0"/><rect x="231.69" y="340.40" width="1.3" height="2.0"/><rect x="237.25" y="340.40" width="1.3" height="2.0"/><rect x="242.80" y="340.40" width="1.3" height="2.0"/><rect x="248.36" y="340.40" width="1.3" height="2.0"/><rect x="253.91" y="340.40" width="1.3" height="2.0"/><rect x="259.47" y="340.40" width="1.3" height="2.0"/><rect x="265.03" y="340.40" width="1.3" height="2.0"/><rect x="270.58" y="340.40" width="1.3" height="2.0"/><rect x="276.14" y="340.40" width="1.3" height="2.0"/><rect x="281.69" y="340.40" width="1.3" height="2.0"/><rect x="287.25" y="340.40" width="1.3" height="2.0"/><rect x="292.81" y="340.40" width="1.3" height="2.0"/><rect x="298.36" y="340.40" width="1.3" height="2.0"/><rect x="303.92" y="340.40" width="1.3" height="2.0"/><rect x="309.47" y="340.40" width="1.3" height="2.0"/><rect x="315.03" y="340.40" width="1.3" height="2.0"/><rect x="320.59" y="340.40" width="1.3" height="2.0"/><rect x="326.14" y="340.40" width="1.3" height="2.0"/><rect x="331.70" y="340.40" width="1.3" height="2.0"/><rect x="337.25" y="340.40" width="1.3" height="2.0"/><rect x="342.81" y="340.40" width="1.3" height="2.0"/><rect x="348.37" y="340.40" width="1.3" height="2.0"/><rect x="353.92" y="340.40" width="1.3" height="2.0"/><rect x="148.35" y="334.40" width="1.3" height="2.0"/><rect x="153.91" y="334.40" width="1.3" height="2.0"/><rect x="159.46" y="334.40" width="1.3" height="2.0"/><rect x="165.02" y="334.40" width="1.3" height="2.0"/><rect x="170.57" y="334.40" width="1.3" height="2.0"/><rect x="176.13" y="334.40" width="1.3" height="2.0"/><rect x="181.69" y="334.40" width="1.3" height="2.0"/><rect x="187.24" y="334.40" width="1.3" height="2.0"/><rect x="192.80" y="334.40" width="1.3" height="2.0"/><rect x="198.35" y="334.40" width="1.3" height="2.0"/><rect x="203.91" y="334.40" width="1.3" height="2.0"/><rect x="209.47" y="334.40" width="1.3" height="2.0"/><rect x="215.02" y="334.40" width="1.3" height="2.0"/><rect x="220.58" y="334.40" width="1.3" height="2.0"/><rect x="226.13" y="334.40" width="1.3" height="2.0"/><rect x="231.69" y="334.40" width="1.3" height="2.0"/><rect x="237.25" y="334.40" width="1.3" height="2.0"/><rect x="242.80" y="334.40" width="1.3" height="2.0"/><rect x="248.36" y="334.40" width="1.3" height="2.0"/><rect x="253.91" y="334.40" width="1.3" height="2.0"/><rect x="259.47" y="334.40" width="1.3" height="2.0"/><rect x="265.03" y="334.40" width="1.3" height="2.0"/><rect x="270.58" y="334.40" width="1.3" height="2.0"/><rect x="276.14" y="334.40" width="1.3" height="2.0"/><rect x="281.69" y="334.40" width="1.3" height="2.0"/><rect x="287.25" y="334.40" width="1.3" height="2.0"/><rect x="292.81" y="334.40" width="1.3" height="2.0"/><rect x="298.36" y="334.40" width="1.3" height="2.0"/><rect x="303.92" y="334.40" width="1.3" height="2.0"/><rect x="309.47" y="334.40" width="1.3" height="2.0"/><rect x="315.03" y="334.40" width="1.3" height="2.0"/><rect x="320.59" y="334.40" width="1.3" height="2.0"/><rect x="326.14" y="334.40" width="1.3" height="2.0"/><rect x="331.70" y="334.40" width="1.3" height="2.0"/><rect x="337.25" y="334.40" width="1.3" height="2.0"/><rect x="342.81" y="334.40" width="1.3" height="2.0"/><rect x="348.37" y="334.40" width="1.3" height="2.0"/><rect x="353.92" y="334.40" width="1.3" height="2.0"/><rect x="148.35" y="322.40" width="1.3" height="2.0"/><rect x="153.91" y="322.40" width="1.3" height="2.0"/><rect x="159.46" y="322.40" width="1.3" height="2.0"/><rect x="165.02" y="322.40" width="1.3" height="2.0"/><rect x="170.57" y="322.40" width="1.3" height="2.0"/><rect x="176.13" y="322.40" width="1.3" height="2.0"/><rect x="181.69" y="322.40" width="1.3" height="2.0"/><rect x="187.24" y="322.40" width="1.3" height="2.0"/><rect x="192.80" y="322.40" width="1.3" height="2.0"/><rect x="198.35" y="322.40" width="1.3" height="2.0"/><rect x="203.91" y="322.40" width="1.3" height="2.0"/><rect x="209.47" y="322.40" width="1.3" height="2.0"/><rect x="215.02" y="322.40" width="1.3" height="2.0"/><rect x="220.58" y="322.40" width="1.3" height="2.0"/><rect x="226.13" y="322.40" width="1.3" height="2.0"/><rect x="231.69" y="322.40" width="1.3" height="2.0"/><rect x="237.25" y="322.40" width="1.3" height="2.0"/><rect x="242.80" y="322.40" width="1.3" height="2.0"/><rect x="248.36" y="322.40" width="1.3" height="2.0"/><rect x="253.91" y="322.40" width="1.3" height="2.0"/><rect x="259.47" y="322.40" width="1.3" height="2.0"/><rect x="265.03" y="322.40" width="1.3" height="2.0"/><rect x="270.58" y="322.40" width="1.3" height="2.0"/><rect x="276.14" y="322.40" width="1.3" height="2.0"/><rect x="281.69" y="322.40" width="1.3" height="2.0"/><rect x="287.25" y="322.40" width="1.3" height="2.0"/><rect x="292.81" y="322.40" width="1.3" height="2.0"/><rect x="298.36" y="322.40" width="1.3" height="2.0"/><rect x="303.92" y="322.40" width="1.3" height="2.0"/><rect x="309.47" y="322.40" width="1.3" height="2.0"/><rect x="315.03" y="322.40" width="1.3" height="2.0"/><rect x="320.59" y="322.40" width="1.3" height="2.0"/><rect x="326.14" y="322.40" width="1.3" height="2.0"/><rect x="331.70" y="322.40" width="1.3" height="2.0"/><rect x="337.25" y="322.40" width="1.3" height="2.0"/><rect x="342.81" y="322.40" width="1.3" height="2.0"/><rect x="348.37" y="322.40" width="1.3" height="2.0"/><rect x="353.92" y="322.40" width="1.3" height="2.0"/><rect x="148.35" y="316.40" width="1.3" height="2.0"/><rect x="153.91" y="316.40" width="1.3" height="2.0"/><rect x="159.46" y="316.40" width="1.3" height="2.0"/><rect x="165.02" y="316.40" width="1.3" height="2.0"/><rect x="170.57" y="316.40" width="1.3" height="2.0"/><rect x="176.13" y="316.40" width="1.3" height="2.0"/><rect x="181.69" y="316.40" width="1.3" height="2.0"/><rect x="187.24" y="316.40" width="1.3" height="2.0"/><rect x="192.80" y="316.40" width="1.3" height="2.0"/><rect x="198.35" y="316.40" width="1.3" height="2.0"/><rect x="203.91" y="316.40" width="1.3" height="2.0"/><rect x="209.47" y="316.40" width="1.3" height="2.0"/><rect x="215.02" y="316.40" width="1.3" height="2.0"/><rect x="220.58" y="316.40" width="1.3" height="2.0"/><rect x="226.13" y="316.40" width="1.3" height="2.0"/><rect x="231.69" y="316.40" width="1.3" height="2.0"/><rect x="237.25" y="316.40" width="1.3" height="2.0"/><rect x="242.80" y="316.40" width="1.3" height="2.0"/><rect x="248.36" y="316.40" width="1.3" height="2.0"/><rect x="253.91" y="316.40" width="1.3" height="2.0"/><rect x="259.47" y="316.40" width="1.3" height="2.0"/><rect x="265.03" y="316.40" width="1.3" height="2.0"/><rect x="270.58" y="316.40" width="1.3" height="2.0"/><rect x="276.14" y="316.40" width="1.3" height="2.0"/><rect x="281.69" y="316.40" width="1.3" height="2.0"/><rect x="287.25" y="316.40" width="1.3" height="2.0"/><rect x="292.81" y="316.40" width="1.3" height="2.0"/><rect x="298.36" y="316.40" width="1.3" height="2.0"/><rect x="303.92" y="316.40" width="1.3" height="2.0"/><rect x="309.47" y="316.40" width="1.3" height="2.0"/><rect x="315.03" y="316.40" width="1.3" height="2.0"/><rect x="320.59" y="316.40" width="1.3" height="2.0"/><rect x="326.14" y="316.40" width="1.3" height="2.0"/><rect x="331.70" y="316.40" width="1.3" height="2.0"/><rect x="337.25" y="316.40" width="1.3" height="2.0"/><rect x="342.81" y="316.40" width="1.3" height="2.0"/><rect x="348.37" y="316.40" width="1.3" height="2.0"/><rect x="353.92" y="316.40" width="1.3" height="2.0"/><rect x="148.35" y="310.40" width="1.3" height="2.0"/><rect x="153.91" y="310.40" width="1.3" height="2.0"/><rect x="159.46" y="310.40" width="1.3" height="2.0"/><rect x="165.02" y="310.40" width="1.3" height="2.0"/><rect x="170.57" y="310.40" width="1.3" height="2.0"/><rect x="176.13" y="310.40" width="1.3" height="2.0"/><rect x="181.69" y="310.40" width="1.3" height="2.0"/><rect x="187.24" y="310.40" width="1.3" height="2.0"/><rect x="192.80" y="310.40" width="1.3" height="2.0"/><rect x="198.35" y="310.40" width="1.3" height="2.0"/><rect x="203.91" y="310.40" width="1.3" height="2.0"/><rect x="209.47" y="310.40" width="1.3" height="2.0"/><rect x="215.02" y="310.40" width="1.3" height="2.0"/><rect x="220.58" y="310.40" width="1.3" height="2.0"/><rect x="226.13" y="310.40" width="1.3" height="2.0"/><rect x="231.69" y="310.40" width="1.3" height="2.0"/><rect x="237.25" y="310.40" width="1.3" height="2.0"/><rect x="242.80" y="310.40" width="1.3" height="2.0"/><rect x="248.36" y="310.40" width="1.3" height="2.0"/><rect x="253.91" y="310.40" width="1.3" height="2.0"/><rect x="259.47" y="310.40" width="1.3" height="2.0"/><rect x="265.03" y="310.40" width="1.3" height="2.0"/><rect x="270.58" y="310.40" width="1.3" height="2.0"/><rect x="276.14" y="310.40" width="1.3" height="2.0"/><rect x="281.69" y="310.40" width="1.3" height="2.0"/><rect x="287.25" y="310.40" width="1.3" height="2.0"/><rect x="292.81" y="310.40" width="1.3" height="2.0"/><rect x="298.36" y="310.40" width="1.3" height="2.0"/><rect x="303.92" y="310.40" width="1.3" height="2.0"/><rect x="309.47" y="310.40" width="1.3" height="2.0"/><rect x="315.03" y="310.40" width="1.3" height="2.0"/><rect x="320.59" y="310.40" width="1.3" height="2.0"/><rect x="326.14" y="310.40" width="1.3" height="2.0"/><rect x="331.70" y="310.40" width="1.3" height="2.0"/><rect x="337.25" y="310.40" width="1.3" height="2.0"/><rect x="342.81" y="310.40" width="1.3" height="2.0"/><rect x="348.37" y="310.40" width="1.3" height="2.0"/><rect x="353.92" y="310.40" width="1.3" height="2.0"/><rect x="148.35" y="304.40" width="1.3" height="2.0"/><rect x="153.91" y="304.40" width="1.3" height="2.0"/><rect x="159.46" y="304.40" width="1.3" height="2.0"/><rect x="165.02" y="304.40" width="1.3" height="2.0"/><rect x="170.57" y="304.40" width="1.3" height="2.0"/><rect x="176.13" y="304.40" width="1.3" height="2.0"/><rect x="181.69" y="304.40" width="1.3" height="2.0"/><rect x="187.24" y="304.40" width="1.3" height="2.0"/><rect x="192.80" y="304.40" width="1.3" height="2.0"/><rect x="198.35" y="304.40" width="1.3" height="2.0"/><rect x="203.91" y="304.40" width="1.3" height="2.0"/><rect x="209.47" y="304.40" width="1.3" height="2.0"/><rect x="215.02" y="304.40" width="1.3" height="2.0"/><rect x="220.58" y="304.40" width="1.3" height="2.0"/><rect x="226.13" y="304.40" width="1.3" height="2.0"/><rect x="231.69" y="304.40" width="1.3" height="2.0"/><rect x="237.25" y="304.40" width="1.3" height="2.0"/><rect x="242.80" y="304.40" width="1.3" height="2.0"/><rect x="248.36" y="304.40" width="1.3" height="2.0"/><rect x="253.91" y="304.40" width="1.3" height="2.0"/><rect x="259.47" y="304.40" width="1.3" height="2.0"/><rect x="265.03" y="304.40" width="1.3" height="2.0"/><rect x="270.58" y="304.40" width="1.3" height="2.0"/><rect x="276.14" y="304.40" width="1.3" height="2.0"/><rect x="281.69" y="304.40" width="1.3" height="2.0"/><rect x="287.25" y="304.40" width="1.3" height="2.0"/><rect x="292.81" y="304.40" width="1.3" height="2.0"/><rect x="298.36" y="304.40" width="1.3" height="2.0"/><rect x="303.92" y="304.40" width="1.3" height="2.0"/><rect x="309.47" y="304.40" width="1.3" height="2.0"/><rect x="315.03" y="304.40" width="1.3" height="2.0"/><rect x="320.59" y="304.40" width="1.3" height="2.0"/><rect x="326.14" y="304.40" width="1.3" height="2.0"/><rect x="331.70" y="304.40" width="1.3" height="2.0"/><rect x="337.25" y="304.40" width="1.3" height="2.0"/><rect x="342.81" y="304.40" width="1.3" height="2.0"/><rect x="348.37" y="304.40" width="1.3" height="2.0"/><rect x="353.92" y="304.40" width="1.3" height="2.0"/></g>
<path d="M147.40 329.40H355.50M188.50 299.40V359.40M230.50 299.40V359.40M272.50 299.40V359.40M313.50 299.40V359.40" stroke="#e0e0e0" stroke-width="2.0" fill="none"/>
<path d="M147.40 359.40h3.4M355.50 359.40h-3.4M147.40 329.40h3.4M355.50 329.40h-3.4M147.40 299.40h3.4M355.50 299.40h-3.4M147.40 299.40v3.4M147.40 359.40v-3.4M188.50 299.40v3.4M188.50 359.40v-3.4M230.50 299.40v3.4M230.50 359.40v-3.4M272.50 299.40v3.4M272.50 359.40v-3.4M313.50 299.40v3.4M313.50 359.40v-3.4M355.50 299.40v3.4M355.50 359.40v-3.4" stroke="#262626" stroke-width="2.0" fill="none"/>
<rect x="147.40" y="299.40" width="208.10" height="60.00" fill="none" stroke="#262626" stroke-width="2.0"/>
<g fill="none" stroke="#0072BD" stroke-width="2.0"><circle cx="157.3" cy="333.9" r="4.25"/><circle cx="158.5" cy="328.7" r="4.25"/><circle cx="160.3" cy="322.8" r="4.25"/><circle cx="161.4" cy="315.3" r="4.25"/><circle cx="163.2" cy="313.5" r="4.25"/><circle cx="165.3" cy="311.8" r="4.25"/><circle cx="167.3" cy="310.6" r="4.25"/><circle cx="169.0" cy="309.6" r="4.25"/><circle cx="170.0" cy="325.2" r="4.25"/><circle cx="171.3" cy="340.9" r="4.25"/><circle cx="174.8" cy="356.7" r="4.25"/><circle cx="176.4" cy="357.1" r="4.25"/><circle cx="178.0" cy="357.5" r="4.25"/><circle cx="179.4" cy="357.5" r="4.25"/><circle cx="180.8" cy="357.5" r="4.25"/><circle cx="182.2" cy="357.5" r="4.25"/><circle cx="183.6" cy="357.5" r="4.25"/><circle cx="185.0" cy="357.5" r="4.25"/><circle cx="186.5" cy="357.4" r="4.25"/><circle cx="188.0" cy="357.3" r="4.25"/><circle cx="189.5" cy="357.2" r="4.25"/><circle cx="191.0" cy="357.2" r="4.25"/><circle cx="192.5" cy="357.1" r="4.25"/><circle cx="194.0" cy="357.0" r="4.25"/><circle cx="195.4" cy="349.7" r="4.25"/><circle cx="196.6" cy="340.9" r="4.25"/><circle cx="198.3" cy="333.3" r="4.25"/><circle cx="200.1" cy="329.3" r="4.25"/><circle cx="201.5" cy="323.4" r="4.25"/><circle cx="202.8" cy="317.0" r="4.25"/><circle cx="204.4" cy="313.5" r="4.25"/><circle cx="206.3" cy="311.8" r="4.25"/><circle cx="208.0" cy="310.6" r="4.25"/><circle cx="209.5" cy="310.0" r="4.25"/><circle cx="210.3" cy="331.5" r="4.25"/><circle cx="211.3" cy="342.2" r="4.25"/><circle cx="213.2" cy="340.3" r="4.25"/><circle cx="215.5" cy="339.2" r="4.25"/><circle cx="218.4" cy="338.0" r="4.25"/><circle cx="220.8" cy="337.4" r="4.25"/><circle cx="222.5" cy="350.8" r="4.25"/><circle cx="224.5" cy="354.5" r="4.25"/><circle cx="225.9" cy="355.0" r="4.25"/><circle cx="227.2" cy="355.5" r="4.25"/><circle cx="228.6" cy="356.0" r="4.25"/><circle cx="230.0" cy="356.5" r="4.25"/><circle cx="231.5" cy="356.6" r="4.25"/><circle cx="233.0" cy="356.8" r="4.25"/><circle cx="234.5" cy="356.9" r="4.25"/><circle cx="236.0" cy="357.0" r="4.25"/><circle cx="237.3" cy="348.0" r="4.25"/><circle cx="238.4" cy="342.7" r="4.25"/><circle cx="240.2" cy="336.8" r="4.25"/><circle cx="241.3" cy="331.0" r="4.25"/><circle cx="242.5" cy="325.8" r="4.25"/><circle cx="243.5" cy="321.0" r="4.25"/><circle cx="244.3" cy="317.0" r="4.25"/><circle cx="246.6" cy="314.7" r="4.25"/><circle cx="249.5" cy="312.3" r="4.25"/><circle cx="251.8" cy="310.0" r="4.25"/><circle cx="253.6" cy="308.8" r="4.25"/><circle cx="254.0" cy="323.0" r="4.25"/><circle cx="255.3" cy="336.8" r="4.25"/><circle cx="256.8" cy="350.5" r="4.25"/><circle cx="258.5" cy="350.0" r="4.25"/><circle cx="260.2" cy="350.5" r="4.25"/><circle cx="262.0" cy="351.0" r="4.25"/><circle cx="263.7" cy="351.5" r="4.25"/><circle cx="265.3" cy="352.0" r="4.25"/><circle cx="266.9" cy="352.5" r="4.25"/><circle cx="268.4" cy="353.0" r="4.25"/><circle cx="270.0" cy="353.5" r="4.25"/><circle cx="271.5" cy="354.0" r="4.25"/><circle cx="273.0" cy="354.5" r="4.25"/><circle cx="274.5" cy="355.0" r="4.25"/><circle cx="276.0" cy="355.5" r="4.25"/><circle cx="277.5" cy="354.4" r="4.25"/><circle cx="279.0" cy="353.2" r="4.25"/><circle cx="280.5" cy="352.1" r="4.25"/><circle cx="282.0" cy="351.0" r="4.25"/><circle cx="283.5" cy="349.0" r="4.25"/><circle cx="285.0" cy="347.0" r="4.25"/><circle cx="286.5" cy="345.0" r="4.25"/><circle cx="288.0" cy="343.0" r="4.25"/><circle cx="289.5" cy="340.9" r="4.25"/><circle cx="291.1" cy="338.7" r="4.25"/><circle cx="292.6" cy="336.6" r="4.25"/><circle cx="294.5" cy="337.0" r="4.25"/><circle cx="296.4" cy="339.0" r="4.25"/><circle cx="299.4" cy="353.2" r="4.25"/><circle cx="301.0" cy="350.0" r="4.25"/><circle cx="302.9" cy="347.9" r="4.25"/><circle cx="304.7" cy="345.7" r="4.25"/><circle cx="306.2" cy="345.9" r="4.25"/><circle cx="307.7" cy="346.1" r="4.25"/><circle cx="309.2" cy="346.2" r="4.25"/><circle cx="310.7" cy="346.4" r="4.25"/><circle cx="312.2" cy="346.0" r="4.25"/><circle cx="313.8" cy="345.6" r="4.25"/><circle cx="315.3" cy="345.3" r="4.25"/><circle cx="316.8" cy="344.9" r="4.25"/><circle cx="318.3" cy="342.9" r="4.25"/><circle cx="319.8" cy="340.9" r="4.25"/><circle cx="321.3" cy="338.9" r="4.25"/><circle cx="322.8" cy="335.1" r="4.25"/><circle cx="324.3" cy="331.3" r="4.25"/></g>
<text x="138.80" y="366.15" font-size="19.5" fill="#262626" stroke="#fff" stroke-width="0.18" text-anchor="end">0</text>
<text x="138.80" y="336.15" font-size="19.5" fill="#262626" stroke="#fff" stroke-width="0.18" text-anchor="end">1000</text>
<text x="138.80" y="306.15" font-size="19.5" fill="#262626" stroke="#fff" stroke-width="0.18" text-anchor="end">2000</text>
<text transform="translate(84.00,381.60) rotate(-90)" font-size="20.0" fill="#262626" stroke="#fff" stroke-width="0.18" textLength="104.30" lengthAdjust="spacingAndGlyphs">MIXDEPTH</text>
<g fill="#b0b0b0"><rect x="491.45" y="346.40" width="1.3" height="2.0"/><rect x="497.01" y="346.40" width="1.3" height="2.0"/><rect x="502.56" y="346.40" width="1.3" height="2.0"/><rect x="508.12" y="346.40" width="1.3" height="2.0"/><rect x="513.67" y="346.40" width="1.3" height="2.0"/><rect x="519.23" y="346.40" width="1.3" height="2.0"/><rect x="524.79" y="346.40" width="1.3" height="2.0"/><rect x="530.34" y="346.40" width="1.3" height="2.0"/><rect x="535.90" y="346.40" width="1.3" height="2.0"/><rect x="541.45" y="346.40" width="1.3" height="2.0"/><rect x="547.01" y="346.40" width="1.3" height="2.0"/><rect x="552.57" y="346.40" width="1.3" height="2.0"/><rect x="558.12" y="346.40" width="1.3" height="2.0"/><rect x="563.68" y="346.40" width="1.3" height="2.0"/><rect x="569.23" y="346.40" width="1.3" height="2.0"/><rect x="574.79" y="346.40" width="1.3" height="2.0"/><rect x="580.35" y="346.40" width="1.3" height="2.0"/><rect x="585.90" y="346.40" width="1.3" height="2.0"/><rect x="591.46" y="346.40" width="1.3" height="2.0"/><rect x="597.01" y="346.40" width="1.3" height="2.0"/><rect x="602.57" y="346.40" width="1.3" height="2.0"/><rect x="608.13" y="346.40" width="1.3" height="2.0"/><rect x="613.68" y="346.40" width="1.3" height="2.0"/><rect x="619.24" y="346.40" width="1.3" height="2.0"/><rect x="624.79" y="346.40" width="1.3" height="2.0"/><rect x="630.35" y="346.40" width="1.3" height="2.0"/><rect x="635.91" y="346.40" width="1.3" height="2.0"/><rect x="641.46" y="346.40" width="1.3" height="2.0"/><rect x="647.02" y="346.40" width="1.3" height="2.0"/><rect x="652.57" y="346.40" width="1.3" height="2.0"/><rect x="658.13" y="346.40" width="1.3" height="2.0"/><rect x="663.69" y="346.40" width="1.3" height="2.0"/><rect x="669.24" y="346.40" width="1.3" height="2.0"/><rect x="674.80" y="346.40" width="1.3" height="2.0"/><rect x="680.35" y="346.40" width="1.3" height="2.0"/><rect x="685.91" y="346.40" width="1.3" height="2.0"/><rect x="691.47" y="346.40" width="1.3" height="2.0"/><rect x="697.02" y="346.40" width="1.3" height="2.0"/><rect x="491.45" y="334.40" width="1.3" height="2.0"/><rect x="497.01" y="334.40" width="1.3" height="2.0"/><rect x="502.56" y="334.40" width="1.3" height="2.0"/><rect x="508.12" y="334.40" width="1.3" height="2.0"/><rect x="513.67" y="334.40" width="1.3" height="2.0"/><rect x="519.23" y="334.40" width="1.3" height="2.0"/><rect x="524.79" y="334.40" width="1.3" height="2.0"/><rect x="530.34" y="334.40" width="1.3" height="2.0"/><rect x="535.90" y="334.40" width="1.3" height="2.0"/><rect x="541.45" y="334.40" width="1.3" height="2.0"/><rect x="547.01" y="334.40" width="1.3" height="2.0"/><rect x="552.57" y="334.40" width="1.3" height="2.0"/><rect x="558.12" y="334.40" width="1.3" height="2.0"/><rect x="563.68" y="334.40" width="1.3" height="2.0"/><rect x="569.23" y="334.40" width="1.3" height="2.0"/><rect x="574.79" y="334.40" width="1.3" height="2.0"/><rect x="580.35" y="334.40" width="1.3" height="2.0"/><rect x="585.90" y="334.40" width="1.3" height="2.0"/><rect x="591.46" y="334.40" width="1.3" height="2.0"/><rect x="597.01" y="334.40" width="1.3" height="2.0"/><rect x="602.57" y="334.40" width="1.3" height="2.0"/><rect x="608.13" y="334.40" width="1.3" height="2.0"/><rect x="613.68" y="334.40" width="1.3" height="2.0"/><rect x="619.24" y="334.40" width="1.3" height="2.0"/><rect x="624.79" y="334.40" width="1.3" height="2.0"/><rect x="630.35" y="334.40" width="1.3" height="2.0"/><rect x="635.91" y="334.40" width="1.3" height="2.0"/><rect x="641.46" y="334.40" width="1.3" height="2.0"/><rect x="647.02" y="334.40" width="1.3" height="2.0"/><rect x="652.57" y="334.40" width="1.3" height="2.0"/><rect x="658.13" y="334.40" width="1.3" height="2.0"/><rect x="663.69" y="334.40" width="1.3" height="2.0"/><rect x="669.24" y="334.40" width="1.3" height="2.0"/><rect x="674.80" y="334.40" width="1.3" height="2.0"/><rect x="680.35" y="334.40" width="1.3" height="2.0"/><rect x="685.91" y="334.40" width="1.3" height="2.0"/><rect x="691.47" y="334.40" width="1.3" height="2.0"/><rect x="697.02" y="334.40" width="1.3" height="2.0"/><rect x="491.45" y="322.40" width="1.3" height="2.0"/><rect x="497.01" y="322.40" width="1.3" height="2.0"/><rect x="502.56" y="322.40" width="1.3" height="2.0"/><rect x="508.12" y="322.40" width="1.3" height="2.0"/><rect x="513.67" y="322.40" width="1.3" height="2.0"/><rect x="519.23" y="322.40" width="1.3" height="2.0"/><rect x="524.79" y="322.40" width="1.3" height="2.0"/><rect x="530.34" y="322.40" width="1.3" height="2.0"/><rect x="535.90" y="322.40" width="1.3" height="2.0"/><rect x="541.45" y="322.40" width="1.3" height="2.0"/><rect x="547.01" y="322.40" width="1.3" height="2.0"/><rect x="552.57" y="322.40" width="1.3" height="2.0"/><rect x="558.12" y="322.40" width="1.3" height="2.0"/><rect x="563.68" y="322.40" width="1.3" height="2.0"/><rect x="569.23" y="322.40" width="1.3" height="2.0"/><rect x="574.79" y="322.40" width="1.3" height="2.0"/><rect x="580.35" y="322.40" width="1.3" height="2.0"/><rect x="585.90" y="322.40" width="1.3" height="2.0"/><rect x="591.46" y="322.40" width="1.3" height="2.0"/><rect x="597.01" y="322.40" width="1.3" height="2.0"/><rect x="602.57" y="322.40" width="1.3" height="2.0"/><rect x="608.13" y="322.40" width="1.3" height="2.0"/><rect x="613.68" y="322.40" width="1.3" height="2.0"/><rect x="619.24" y="322.40" width="1.3" height="2.0"/><rect x="624.79" y="322.40" width="1.3" height="2.0"/><rect x="630.35" y="322.40" width="1.3" height="2.0"/><rect x="635.91" y="322.40" width="1.3" height="2.0"/><rect x="641.46" y="322.40" width="1.3" height="2.0"/><rect x="647.02" y="322.40" width="1.3" height="2.0"/><rect x="652.57" y="322.40" width="1.3" height="2.0"/><rect x="658.13" y="322.40" width="1.3" height="2.0"/><rect x="663.69" y="322.40" width="1.3" height="2.0"/><rect x="669.24" y="322.40" width="1.3" height="2.0"/><rect x="674.80" y="322.40" width="1.3" height="2.0"/><rect x="680.35" y="322.40" width="1.3" height="2.0"/><rect x="685.91" y="322.40" width="1.3" height="2.0"/><rect x="691.47" y="322.40" width="1.3" height="2.0"/><rect x="697.02" y="322.40" width="1.3" height="2.0"/><rect x="491.45" y="310.40" width="1.3" height="2.0"/><rect x="497.01" y="310.40" width="1.3" height="2.0"/><rect x="502.56" y="310.40" width="1.3" height="2.0"/><rect x="508.12" y="310.40" width="1.3" height="2.0"/><rect x="513.67" y="310.40" width="1.3" height="2.0"/><rect x="519.23" y="310.40" width="1.3" height="2.0"/><rect x="524.79" y="310.40" width="1.3" height="2.0"/><rect x="530.34" y="310.40" width="1.3" height="2.0"/><rect x="535.90" y="310.40" width="1.3" height="2.0"/><rect x="541.45" y="310.40" width="1.3" height="2.0"/><rect x="547.01" y="310.40" width="1.3" height="2.0"/><rect x="552.57" y="310.40" width="1.3" height="2.0"/><rect x="558.12" y="310.40" width="1.3" height="2.0"/><rect x="563.68" y="310.40" width="1.3" height="2.0"/><rect x="569.23" y="310.40" width="1.3" height="2.0"/><rect x="574.79" y="310.40" width="1.3" height="2.0"/><rect x="580.35" y="310.40" width="1.3" height="2.0"/><rect x="585.90" y="310.40" width="1.3" height="2.0"/><rect x="591.46" y="310.40" width="1.3" height="2.0"/><rect x="597.01" y="310.40" width="1.3" height="2.0"/><rect x="602.57" y="310.40" width="1.3" height="2.0"/><rect x="608.13" y="310.40" width="1.3" height="2.0"/><rect x="613.68" y="310.40" width="1.3" height="2.0"/><rect x="619.24" y="310.40" width="1.3" height="2.0"/><rect x="624.79" y="310.40" width="1.3" height="2.0"/><rect x="630.35" y="310.40" width="1.3" height="2.0"/><rect x="635.91" y="310.40" width="1.3" height="2.0"/><rect x="641.46" y="310.40" width="1.3" height="2.0"/><rect x="647.02" y="310.40" width="1.3" height="2.0"/><rect x="652.57" y="310.40" width="1.3" height="2.0"/><rect x="658.13" y="310.40" width="1.3" height="2.0"/><rect x="663.69" y="310.40" width="1.3" height="2.0"/><rect x="669.24" y="310.40" width="1.3" height="2.0"/><rect x="674.80" y="310.40" width="1.3" height="2.0"/><rect x="680.35" y="310.40" width="1.3" height="2.0"/><rect x="685.91" y="310.40" width="1.3" height="2.0"/><rect x="691.47" y="310.40" width="1.3" height="2.0"/><rect x="697.02" y="310.40" width="1.3" height="2.0"/></g>
<path d="M532.50 299.40V359.40M573.50 299.40V359.40M615.50 299.40V359.40M657.00 299.40V359.40" stroke="#e0e0e0" stroke-width="2.0" fill="none"/>
<path d="M490.50 359.40h3.4M698.50 359.40h-3.4M490.50 299.40h3.4M698.50 299.40h-3.4M490.50 299.40v3.4M490.50 359.40v-3.4M532.50 299.40v3.4M532.50 359.40v-3.4M573.50 299.40v3.4M573.50 359.40v-3.4M615.50 299.40v3.4M615.50 359.40v-3.4M657.00 299.40v3.4M657.00 359.40v-3.4M698.50 299.40v3.4M698.50 359.40v-3.4" stroke="#262626" stroke-width="2.0" fill="none"/>
<rect x="490.50" y="299.40" width="208.00" height="60.00" fill="none" stroke="#262626" stroke-width="2.0"/>
<g fill="none" stroke="#0072BD" stroke-width="2.0"><circle cx="501.0" cy="352.1" r="4.25"/><circle cx="502.2" cy="352.0" r="4.25"/><circle cx="503.4" cy="350.0" r="4.25"/><circle cx="504.6" cy="350.6" r="4.25"/><circle cx="505.8" cy="348.1" r="4.25"/><circle cx="506.9" cy="346.3" r="4.25"/><circle cx="507.9" cy="342.3" r="4.25"/><circle cx="509.0" cy="341.0" r="4.25"/><circle cx="510.1" cy="338.6" r="4.25"/><circle cx="511.1" cy="336.2" r="4.25"/><circle cx="512.2" cy="337.7" r="4.25"/><circle cx="513.2" cy="336.4" r="4.25"/><circle cx="514.3" cy="337.2" r="4.25"/><circle cx="515.4" cy="338.1" r="4.25"/><circle cx="516.4" cy="337.1" r="4.25"/><circle cx="517.5" cy="338.7" r="4.25"/><circle cx="518.6" cy="337.2" r="4.25"/><circle cx="519.6" cy="338.6" r="4.25"/><circle cx="520.7" cy="337.6" r="4.25"/><circle cx="521.7" cy="339.4" r="4.25"/><circle cx="522.8" cy="339.0" r="4.25"/><circle cx="523.8" cy="338.8" r="4.25"/><circle cx="524.9" cy="340.3" r="4.25"/><circle cx="526.0" cy="337.7" r="4.25"/><circle cx="527.0" cy="337.3" r="4.25"/><circle cx="528.1" cy="336.9" r="4.25"/><circle cx="529.1" cy="334.6" r="4.25"/><circle cx="530.2" cy="334.9" r="4.25"/><circle cx="531.3" cy="332.6" r="4.25"/><circle cx="532.4" cy="333.0" r="4.25"/><circle cx="533.4" cy="331.2" r="4.25"/><circle cx="534.5" cy="332.1" r="4.25"/><circle cx="535.6" cy="330.9" r="4.25"/><circle cx="536.7" cy="330.1" r="4.25"/><circle cx="537.7" cy="331.1" r="4.25"/><circle cx="538.8" cy="329.2" r="4.25"/><circle cx="539.8" cy="329.6" r="4.25"/><circle cx="540.9" cy="330.0" r="4.25"/><circle cx="542.0" cy="328.2" r="4.25"/><circle cx="543.0" cy="329.1" r="4.25"/><circle cx="544.1" cy="326.9" r="4.25"/><circle cx="545.1" cy="327.4" r="4.25"/><circle cx="546.2" cy="325.7" r="4.25"/><circle cx="547.3" cy="327.4" r="4.25"/><circle cx="548.3" cy="327.0" r="4.25"/><circle cx="549.4" cy="326.8" r="4.25"/><circle cx="550.5" cy="328.2" r="4.25"/><circle cx="551.5" cy="326.9" r="4.25"/><circle cx="552.6" cy="327.8" r="4.25"/><circle cx="553.6" cy="328.7" r="4.25"/><circle cx="554.7" cy="327.7" r="4.25"/><circle cx="555.8" cy="329.4" r="4.25"/><circle cx="556.9" cy="328.1" r="4.25"/><circle cx="558.0" cy="329.5" r="4.25"/><circle cx="559.1" cy="328.6" r="4.25"/><circle cx="560.2" cy="330.5" r="4.25"/><circle cx="561.3" cy="330.2" r="4.25"/><circle cx="562.4" cy="330.1" r="4.25"/><circle cx="563.5" cy="331.7" r="4.25"/><circle cx="564.6" cy="330.7" r="4.25"/><circle cx="565.6" cy="331.9" r="4.25"/><circle cx="566.7" cy="333.2" r="4.25"/><circle cx="567.8" cy="332.4" r="4.25"/><circle cx="568.8" cy="334.4" r="4.25"/><circle cx="569.9" cy="333.2" r="4.25"/><circle cx="571.0" cy="337.8" r="4.25"/><circle cx="572.0" cy="340.2" r="4.25"/><circle cx="573.1" cy="345.3" r="4.25"/><circle cx="574.2" cy="344.5" r="4.25"/><circle cx="575.2" cy="343.9" r="4.25"/><circle cx="576.3" cy="345.0" r="4.25"/><circle cx="577.4" cy="343.2" r="4.25"/><circle cx="578.4" cy="343.8" r="4.25"/><circle cx="579.5" cy="344.3" r="4.25"/><circle cx="580.6" cy="343.3" r="4.25"/><circle cx="581.6" cy="344.9" r="4.25"/><circle cx="582.7" cy="343.4" r="4.25"/><circle cx="583.7" cy="344.8" r="4.25"/><circle cx="584.8" cy="343.8" r="4.25"/><circle cx="585.9" cy="342.5" r="4.25"/><circle cx="586.9" cy="339.0" r="4.25"/><circle cx="588.0" cy="335.8" r="4.25"/><circle cx="589.1" cy="335.6" r="4.25"/><circle cx="590.1" cy="332.6" r="4.25"/><circle cx="591.2" cy="331.9" r="4.25"/><circle cx="592.3" cy="333.1" r="4.25"/><circle cx="593.3" cy="332.4" r="4.25"/><circle cx="594.4" cy="334.4" r="4.25"/><circle cx="595.5" cy="333.2" r="4.25"/><circle cx="596.5" cy="334.8" r="4.25"/><circle cx="597.6" cy="334.2" r="4.25"/><circle cx="598.7" cy="335.6" r="4.25"/><circle cx="599.7" cy="334.9" r="4.25"/><circle cx="600.8" cy="334.3" r="4.25"/><circle cx="601.8" cy="335.5" r="4.25"/><circle cx="602.9" cy="333.8" r="4.25"/><circle cx="604.0" cy="334.4" r="4.25"/><circle cx="605.0" cy="335.1" r="4.25"/><circle cx="606.1" cy="333.7" r="4.25"/><circle cx="607.1" cy="335.0" r="4.25"/><circle cx="608.2" cy="333.2" r="4.25"/><circle cx="609.3" cy="334.4" r="4.25"/><circle cx="610.3" cy="333.3" r="4.25"/><circle cx="611.4" cy="335.0" r="4.25"/><circle cx="612.4" cy="334.4" r="4.25"/><circle cx="613.5" cy="334.1" r="4.25"/><circle cx="614.6" cy="335.5" r="4.25"/><circle cx="615.6" cy="334.1" r="4.25"/><circle cx="616.7" cy="334.9" r="4.25"/><circle cx="617.7" cy="335.7" r="4.25"/><circle cx="618.8" cy="334.6" r="4.25"/><circle cx="619.9" cy="335.9" r="4.25"/><circle cx="621.1" cy="334.1" r="4.25"/><circle cx="622.2" cy="335.1" r="4.25"/><circle cx="623.3" cy="333.9" r="4.25"/><circle cx="624.5" cy="335.3" r="4.25"/><circle cx="625.6" cy="334.6" r="4.25"/><circle cx="626.7" cy="334.1" r="4.25"/><circle cx="627.7" cy="335.4" r="4.25"/><circle cx="628.8" cy="333.9" r="4.25"/><circle cx="629.9" cy="334.6" r="4.25"/><circle cx="630.9" cy="335.3" r="4.25"/><circle cx="632.0" cy="334.1" r="4.25"/><circle cx="633.1" cy="333.4" r="4.25"/><circle cx="634.1" cy="329.5" r="4.25"/><circle cx="635.2" cy="328.4" r="4.25"/><circle cx="636.3" cy="325.1" r="4.25"/><circle cx="637.4" cy="326.3" r="4.25"/><circle cx="638.4" cy="325.3" r="4.25"/><circle cx="639.5" cy="324.5" r="4.25"/><circle cx="640.6" cy="325.4" r="4.25"/><circle cx="641.6" cy="323.5" r="4.25"/><circle cx="642.7" cy="323.9" r="4.25"/><circle cx="643.8" cy="324.5" r="4.25"/><circle cx="644.8" cy="323.1" r="4.25"/><circle cx="645.9" cy="324.4" r="4.25"/><circle cx="647.0" cy="322.6" r="4.25"/><circle cx="648.0" cy="323.5" r="4.25"/><circle cx="649.1" cy="322.2" r="4.25"/><circle cx="650.1" cy="323.6" r="4.25"/><circle cx="651.2" cy="322.9" r="4.25"/><circle cx="652.2" cy="321.1" r="4.25"/><circle cx="653.3" cy="321.0" r="4.25"/><circle cx="654.4" cy="318.1" r="4.25"/><circle cx="655.4" cy="317.5" r="4.25"/><circle cx="656.5" cy="314.0" r="4.25"/><circle cx="657.6" cy="308.5" r="4.25"/><circle cx="658.6" cy="306.7" r="4.25"/><circle cx="659.7" cy="301.8" r="4.25"/><circle cx="660.8" cy="302.7" r="4.25"/><circle cx="661.8" cy="301.4" r="4.25"/><circle cx="662.9" cy="302.7" r="4.25"/><circle cx="663.9" cy="301.9" r="4.25"/><circle cx="665.0" cy="301.3" r="4.25"/><circle cx="666.0" cy="302.4" r="4.25"/><circle cx="667.1" cy="301.9" r="4.25"/><circle cx="668.2" cy="303.7" r="4.25"/></g>
<text x="481.90" y="366.15" font-size="19.5" fill="#262626" stroke="#fff" stroke-width="0.18" text-anchor="end">0</text>
<text x="481.90" y="306.15" font-size="19.5" fill="#262626" stroke="#fff" stroke-width="0.18" text-anchor="end">5</text>
<text transform="translate(460.20,383.70) rotate(-90)" font-size="20.0" fill="#262626" stroke="#fff" stroke-width="0.18" textLength="109.20" lengthAdjust="spacingAndGlyphs">H2OMIXRA</text>
<g fill="#b0b0b0"><rect x="148.35" y="480.98" width="1.3" height="2.0"/><rect x="153.91" y="480.98" width="1.3" height="2.0"/><rect x="159.46" y="480.98" width="1.3" height="2.0"/><rect x="165.02" y="480.98" width="1.3" height="2.0"/><rect x="170.57" y="480.98" width="1.3" height="2.0"/><rect x="176.13" y="480.98" width="1.3" height="2.0"/><rect x="181.69" y="480.98" width="1.3" height="2.0"/><rect x="187.24" y="480.98" width="1.3" height="2.0"/><rect x="192.80" y="480.98" width="1.3" height="2.0"/><rect x="198.35" y="480.98" width="1.3" height="2.0"/><rect x="203.91" y="480.98" width="1.3" height="2.0"/><rect x="209.47" y="480.98" width="1.3" height="2.0"/><rect x="215.02" y="480.98" width="1.3" height="2.0"/><rect x="220.58" y="480.98" width="1.3" height="2.0"/><rect x="226.13" y="480.98" width="1.3" height="2.0"/><rect x="231.69" y="480.98" width="1.3" height="2.0"/><rect x="237.25" y="480.98" width="1.3" height="2.0"/><rect x="242.80" y="480.98" width="1.3" height="2.0"/><rect x="248.36" y="480.98" width="1.3" height="2.0"/><rect x="253.91" y="480.98" width="1.3" height="2.0"/><rect x="259.47" y="480.98" width="1.3" height="2.0"/><rect x="265.03" y="480.98" width="1.3" height="2.0"/><rect x="270.58" y="480.98" width="1.3" height="2.0"/><rect x="276.14" y="480.98" width="1.3" height="2.0"/><rect x="281.69" y="480.98" width="1.3" height="2.0"/><rect x="287.25" y="480.98" width="1.3" height="2.0"/><rect x="292.81" y="480.98" width="1.3" height="2.0"/><rect x="298.36" y="480.98" width="1.3" height="2.0"/><rect x="303.92" y="480.98" width="1.3" height="2.0"/><rect x="309.47" y="480.98" width="1.3" height="2.0"/><rect x="315.03" y="480.98" width="1.3" height="2.0"/><rect x="320.59" y="480.98" width="1.3" height="2.0"/><rect x="326.14" y="480.98" width="1.3" height="2.0"/><rect x="331.70" y="480.98" width="1.3" height="2.0"/><rect x="337.25" y="480.98" width="1.3" height="2.0"/><rect x="342.81" y="480.98" width="1.3" height="2.0"/><rect x="348.37" y="480.98" width="1.3" height="2.0"/><rect x="353.92" y="480.98" width="1.3" height="2.0"/><rect x="148.35" y="471.42" width="1.3" height="2.0"/><rect x="153.91" y="471.42" width="1.3" height="2.0"/><rect x="159.46" y="471.42" width="1.3" height="2.0"/><rect x="165.02" y="471.42" width="1.3" height="2.0"/><rect x="170.57" y="471.42" width="1.3" height="2.0"/><rect x="176.13" y="471.42" width="1.3" height="2.0"/><rect x="181.69" y="471.42" width="1.3" height="2.0"/><rect x="187.24" y="471.42" width="1.3" height="2.0"/><rect x="192.80" y="471.42" width="1.3" height="2.0"/><rect x="198.35" y="471.42" width="1.3" height="2.0"/><rect x="203.91" y="471.42" width="1.3" height="2.0"/><rect x="209.47" y="471.42" width="1.3" height="2.0"/><rect x="215.02" y="471.42" width="1.3" height="2.0"/><rect x="220.58" y="471.42" width="1.3" height="2.0"/><rect x="226.13" y="471.42" width="1.3" height="2.0"/><rect x="231.69" y="471.42" width="1.3" height="2.0"/><rect x="237.25" y="471.42" width="1.3" height="2.0"/><rect x="242.80" y="471.42" width="1.3" height="2.0"/><rect x="248.36" y="471.42" width="1.3" height="2.0"/><rect x="253.91" y="471.42" width="1.3" height="2.0"/><rect x="259.47" y="471.42" width="1.3" height="2.0"/><rect x="265.03" y="471.42" width="1.3" height="2.0"/><rect x="270.58" y="471.42" width="1.3" height="2.0"/><rect x="276.14" y="471.42" width="1.3" height="2.0"/><rect x="281.69" y="471.42" width="1.3" height="2.0"/><rect x="287.25" y="471.42" width="1.3" height="2.0"/><rect x="292.81" y="471.42" width="1.3" height="2.0"/><rect x="298.36" y="471.42" width="1.3" height="2.0"/><rect x="303.92" y="471.42" width="1.3" height="2.0"/><rect x="309.47" y="471.42" width="1.3" height="2.0"/><rect x="315.03" y="471.42" width="1.3" height="2.0"/><rect x="320.59" y="471.42" width="1.3" height="2.0"/><rect x="326.14" y="471.42" width="1.3" height="2.0"/><rect x="331.70" y="471.42" width="1.3" height="2.0"/><rect x="337.25" y="471.42" width="1.3" height="2.0"/><rect x="342.81" y="471.42" width="1.3" height="2.0"/><rect x="348.37" y="471.42" width="1.3" height="2.0"/><rect x="353.92" y="471.42" width="1.3" height="2.0"/><rect x="148.35" y="466.64" width="1.3" height="2.0"/><rect x="153.91" y="466.64" width="1.3" height="2.0"/><rect x="159.46" y="466.64" width="1.3" height="2.0"/><rect x="165.02" y="466.64" width="1.3" height="2.0"/><rect x="170.57" y="466.64" width="1.3" height="2.0"/><rect x="176.13" y="466.64" width="1.3" height="2.0"/><rect x="181.69" y="466.64" width="1.3" height="2.0"/><rect x="187.24" y="466.64" width="1.3" height="2.0"/><rect x="192.80" y="466.64" width="1.3" height="2.0"/><rect x="198.35" y="466.64" width="1.3" height="2.0"/><rect x="203.91" y="466.64" width="1.3" height="2.0"/><rect x="209.47" y="466.64" width="1.3" height="2.0"/><rect x="215.02" y="466.64" width="1.3" height="2.0"/><rect x="220.58" y="466.64" width="1.3" height="2.0"/><rect x="226.13" y="466.64" width="1.3" height="2.0"/><rect x="231.69" y="466.64" width="1.3" height="2.0"/><rect x="237.25" y="466.64" width="1.3" height="2.0"/><rect x="242.80" y="466.64" width="1.3" height="2.0"/><rect x="248.36" y="466.64" width="1.3" height="2.0"/><rect x="253.91" y="466.64" width="1.3" height="2.0"/><rect x="259.47" y="466.64" width="1.3" height="2.0"/><rect x="265.03" y="466.64" width="1.3" height="2.0"/><rect x="270.58" y="466.64" width="1.3" height="2.0"/><rect x="276.14" y="466.64" width="1.3" height="2.0"/><rect x="281.69" y="466.64" width="1.3" height="2.0"/><rect x="287.25" y="466.64" width="1.3" height="2.0"/><rect x="292.81" y="466.64" width="1.3" height="2.0"/><rect x="298.36" y="466.64" width="1.3" height="2.0"/><rect x="303.92" y="466.64" width="1.3" height="2.0"/><rect x="309.47" y="466.64" width="1.3" height="2.0"/><rect x="315.03" y="466.64" width="1.3" height="2.0"/><rect x="320.59" y="466.64" width="1.3" height="2.0"/><rect x="326.14" y="466.64" width="1.3" height="2.0"/><rect x="331.70" y="466.64" width="1.3" height="2.0"/><rect x="337.25" y="466.64" width="1.3" height="2.0"/><rect x="342.81" y="466.64" width="1.3" height="2.0"/><rect x="348.37" y="466.64" width="1.3" height="2.0"/><rect x="353.92" y="466.64" width="1.3" height="2.0"/><rect x="148.35" y="461.86" width="1.3" height="2.0"/><rect x="153.91" y="461.86" width="1.3" height="2.0"/><rect x="159.46" y="461.86" width="1.3" height="2.0"/><rect x="165.02" y="461.86" width="1.3" height="2.0"/><rect x="170.57" y="461.86" width="1.3" height="2.0"/><rect x="176.13" y="461.86" width="1.3" height="2.0"/><rect x="181.69" y="461.86" width="1.3" height="2.0"/><rect x="187.24" y="461.86" width="1.3" height="2.0"/><rect x="192.80" y="461.86" width="1.3" height="2.0"/><rect x="198.35" y="461.86" width="1.3" height="2.0"/><rect x="203.91" y="461.86" width="1.3" height="2.0"/><rect x="209.47" y="461.86" width="1.3" height="2.0"/><rect x="215.02" y="461.86" width="1.3" height="2.0"/><rect x="220.58" y="461.86" width="1.3" height="2.0"/><rect x="226.13" y="461.86" width="1.3" height="2.0"/><rect x="231.69" y="461.86" width="1.3" height="2.0"/><rect x="237.25" y="461.86" width="1.3" height="2.0"/><rect x="242.80" y="461.86" width="1.3" height="2.0"/><rect x="248.36" y="461.86" width="1.3" height="2.0"/><rect x="253.91" y="461.86" width="1.3" height="2.0"/><rect x="259.47" y="461.86" width="1.3" height="2.0"/><rect x="265.03" y="461.86" width="1.3" height="2.0"/><rect x="270.58" y="461.86" width="1.3" height="2.0"/><rect x="276.14" y="461.86" width="1.3" height="2.0"/><rect x="281.69" y="461.86" width="1.3" height="2.0"/><rect x="287.25" y="461.86" width="1.3" height="2.0"/><rect x="292.81" y="461.86" width="1.3" height="2.0"/><rect x="298.36" y="461.86" width="1.3" height="2.0"/><rect x="303.92" y="461.86" width="1.3" height="2.0"/><rect x="309.47" y="461.86" width="1.3" height="2.0"/><rect x="315.03" y="461.86" width="1.3" height="2.0"/><rect x="320.59" y="461.86" width="1.3" height="2.0"/><rect x="326.14" y="461.86" width="1.3" height="2.0"/><rect x="331.70" y="461.86" width="1.3" height="2.0"/><rect x="337.25" y="461.86" width="1.3" height="2.0"/><rect x="342.81" y="461.86" width="1.3" height="2.0"/><rect x="348.37" y="461.86" width="1.3" height="2.0"/><rect x="353.92" y="461.86" width="1.3" height="2.0"/><rect x="148.35" y="457.08" width="1.3" height="2.0"/><rect x="153.91" y="457.08" width="1.3" height="2.0"/><rect x="159.46" y="457.08" width="1.3" height="2.0"/><rect x="165.02" y="457.08" width="1.3" height="2.0"/><rect x="170.57" y="457.08" width="1.3" height="2.0"/><rect x="176.13" y="457.08" width="1.3" height="2.0"/><rect x="181.69" y="457.08" width="1.3" height="2.0"/><rect x="187.24" y="457.08" width="1.3" height="2.0"/><rect x="192.80" y="457.08" width="1.3" height="2.0"/><rect x="198.35" y="457.08" width="1.3" height="2.0"/><rect x="203.91" y="457.08" width="1.3" height="2.0"/><rect x="209.47" y="457.08" width="1.3" height="2.0"/><rect x="215.02" y="457.08" width="1.3" height="2.0"/><rect x="220.58" y="457.08" width="1.3" height="2.0"/><rect x="226.13" y="457.08" width="1.3" height="2.0"/><rect x="231.69" y="457.08" width="1.3" height="2.0"/><rect x="237.25" y="457.08" width="1.3" height="2.0"/><rect x="242.80" y="457.08" width="1.3" height="2.0"/><rect x="248.36" y="457.08" width="1.3" height="2.0"/><rect x="253.91" y="457.08" width="1.3" height="2.0"/><rect x="259.47" y="457.08" width="1.3" height="2.0"/><rect x="265.03" y="457.08" width="1.3" height="2.0"/><rect x="270.58" y="457.08" width="1.3" height="2.0"/><rect x="276.14" y="457.08" width="1.3" height="2.0"/><rect x="281.69" y="457.08" width="1.3" height="2.0"/><rect x="287.25" y="457.08" width="1.3" height="2.0"/><rect x="292.81" y="457.08" width="1.3" height="2.0"/><rect x="298.36" y="457.08" width="1.3" height="2.0"/><rect x="303.92" y="457.08" width="1.3" height="2.0"/><rect x="309.47" y="457.08" width="1.3" height="2.0"/><rect x="315.03" y="457.08" width="1.3" height="2.0"/><rect x="320.59" y="457.08" width="1.3" height="2.0"/><rect x="326.14" y="457.08" width="1.3" height="2.0"/><rect x="331.70" y="457.08" width="1.3" height="2.0"/><rect x="337.25" y="457.08" width="1.3" height="2.0"/><rect x="342.81" y="457.08" width="1.3" height="2.0"/><rect x="348.37" y="457.08" width="1.3" height="2.0"/><rect x="353.92" y="457.08" width="1.3" height="2.0"/><rect x="148.35" y="447.52" width="1.3" height="2.0"/><rect x="153.91" y="447.52" width="1.3" height="2.0"/><rect x="159.46" y="447.52" width="1.3" height="2.0"/><rect x="165.02" y="447.52" width="1.3" height="2.0"/><rect x="170.57" y="447.52" width="1.3" height="2.0"/><rect x="176.13" y="447.52" width="1.3" height="2.0"/><rect x="181.69" y="447.52" width="1.3" height="2.0"/><rect x="187.24" y="447.52" width="1.3" height="2.0"/><rect x="192.80" y="447.52" width="1.3" height="2.0"/><rect x="198.35" y="447.52" width="1.3" height="2.0"/><rect x="203.91" y="447.52" width="1.3" height="2.0"/><rect x="209.47" y="447.52" width="1.3" height="2.0"/><rect x="215.02" y="447.52" width="1.3" height="2.0"/><rect x="220.58" y="447.52" width="1.3" height="2.0"/><rect x="226.13" y="447.52" width="1.3" height="2.0"/><rect x="231.69" y="447.52" width="1.3" height="2.0"/><rect x="237.25" y="447.52" width="1.3" height="2.0"/><rect x="242.80" y="447.52" width="1.3" height="2.0"/><rect x="248.36" y="447.52" width="1.3" height="2.0"/><rect x="253.91" y="447.52" width="1.3" height="2.0"/><rect x="259.47" y="447.52" width="1.3" height="2.0"/><rect x="265.03" y="447.52" width="1.3" height="2.0"/><rect x="270.58" y="447.52" width="1.3" height="2.0"/><rect x="276.14" y="447.52" width="1.3" height="2.0"/><rect x="281.69" y="447.52" width="1.3" height="2.0"/><rect x="287.25" y="447.52" width="1.3" height="2.0"/><rect x="292.81" y="447.52" width="1.3" height="2.0"/><rect x="298.36" y="447.52" width="1.3" height="2.0"/><rect x="303.92" y="447.52" width="1.3" height="2.0"/><rect x="309.47" y="447.52" width="1.3" height="2.0"/><rect x="315.03" y="447.52" width="1.3" height="2.0"/><rect x="320.59" y="447.52" width="1.3" height="2.0"/><rect x="326.14" y="447.52" width="1.3" height="2.0"/><rect x="331.70" y="447.52" width="1.3" height="2.0"/><rect x="337.25" y="447.52" width="1.3" height="2.0"/><rect x="342.81" y="447.52" width="1.3" height="2.0"/><rect x="348.37" y="447.52" width="1.3" height="2.0"/><rect x="353.92" y="447.52" width="1.3" height="2.0"/><rect x="148.35" y="442.74" width="1.3" height="2.0"/><rect x="153.91" y="442.74" width="1.3" height="2.0"/><rect x="159.46" y="442.74" width="1.3" height="2.0"/><rect x="165.02" y="442.74" width="1.3" height="2.0"/><rect x="170.57" y="442.74" width="1.3" height="2.0"/><rect x="176.13" y="442.74" width="1.3" height="2.0"/><rect x="181.69" y="442.74" width="1.3" height="2.0"/><rect x="187.24" y="442.74" width="1.3" height="2.0"/><rect x="192.80" y="442.74" width="1.3" height="2.0"/><rect x="198.35" y="442.74" width="1.3" height="2.0"/><rect x="203.91" y="442.74" width="1.3" height="2.0"/><rect x="209.47" y="442.74" width="1.3" height="2.0"/><rect x="215.02" y="442.74" width="1.3" height="2.0"/><rect x="220.58" y="442.74" width="1.3" height="2.0"/><rect x="226.13" y="442.74" width="1.3" height="2.0"/><rect x="231.69" y="442.74" width="1.3" height="2.0"/><rect x="237.25" y="442.74" width="1.3" height="2.0"/><rect x="242.80" y="442.74" width="1.3" height="2.0"/><rect x="248.36" y="442.74" width="1.3" height="2.0"/><rect x="253.91" y="442.74" width="1.3" height="2.0"/><rect x="259.47" y="442.74" width="1.3" height="2.0"/><rect x="265.03" y="442.74" width="1.3" height="2.0"/><rect x="270.58" y="442.74" width="1.3" height="2.0"/><rect x="276.14" y="442.74" width="1.3" height="2.0"/><rect x="281.69" y="442.74" width="1.3" height="2.0"/><rect x="287.25" y="442.74" width="1.3" height="2.0"/><rect x="292.81" y="442.74" width="1.3" height="2.0"/><rect x="298.36" y="442.74" width="1.3" height="2.0"/><rect x="303.92" y="442.74" width="1.3" height="2.0"/><rect x="309.47" y="442.74" width="1.3" height="2.0"/><rect x="315.03" y="442.74" width="1.3" height="2.0"/><rect x="320.59" y="442.74" width="1.3" height="2.0"/><rect x="326.14" y="442.74" width="1.3" height="2.0"/><rect x="331.70" y="442.74" width="1.3" height="2.0"/><rect x="337.25" y="442.74" width="1.3" height="2.0"/><rect x="342.81" y="442.74" width="1.3" height="2.0"/><rect x="348.37" y="442.74" width="1.3" height="2.0"/><rect x="353.92" y="442.74" width="1.3" height="2.0"/><rect x="148.35" y="437.96" width="1.3" height="2.0"/><rect x="153.91" y="437.96" width="1.3" height="2.0"/><rect x="159.46" y="437.96" width="1.3" height="2.0"/><rect x="165.02" y="437.96" width="1.3" height="2.0"/><rect x="170.57" y="437.96" width="1.3" height="2.0"/><rect x="176.13" y="437.96" width="1.3" height="2.0"/><rect x="181.69" y="437.96" width="1.3" height="2.0"/><rect x="187.24" y="437.96" width="1.3" height="2.0"/><rect x="192.80" y="437.96" width="1.3" height="2.0"/><rect x="198.35" y="437.96" width="1.3" height="2.0"/><rect x="203.91" y="437.96" width="1.3" height="2.0"/><rect x="209.47" y="437.96" width="1.3" height="2.0"/><rect x="215.02" y="437.96" width="1.3" height="2.0"/><rect x="220.58" y="437.96" width="1.3" height="2.0"/><rect x="226.13" y="437.96" width="1.3" height="2.0"/><rect x="231.69" y="437.96" width="1.3" height="2.0"/><rect x="237.25" y="437.96" width="1.3" height="2.0"/><rect x="242.80" y="437.96" width="1.3" height="2.0"/><rect x="248.36" y="437.96" width="1.3" height="2.0"/><rect x="253.91" y="437.96" width="1.3" height="2.0"/><rect x="259.47" y="437.96" width="1.3" height="2.0"/><rect x="265.03" y="437.96" width="1.3" height="2.0"/><rect x="270.58" y="437.96" width="1.3" height="2.0"/><rect x="276.14" y="437.96" width="1.3" height="2.0"/><rect x="281.69" y="437.96" width="1.3" height="2.0"/><rect x="287.25" y="437.96" width="1.3" height="2.0"/><rect x="292.81" y="437.96" width="1.3" height="2.0"/><rect x="298.36" y="437.96" width="1.3" height="2.0"/><rect x="303.92" y="437.96" width="1.3" height="2.0"/><rect x="309.47" y="437.96" width="1.3" height="2.0"/><rect x="315.03" y="437.96" width="1.3" height="2.0"/><rect x="320.59" y="437.96" width="1.3" height="2.0"/><rect x="326.14" y="437.96" width="1.3" height="2.0"/><rect x="331.70" y="437.96" width="1.3" height="2.0"/><rect x="337.25" y="437.96" width="1.3" height="2.0"/><rect x="342.81" y="437.96" width="1.3" height="2.0"/><rect x="348.37" y="437.96" width="1.3" height="2.0"/><rect x="353.92" y="437.96" width="1.3" height="2.0"/><rect x="148.35" y="433.18" width="1.3" height="2.0"/><rect x="153.91" y="433.18" width="1.3" height="2.0"/><rect x="159.46" y="433.18" width="1.3" height="2.0"/><rect x="165.02" y="433.18" width="1.3" height="2.0"/><rect x="170.57" y="433.18" width="1.3" height="2.0"/><rect x="176.13" y="433.18" width="1.3" height="2.0"/><rect x="181.69" y="433.18" width="1.3" height="2.0"/><rect x="187.24" y="433.18" width="1.3" height="2.0"/><rect x="192.80" y="433.18" width="1.3" height="2.0"/><rect x="198.35" y="433.18" width="1.3" height="2.0"/><rect x="203.91" y="433.18" width="1.3" height="2.0"/><rect x="209.47" y="433.18" width="1.3" height="2.0"/><rect x="215.02" y="433.18" width="1.3" height="2.0"/><rect x="220.58" y="433.18" width="1.3" height="2.0"/><rect x="226.13" y="433.18" width="1.3" height="2.0"/><rect x="231.69" y="433.18" width="1.3" height="2.0"/><rect x="237.25" y="433.18" width="1.3" height="2.0"/><rect x="242.80" y="433.18" width="1.3" height="2.0"/><rect x="248.36" y="433.18" width="1.3" height="2.0"/><rect x="253.91" y="433.18" width="1.3" height="2.0"/><rect x="259.47" y="433.18" width="1.3" height="2.0"/><rect x="265.03" y="433.18" width="1.3" height="2.0"/><rect x="270.58" y="433.18" width="1.3" height="2.0"/><rect x="276.14" y="433.18" width="1.3" height="2.0"/><rect x="281.69" y="433.18" width="1.3" height="2.0"/><rect x="287.25" y="433.18" width="1.3" height="2.0"/><rect x="292.81" y="433.18" width="1.3" height="2.0"/><rect x="298.36" y="433.18" width="1.3" height="2.0"/><rect x="303.92" y="433.18" width="1.3" height="2.0"/><rect x="309.47" y="433.18" width="1.3" height="2.0"/><rect x="315.03" y="433.18" width="1.3" height="2.0"/><rect x="320.59" y="433.18" width="1.3" height="2.0"/><rect x="326.14" y="433.18" width="1.3" height="2.0"/><rect x="331.70" y="433.18" width="1.3" height="2.0"/><rect x="337.25" y="433.18" width="1.3" height="2.0"/><rect x="342.81" y="433.18" width="1.3" height="2.0"/><rect x="348.37" y="433.18" width="1.3" height="2.0"/><rect x="353.92" y="433.18" width="1.3" height="2.0"/></g>
<path d="M147.40 477.20H355.50M147.40 453.30H355.50M147.40 429.40H355.50M188.50 427.30V487.40M230.50 427.30V487.40M272.50 427.30V487.40M313.50 427.30V487.40" stroke="#e0e0e0" stroke-width="2.0" fill="none"/>
<path d="M147.40 477.20h3.4M355.50 477.20h-3.4M147.40 453.30h3.4M355.50 453.30h-3.4M147.40 429.40h3.4M355.50 429.40h-3.4M147.40 427.30v3.4M147.40 487.40v-3.4M188.50 427.30v3.4M188.50 487.40v-3.4M230.50 427.30v3.4M230.50 487.40v-3.4M272.50 427.30v3.4M272.50 487.40v-3.4M313.50 427.30v3.4M313.50 487.40v-3.4M355.50 427.30v3.4M355.50 487.40v-3.4" stroke="#262626" stroke-width="2.0" fill="none"/>
<rect x="147.40" y="427.30" width="208.10" height="60.10" fill="none" stroke="#262626" stroke-width="2.0"/>
<g fill="none" stroke="#0072BD" stroke-width="2.0"><circle cx="157.1" cy="441.4" r="4.25"/><circle cx="159.0" cy="433.0" r="4.25"/><circle cx="160.9" cy="444.0" r="4.25"/><circle cx="162.9" cy="448.4" r="4.25"/><circle cx="164.5" cy="449.5" r="4.25"/><circle cx="166.2" cy="451.0" r="4.25"/><circle cx="168.0" cy="452.5" r="4.25"/><circle cx="169.5" cy="453.8" r="4.25"/><circle cx="171.0" cy="455.0" r="4.25"/><circle cx="172.6" cy="456.2" r="4.25"/><circle cx="174.1" cy="457.5" r="4.25"/><circle cx="175.7" cy="458.7" r="4.25"/><circle cx="173.1" cy="461.3" r="4.25"/><circle cx="177.7" cy="457.1" r="4.25"/><circle cx="179.3" cy="456.3" r="4.25"/><circle cx="181.0" cy="455.5" r="4.25"/><circle cx="182.5" cy="455.9" r="4.25"/><circle cx="184.0" cy="456.2" r="4.25"/><circle cx="185.3" cy="457.1" r="4.25"/><circle cx="186.7" cy="458.0" r="4.25"/><circle cx="186.7" cy="463.4" r="4.25"/><circle cx="190.3" cy="469.7" r="4.25"/><circle cx="193.0" cy="473.3" r="4.25"/><circle cx="198.4" cy="476.0" r="4.25"/><circle cx="200.1" cy="476.5" r="4.25"/><circle cx="201.8" cy="477.0" r="4.25"/><circle cx="203.5" cy="477.5" r="4.25"/><circle cx="205.0" cy="479.5" r="4.25"/><circle cx="206.5" cy="481.5" r="4.25"/><circle cx="207.8" cy="483.8" r="4.25"/><circle cx="209.0" cy="486.0" r="4.25"/><circle cx="210.7" cy="486.3" r="4.25"/><circle cx="212.3" cy="486.5" r="4.25"/><circle cx="214.0" cy="486.8" r="4.25"/><circle cx="215.6" cy="486.8" r="4.25"/><circle cx="217.1" cy="486.8" r="4.25"/><circle cx="218.7" cy="486.8" r="4.25"/><circle cx="220.2" cy="486.8" r="4.25"/><circle cx="221.8" cy="486.8" r="4.25"/><circle cx="223.2" cy="485.4" r="4.25"/><circle cx="224.5" cy="484.0" r="4.25"/><circle cx="225.5" cy="476.9" r="4.25"/><circle cx="227.1" cy="476.9" r="4.25"/><circle cx="228.8" cy="476.9" r="4.25"/><circle cx="230.4" cy="476.9" r="4.25"/><circle cx="232.0" cy="476.9" r="4.25"/><circle cx="233.5" cy="476.9" r="4.25"/><circle cx="235.0" cy="476.9" r="4.25"/><circle cx="236.5" cy="476.9" r="4.25"/><circle cx="238.0" cy="476.9" r="4.25"/><circle cx="238.4" cy="465.8" r="4.25"/><circle cx="242.2" cy="460.0" r="4.25"/><circle cx="244.1" cy="454.2" r="4.25"/><circle cx="239.9" cy="448.1" r="4.25"/><circle cx="243.0" cy="446.0" r="4.25"/><circle cx="245.1" cy="448.4" r="4.25"/><circle cx="247.2" cy="445.3" r="4.25"/><circle cx="248.6" cy="446.9" r="4.25"/><circle cx="250.0" cy="439.8" r="4.25"/><circle cx="251.8" cy="441.1" r="4.25"/><circle cx="253.5" cy="436.2" r="4.25"/><circle cx="255.0" cy="438.6" r="4.25"/><circle cx="256.5" cy="435.1" r="4.25"/><circle cx="258.0" cy="432.1" r="4.25"/><circle cx="252.5" cy="436.9" r="4.25"/><circle cx="260.0" cy="431.0" r="4.25"/><circle cx="261.7" cy="433.3" r="4.25"/><circle cx="263.5" cy="427.9" r="4.25"/><circle cx="265.2" cy="433.0" r="4.25"/><circle cx="266.8" cy="426.9" r="4.25"/><circle cx="268.4" cy="431.6" r="4.25"/><circle cx="270.0" cy="427.5" r="4.25"/><circle cx="272.0" cy="433.9" r="4.25"/><circle cx="274.0" cy="432.0" r="4.25"/><circle cx="276.0" cy="430.8" r="4.25"/><circle cx="277.8" cy="435.3" r="4.25"/><circle cx="279.5" cy="428.9" r="4.25"/><circle cx="281.2" cy="431.4" r="4.25"/><circle cx="283.0" cy="433.8" r="4.25"/><circle cx="284.6" cy="428.5" r="4.25"/><circle cx="286.2" cy="433.8" r="4.25"/><circle cx="287.9" cy="426.7" r="4.25"/><circle cx="289.5" cy="430.6" r="4.25"/><circle cx="291.0" cy="426.7" r="4.25"/><circle cx="292.5" cy="433.3" r="4.25"/><circle cx="294.0" cy="431.5" r="4.25"/><circle cx="295.5" cy="430.7" r="4.25"/><circle cx="297.1" cy="436.5" r="4.25"/><circle cx="298.6" cy="431.5" r="4.25"/><circle cx="300.1" cy="435.4" r="4.25"/><circle cx="301.5" cy="439.2" r="4.25"/><circle cx="303.0" cy="435.4" r="4.25"/><circle cx="304.8" cy="442.2" r="4.25"/><circle cx="306.5" cy="436.9" r="4.25"/><circle cx="267.9" cy="438.7" r="4.25"/><circle cx="274.2" cy="439.6" r="4.25"/><circle cx="308.8" cy="442.7" r="4.25"/><circle cx="305.9" cy="456.1" r="4.25"/><circle cx="310.0" cy="455.5" r="4.25"/><circle cx="307.1" cy="464.3" r="4.25"/><circle cx="311.2" cy="461.3" r="4.25"/><circle cx="313.5" cy="471.8" r="4.25"/><circle cx="316.4" cy="476.5" r="4.25"/><circle cx="315.8" cy="478.8" r="4.25"/><circle cx="319.3" cy="466.0" r="4.25"/><circle cx="321.7" cy="448.5" r="4.25"/><circle cx="324.0" cy="440.9" r="4.25"/></g>
<text x="138.80" y="483.95" font-size="19.5" fill="#262626" stroke="#fff" stroke-width="0.18" text-anchor="end">0</text>
<text x="138.80" y="460.05" font-size="19.5" fill="#262626" stroke="#fff" stroke-width="0.18" text-anchor="end">100</text>
<text x="138.80" y="436.15" font-size="19.5" fill="#262626" stroke="#fff" stroke-width="0.18" text-anchor="end">200</text>
<text transform="translate(85.30,502.40) rotate(-90)" font-size="20.0" fill="#262626" stroke="#fff" stroke-width="0.18" textLength="50.90" lengthAdjust="spacingAndGlyphs">TERR</text>
<text transform="translate(95.50,449.20) rotate(-90)" font-size="16.5" fill="#262626" stroke="#fff" stroke-width="0.18" textLength="12.50" lengthAdjust="spacingAndGlyphs">M</text>
<text transform="translate(85.30,433.40) rotate(-90)" font-size="20.0" fill="#262626" stroke="#fff" stroke-width="0.18" textLength="21.20" lengthAdjust="spacingAndGlyphs">SL</text>
<text transform="translate(126.20,544.00) rotate(-45)" font-size="19.5" fill="#262626" stroke="#fff" stroke-width="0.18" textLength="50.5" lengthAdjust="spacingAndGlyphs">10/01</text>
<text transform="translate(167.30,544.00) rotate(-45)" font-size="19.5" fill="#262626" stroke="#fff" stroke-width="0.18" textLength="50.5" lengthAdjust="spacingAndGlyphs">10/02</text>
<text transform="translate(209.30,544.00) rotate(-45)" font-size="19.5" fill="#262626" stroke="#fff" stroke-width="0.18" textLength="50.5" lengthAdjust="spacingAndGlyphs">10/03</text>
<text transform="translate(251.30,544.00) rotate(-45)" font-size="19.5" fill="#262626" stroke="#fff" stroke-width="0.18" textLength="50.5" lengthAdjust="spacingAndGlyphs">10/04</text>
<text transform="translate(292.30,544.00) rotate(-45)" font-size="19.5" fill="#262626" stroke="#fff" stroke-width="0.18" textLength="50.5" lengthAdjust="spacingAndGlyphs">10/05</text>
<text transform="translate(334.30,544.00) rotate(-45)" font-size="19.5" fill="#262626" stroke="#fff" stroke-width="0.18" textLength="50.5" lengthAdjust="spacingAndGlyphs">10/06</text>
<text x="226.70" y="575.8" font-size="21.3" fill="#262626" stroke="#fff" stroke-width="0.18" textLength="49.5" lengthAdjust="spacingAndGlyphs">Time</text>
<g fill="#b0b0b0"><rect x="491.45" y="477.42" width="1.3" height="2.0"/><rect x="497.01" y="477.42" width="1.3" height="2.0"/><rect x="502.56" y="477.42" width="1.3" height="2.0"/><rect x="508.12" y="477.42" width="1.3" height="2.0"/><rect x="513.67" y="477.42" width="1.3" height="2.0"/><rect x="519.23" y="477.42" width="1.3" height="2.0"/><rect x="524.79" y="477.42" width="1.3" height="2.0"/><rect x="530.34" y="477.42" width="1.3" height="2.0"/><rect x="535.90" y="477.42" width="1.3" height="2.0"/><rect x="541.45" y="477.42" width="1.3" height="2.0"/><rect x="547.01" y="477.42" width="1.3" height="2.0"/><rect x="552.57" y="477.42" width="1.3" height="2.0"/><rect x="558.12" y="477.42" width="1.3" height="2.0"/><rect x="563.68" y="477.42" width="1.3" height="2.0"/><rect x="569.23" y="477.42" width="1.3" height="2.0"/><rect x="574.79" y="477.42" width="1.3" height="2.0"/><rect x="580.35" y="477.42" width="1.3" height="2.0"/><rect x="585.90" y="477.42" width="1.3" height="2.0"/><rect x="591.46" y="477.42" width="1.3" height="2.0"/><rect x="597.01" y="477.42" width="1.3" height="2.0"/><rect x="602.57" y="477.42" width="1.3" height="2.0"/><rect x="608.13" y="477.42" width="1.3" height="2.0"/><rect x="613.68" y="477.42" width="1.3" height="2.0"/><rect x="619.24" y="477.42" width="1.3" height="2.0"/><rect x="624.79" y="477.42" width="1.3" height="2.0"/><rect x="630.35" y="477.42" width="1.3" height="2.0"/><rect x="635.91" y="477.42" width="1.3" height="2.0"/><rect x="641.46" y="477.42" width="1.3" height="2.0"/><rect x="647.02" y="477.42" width="1.3" height="2.0"/><rect x="652.57" y="477.42" width="1.3" height="2.0"/><rect x="658.13" y="477.42" width="1.3" height="2.0"/><rect x="663.69" y="477.42" width="1.3" height="2.0"/><rect x="669.24" y="477.42" width="1.3" height="2.0"/><rect x="674.80" y="477.42" width="1.3" height="2.0"/><rect x="680.35" y="477.42" width="1.3" height="2.0"/><rect x="685.91" y="477.42" width="1.3" height="2.0"/><rect x="691.47" y="477.42" width="1.3" height="2.0"/><rect x="697.02" y="477.42" width="1.3" height="2.0"/><rect x="491.45" y="468.44" width="1.3" height="2.0"/><rect x="497.01" y="468.44" width="1.3" height="2.0"/><rect x="502.56" y="468.44" width="1.3" height="2.0"/><rect x="508.12" y="468.44" width="1.3" height="2.0"/><rect x="513.67" y="468.44" width="1.3" height="2.0"/><rect x="519.23" y="468.44" width="1.3" height="2.0"/><rect x="524.79" y="468.44" width="1.3" height="2.0"/><rect x="530.34" y="468.44" width="1.3" height="2.0"/><rect x="535.90" y="468.44" width="1.3" height="2.0"/><rect x="541.45" y="468.44" width="1.3" height="2.0"/><rect x="547.01" y="468.44" width="1.3" height="2.0"/><rect x="552.57" y="468.44" width="1.3" height="2.0"/><rect x="558.12" y="468.44" width="1.3" height="2.0"/><rect x="563.68" y="468.44" width="1.3" height="2.0"/><rect x="569.23" y="468.44" width="1.3" height="2.0"/><rect x="574.79" y="468.44" width="1.3" height="2.0"/><rect x="580.35" y="468.44" width="1.3" height="2.0"/><rect x="585.90" y="468.44" width="1.3" height="2.0"/><rect x="591.46" y="468.44" width="1.3" height="2.0"/><rect x="597.01" y="468.44" width="1.3" height="2.0"/><rect x="602.57" y="468.44" width="1.3" height="2.0"/><rect x="608.13" y="468.44" width="1.3" height="2.0"/><rect x="613.68" y="468.44" width="1.3" height="2.0"/><rect x="619.24" y="468.44" width="1.3" height="2.0"/><rect x="624.79" y="468.44" width="1.3" height="2.0"/><rect x="630.35" y="468.44" width="1.3" height="2.0"/><rect x="635.91" y="468.44" width="1.3" height="2.0"/><rect x="641.46" y="468.44" width="1.3" height="2.0"/><rect x="647.02" y="468.44" width="1.3" height="2.0"/><rect x="652.57" y="468.44" width="1.3" height="2.0"/><rect x="658.13" y="468.44" width="1.3" height="2.0"/><rect x="663.69" y="468.44" width="1.3" height="2.0"/><rect x="669.24" y="468.44" width="1.3" height="2.0"/><rect x="674.80" y="468.44" width="1.3" height="2.0"/><rect x="680.35" y="468.44" width="1.3" height="2.0"/><rect x="685.91" y="468.44" width="1.3" height="2.0"/><rect x="691.47" y="468.44" width="1.3" height="2.0"/><rect x="697.02" y="468.44" width="1.3" height="2.0"/><rect x="491.45" y="459.46" width="1.3" height="2.0"/><rect x="497.01" y="459.46" width="1.3" height="2.0"/><rect x="502.56" y="459.46" width="1.3" height="2.0"/><rect x="508.12" y="459.46" width="1.3" height="2.0"/><rect x="513.67" y="459.46" width="1.3" height="2.0"/><rect x="519.23" y="459.46" width="1.3" height="2.0"/><rect x="524.79" y="459.46" width="1.3" height="2.0"/><rect x="530.34" y="459.46" width="1.3" height="2.0"/><rect x="535.90" y="459.46" width="1.3" height="2.0"/><rect x="541.45" y="459.46" width="1.3" height="2.0"/><rect x="547.01" y="459.46" width="1.3" height="2.0"/><rect x="552.57" y="459.46" width="1.3" height="2.0"/><rect x="558.12" y="459.46" width="1.3" height="2.0"/><rect x="563.68" y="459.46" width="1.3" height="2.0"/><rect x="569.23" y="459.46" width="1.3" height="2.0"/><rect x="574.79" y="459.46" width="1.3" height="2.0"/><rect x="580.35" y="459.46" width="1.3" height="2.0"/><rect x="585.90" y="459.46" width="1.3" height="2.0"/><rect x="591.46" y="459.46" width="1.3" height="2.0"/><rect x="597.01" y="459.46" width="1.3" height="2.0"/><rect x="602.57" y="459.46" width="1.3" height="2.0"/><rect x="608.13" y="459.46" width="1.3" height="2.0"/><rect x="613.68" y="459.46" width="1.3" height="2.0"/><rect x="619.24" y="459.46" width="1.3" height="2.0"/><rect x="624.79" y="459.46" width="1.3" height="2.0"/><rect x="630.35" y="459.46" width="1.3" height="2.0"/><rect x="635.91" y="459.46" width="1.3" height="2.0"/><rect x="641.46" y="459.46" width="1.3" height="2.0"/><rect x="647.02" y="459.46" width="1.3" height="2.0"/><rect x="652.57" y="459.46" width="1.3" height="2.0"/><rect x="658.13" y="459.46" width="1.3" height="2.0"/><rect x="663.69" y="459.46" width="1.3" height="2.0"/><rect x="669.24" y="459.46" width="1.3" height="2.0"/><rect x="674.80" y="459.46" width="1.3" height="2.0"/><rect x="680.35" y="459.46" width="1.3" height="2.0"/><rect x="685.91" y="459.46" width="1.3" height="2.0"/><rect x="691.47" y="459.46" width="1.3" height="2.0"/><rect x="697.02" y="459.46" width="1.3" height="2.0"/><rect x="491.45" y="450.48" width="1.3" height="2.0"/><rect x="497.01" y="450.48" width="1.3" height="2.0"/><rect x="502.56" y="450.48" width="1.3" height="2.0"/><rect x="508.12" y="450.48" width="1.3" height="2.0"/><rect x="513.67" y="450.48" width="1.3" height="2.0"/><rect x="519.23" y="450.48" width="1.3" height="2.0"/><rect x="524.79" y="450.48" width="1.3" height="2.0"/><rect x="530.34" y="450.48" width="1.3" height="2.0"/><rect x="535.90" y="450.48" width="1.3" height="2.0"/><rect x="541.45" y="450.48" width="1.3" height="2.0"/><rect x="547.01" y="450.48" width="1.3" height="2.0"/><rect x="552.57" y="450.48" width="1.3" height="2.0"/><rect x="558.12" y="450.48" width="1.3" height="2.0"/><rect x="563.68" y="450.48" width="1.3" height="2.0"/><rect x="569.23" y="450.48" width="1.3" height="2.0"/><rect x="574.79" y="450.48" width="1.3" height="2.0"/><rect x="580.35" y="450.48" width="1.3" height="2.0"/><rect x="585.90" y="450.48" width="1.3" height="2.0"/><rect x="591.46" y="450.48" width="1.3" height="2.0"/><rect x="597.01" y="450.48" width="1.3" height="2.0"/><rect x="602.57" y="450.48" width="1.3" height="2.0"/><rect x="608.13" y="450.48" width="1.3" height="2.0"/><rect x="613.68" y="450.48" width="1.3" height="2.0"/><rect x="619.24" y="450.48" width="1.3" height="2.0"/><rect x="624.79" y="450.48" width="1.3" height="2.0"/><rect x="630.35" y="450.48" width="1.3" height="2.0"/><rect x="635.91" y="450.48" width="1.3" height="2.0"/><rect x="641.46" y="450.48" width="1.3" height="2.0"/><rect x="647.02" y="450.48" width="1.3" height="2.0"/><rect x="652.57" y="450.48" width="1.3" height="2.0"/><rect x="658.13" y="450.48" width="1.3" height="2.0"/><rect x="663.69" y="450.48" width="1.3" height="2.0"/><rect x="669.24" y="450.48" width="1.3" height="2.0"/><rect x="674.80" y="450.48" width="1.3" height="2.0"/><rect x="680.35" y="450.48" width="1.3" height="2.0"/><rect x="685.91" y="450.48" width="1.3" height="2.0"/><rect x="691.47" y="450.48" width="1.3" height="2.0"/><rect x="697.02" y="450.48" width="1.3" height="2.0"/><rect x="491.45" y="432.52" width="1.3" height="2.0"/><rect x="497.01" y="432.52" width="1.3" height="2.0"/><rect x="502.56" y="432.52" width="1.3" height="2.0"/><rect x="508.12" y="432.52" width="1.3" height="2.0"/><rect x="513.67" y="432.52" width="1.3" height="2.0"/><rect x="519.23" y="432.52" width="1.3" height="2.0"/><rect x="524.79" y="432.52" width="1.3" height="2.0"/><rect x="530.34" y="432.52" width="1.3" height="2.0"/><rect x="535.90" y="432.52" width="1.3" height="2.0"/><rect x="541.45" y="432.52" width="1.3" height="2.0"/><rect x="547.01" y="432.52" width="1.3" height="2.0"/><rect x="552.57" y="432.52" width="1.3" height="2.0"/><rect x="558.12" y="432.52" width="1.3" height="2.0"/><rect x="563.68" y="432.52" width="1.3" height="2.0"/><rect x="569.23" y="432.52" width="1.3" height="2.0"/><rect x="574.79" y="432.52" width="1.3" height="2.0"/><rect x="580.35" y="432.52" width="1.3" height="2.0"/><rect x="585.90" y="432.52" width="1.3" height="2.0"/><rect x="591.46" y="432.52" width="1.3" height="2.0"/><rect x="597.01" y="432.52" width="1.3" height="2.0"/><rect x="602.57" y="432.52" width="1.3" height="2.0"/><rect x="608.13" y="432.52" width="1.3" height="2.0"/><rect x="613.68" y="432.52" width="1.3" height="2.0"/><rect x="619.24" y="432.52" width="1.3" height="2.0"/><rect x="624.79" y="432.52" width="1.3" height="2.0"/><rect x="630.35" y="432.52" width="1.3" height="2.0"/><rect x="635.91" y="432.52" width="1.3" height="2.0"/><rect x="641.46" y="432.52" width="1.3" height="2.0"/><rect x="647.02" y="432.52" width="1.3" height="2.0"/><rect x="652.57" y="432.52" width="1.3" height="2.0"/><rect x="658.13" y="432.52" width="1.3" height="2.0"/><rect x="663.69" y="432.52" width="1.3" height="2.0"/><rect x="669.24" y="432.52" width="1.3" height="2.0"/><rect x="674.80" y="432.52" width="1.3" height="2.0"/><rect x="680.35" y="432.52" width="1.3" height="2.0"/><rect x="685.91" y="432.52" width="1.3" height="2.0"/><rect x="691.47" y="432.52" width="1.3" height="2.0"/><rect x="697.02" y="432.52" width="1.3" height="2.0"/></g>
<path d="M490.50 442.50H698.50M532.50 427.30V487.40M573.50 427.30V487.40M615.50 427.30V487.40M657.00 427.30V487.40" stroke="#e0e0e0" stroke-width="2.0" fill="none"/>
<path d="M490.50 487.40h3.4M698.50 487.40h-3.4M490.50 442.50h3.4M698.50 442.50h-3.4M490.50 427.30v3.4M490.50 487.40v-3.4M532.50 427.30v3.4M532.50 487.40v-3.4M573.50 427.30v3.4M573.50 487.40v-3.4M615.50 427.30v3.4M615.50 487.40v-3.4M657.00 427.30v3.4M657.00 487.40v-3.4M698.50 427.30v3.4M698.50 487.40v-3.4" stroke="#262626" stroke-width="2.0" fill="none"/>
<rect x="490.50" y="427.30" width="208.00" height="60.10" fill="none" stroke="#262626" stroke-width="2.0"/>
<g fill="none" stroke="#0072BD" stroke-width="2.0"><circle cx="500.8" cy="470.1" r="4.25"/><circle cx="502.6" cy="455.5" r="4.25"/><circle cx="504.3" cy="441.5" r="4.25"/><circle cx="505.5" cy="427.5" r="4.25"/><circle cx="507.0" cy="429.5" r="4.25"/><circle cx="508.7" cy="432.0" r="4.25"/><circle cx="510.5" cy="434.5" r="4.25"/><circle cx="513.1" cy="449.7" r="4.25"/><circle cx="514.8" cy="464.3" r="4.25"/><circle cx="516.6" cy="478.8" r="4.25"/><circle cx="517.4" cy="479.5" r="4.25"/><circle cx="518.2" cy="480.3" r="4.25"/><circle cx="519.0" cy="481.0" r="4.25"/><circle cx="520.0" cy="481.8" r="4.25"/><circle cx="521.0" cy="482.7" r="4.25"/><circle cx="522.0" cy="483.5" r="4.25"/><circle cx="523.0" cy="484.1" r="4.25"/><circle cx="524.0" cy="484.8" r="4.25"/><circle cx="525.0" cy="485.4" r="4.25"/><circle cx="526.0" cy="486.0" r="4.25"/><circle cx="527.0" cy="486.2" r="4.25"/><circle cx="528.0" cy="486.5" r="4.25"/><circle cx="529.0" cy="486.8" r="4.25"/><circle cx="530.0" cy="487.0" r="4.25"/><circle cx="530.9" cy="487.0" r="4.25"/><circle cx="531.8" cy="487.0" r="4.25"/><circle cx="532.6" cy="487.0" r="4.25"/><circle cx="533.5" cy="487.0" r="4.25"/><circle cx="534.4" cy="487.0" r="4.25"/><circle cx="535.2" cy="487.0" r="4.25"/><circle cx="536.1" cy="487.0" r="4.25"/><circle cx="537.0" cy="487.0" r="4.25"/><circle cx="538.5" cy="485.5" r="4.25"/><circle cx="539.3" cy="482.3" r="4.25"/><circle cx="540.5" cy="478.8" r="4.25"/><circle cx="541.7" cy="475.3" r="4.25"/><circle cx="542.8" cy="471.3" r="4.25"/><circle cx="544.6" cy="457.8" r="4.25"/><circle cx="545.8" cy="442.1" r="4.25"/><circle cx="547.5" cy="426.3" r="4.25"/><circle cx="549.0" cy="428.5" r="4.25"/><circle cx="550.5" cy="431.0" r="4.25"/><circle cx="552.0" cy="433.5" r="4.25"/><circle cx="554.5" cy="447.9" r="4.25"/><circle cx="556.3" cy="461.9" r="4.25"/><circle cx="557.5" cy="474.0" r="4.25"/><circle cx="558.3" cy="475.2" r="4.25"/><circle cx="559.2" cy="476.3" r="4.25"/><circle cx="560.0" cy="477.5" r="4.25"/><circle cx="561.0" cy="478.7" r="4.25"/><circle cx="562.0" cy="479.8" r="4.25"/><circle cx="563.0" cy="481.0" r="4.25"/><circle cx="564.0" cy="482.0" r="4.25"/><circle cx="565.0" cy="483.0" r="4.25"/><circle cx="566.0" cy="484.0" r="4.25"/><circle cx="567.0" cy="485.0" r="4.25"/><circle cx="568.0" cy="485.5" r="4.25"/><circle cx="569.0" cy="486.0" r="4.25"/><circle cx="570.0" cy="486.5" r="4.25"/><circle cx="571.0" cy="487.0" r="4.25"/><circle cx="571.9" cy="487.0" r="4.25"/><circle cx="572.8" cy="487.0" r="4.25"/><circle cx="573.7" cy="487.0" r="4.25"/><circle cx="574.6" cy="487.0" r="4.25"/><circle cx="575.5" cy="487.0" r="4.25"/><circle cx="576.4" cy="487.0" r="4.25"/><circle cx="577.3" cy="487.0" r="4.25"/><circle cx="578.2" cy="487.0" r="4.25"/><circle cx="579.1" cy="487.0" r="4.25"/><circle cx="580.0" cy="487.0" r="4.25"/><circle cx="581.5" cy="484.0" r="4.25"/><circle cx="583.1" cy="479.0" r="4.25"/><circle cx="584.3" cy="476.3" r="4.25"/><circle cx="585.3" cy="464.3" r="4.25"/><circle cx="586.6" cy="450.6" r="4.25"/><circle cx="589.1" cy="438.1" r="4.25"/><circle cx="590.9" cy="445.4" r="4.25"/><circle cx="593.0" cy="447.2" r="4.25"/><circle cx="595.2" cy="449.7" r="4.25"/><circle cx="596.0" cy="459.2" r="4.25"/><circle cx="597.7" cy="466.9" r="4.25"/><circle cx="599.4" cy="473.7" r="4.25"/><circle cx="601.8" cy="477.3" r="4.25"/><circle cx="603.8" cy="480.5" r="4.25"/><circle cx="605.5" cy="483.5" r="4.25"/><circle cx="607.5" cy="486.0" r="4.25"/><circle cx="608.4" cy="486.2" r="4.25"/><circle cx="609.3" cy="486.3" r="4.25"/><circle cx="610.2" cy="486.5" r="4.25"/><circle cx="611.1" cy="486.6" r="4.25"/><circle cx="612.0" cy="486.8" r="4.25"/><circle cx="612.9" cy="486.8" r="4.25"/><circle cx="613.9" cy="486.8" r="4.25"/><circle cx="614.8" cy="486.8" r="4.25"/><circle cx="615.7" cy="486.8" r="4.25"/><circle cx="616.6" cy="486.8" r="4.25"/><circle cx="617.5" cy="486.8" r="4.25"/><circle cx="618.5" cy="486.8" r="4.25"/><circle cx="619.4" cy="486.8" r="4.25"/><circle cx="620.3" cy="486.8" r="4.25"/><circle cx="621.2" cy="486.8" r="4.25"/><circle cx="622.1" cy="486.8" r="4.25"/><circle cx="623.1" cy="486.8" r="4.25"/><circle cx="624.0" cy="486.8" r="4.25"/><circle cx="625.5" cy="482.0" r="4.25"/><circle cx="627.3" cy="477.6" r="4.25"/><circle cx="629.1" cy="470.8" r="4.25"/><circle cx="631.0" cy="466.5" r="4.25"/><circle cx="632.8" cy="463.8" r="4.25"/><circle cx="634.7" cy="461.6" r="4.25"/><circle cx="636.5" cy="462.2" r="4.25"/><circle cx="638.2" cy="465.0" r="4.25"/><circle cx="639.7" cy="468.5" r="4.25"/><circle cx="641.3" cy="473.0" r="4.25"/><circle cx="642.8" cy="478.5" r="4.25"/><circle cx="644.6" cy="481.5" r="4.25"/><circle cx="645.5" cy="482.1" r="4.25"/><circle cx="646.3" cy="482.8" r="4.25"/><circle cx="647.1" cy="483.4" r="4.25"/><circle cx="648.0" cy="484.0" r="4.25"/><circle cx="649.0" cy="484.5" r="4.25"/><circle cx="650.0" cy="485.0" r="4.25"/><circle cx="651.0" cy="485.5" r="4.25"/><circle cx="652.0" cy="486.0" r="4.25"/><circle cx="653.0" cy="486.2" r="4.25"/><circle cx="654.0" cy="486.4" r="4.25"/><circle cx="655.0" cy="486.6" r="4.25"/><circle cx="656.0" cy="486.8" r="4.25"/><circle cx="656.9" cy="486.8" r="4.25"/><circle cx="657.8" cy="486.8" r="4.25"/><circle cx="658.7" cy="486.8" r="4.25"/><circle cx="659.6" cy="486.8" r="4.25"/><circle cx="660.5" cy="486.8" r="4.25"/><circle cx="661.4" cy="486.8" r="4.25"/><circle cx="662.3" cy="486.8" r="4.25"/><circle cx="663.2" cy="486.8" r="4.25"/><circle cx="664.1" cy="486.8" r="4.25"/><circle cx="665.0" cy="486.8" r="4.25"/><circle cx="665.9" cy="486.8" r="4.25"/><circle cx="666.8" cy="486.8" r="4.25"/><circle cx="667.7" cy="486.8" r="4.25"/></g>
<text x="481.90" y="494.15" font-size="19.5" fill="#262626" stroke="#fff" stroke-width="0.18" text-anchor="end">0</text>
<text x="481.90" y="449.25" font-size="19.5" fill="#262626" stroke="#fff" stroke-width="0.18" text-anchor="end">500</text>
<text transform="translate(398.50,503.30) rotate(-90)" font-size="20.0" fill="#262626" stroke="#fff" stroke-width="0.18" textLength="40.60" lengthAdjust="spacingAndGlyphs">SUN</text>
<text transform="translate(407.50,457.50) rotate(-90)" font-size="16.5" fill="#262626" stroke="#fff" stroke-width="0.18" textLength="7.20" lengthAdjust="spacingAndGlyphs">F</text>
<text transform="translate(398.50,448.20) rotate(-90)" font-size="20.0" fill="#262626" stroke="#fff" stroke-width="0.18" textLength="37.50" lengthAdjust="spacingAndGlyphs">LUX</text>
<text transform="translate(469.30,544.00) rotate(-45)" font-size="19.5" fill="#262626" stroke="#fff" stroke-width="0.18" textLength="50.5" lengthAdjust="spacingAndGlyphs">10/01</text>
<text transform="translate(511.30,544.00) rotate(-45)" font-size="19.5" fill="#262626" stroke="#fff" stroke-width="0.18" textLength="50.5" lengthAdjust="spacingAndGlyphs">10/02</text>
<text transform="translate(552.30,544.00) rotate(-45)" font-size="19.5" fill="#262626" stroke="#fff" stroke-width="0.18" textLength="50.5" lengthAdjust="spacingAndGlyphs">10/03</text>
<text transform="translate(594.30,544.00) rotate(-45)" font-size="19.5" fill="#262626" stroke="#fff" stroke-width="0.18" textLength="50.5" lengthAdjust="spacingAndGlyphs">10/04</text>
<text transform="translate(635.80,544.00) rotate(-45)" font-size="19.5" fill="#262626" stroke="#fff" stroke-width="0.18" textLength="50.5" lengthAdjust="spacingAndGlyphs">10/05</text>
<text transform="translate(677.30,544.00) rotate(-45)" font-size="19.5" fill="#262626" stroke="#fff" stroke-width="0.18" textLength="50.5" lengthAdjust="spacingAndGlyphs">10/06</text>
<text x="569.75" y="575.8" font-size="21.3" fill="#262626" stroke="#fff" stroke-width="0.18" textLength="49.5" lengthAdjust="spacingAndGlyphs">Time</text>
</svg></body></html>
